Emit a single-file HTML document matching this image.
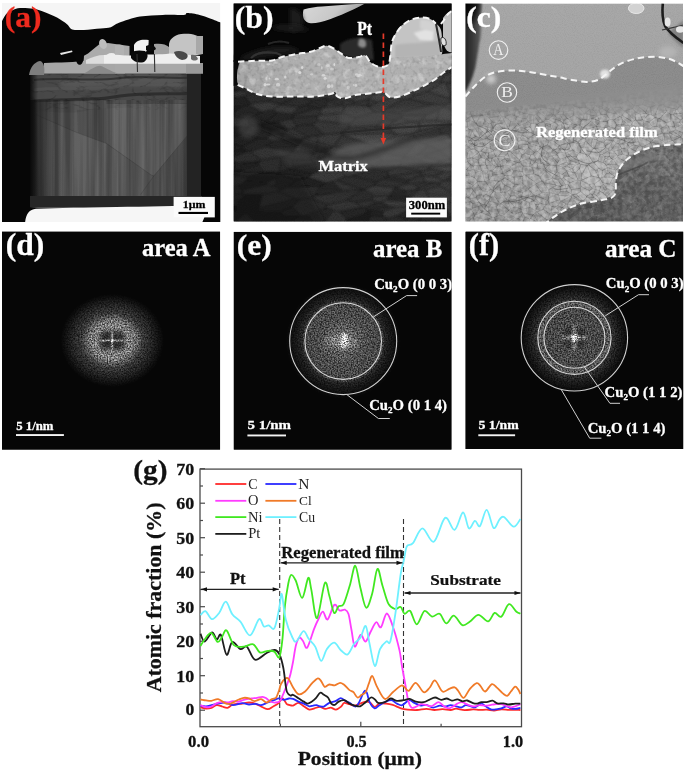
<!DOCTYPE html>
<html><head><meta charset="utf-8"><title>Figure</title>
<style>html,body{margin:0;padding:0;background:#fff;width:685px;height:772px;overflow:hidden;font-family:"Liberation Serif",serif}svg{display:block;will-change:transform}</style>
</head><body>
<svg width="685" height="772" viewBox="0 0 685 772">
<defs>
<filter id="nz" x="0" y="0" width="100%" height="100%">
  <feTurbulence type="fractalNoise" baseFrequency="0.9" numOctaves="2" seed="3" result="t"/>
  <feColorMatrix type="matrix" values="0 0 0 0 1  0 0 0 0 1  0 0 0 0 1  1.4 0 0 0 -0.55"/>
  <feComposite operator="in" in2="SourceGraphic"/>
</filter>
<filter id="nzd" x="0" y="0" width="100%" height="100%">
  <feTurbulence type="fractalNoise" baseFrequency="0.9" numOctaves="2" seed="7" result="t"/>
  <feColorMatrix type="matrix" values="0 0 0 0 0  0 0 0 0 0  0 0 0 0 0  1.4 0 0 0 -0.55"/>
  <feComposite operator="in" in2="SourceGraphic"/>
</filter>
<filter id="streak" x="0" y="0" width="100%" height="100%">
  <feTurbulence type="fractalNoise" baseFrequency="0.35 0.006" numOctaves="2" seed="5"/>
  <feColorMatrix type="matrix" values="0 0 0 0 1  0 0 0 0 1  0 0 0 0 1  1.2 0 0 0 -0.45"/>
  <feComposite operator="in" in2="SourceGraphic"/>
</filter>
<filter id="grain" x="0" y="0" width="100%" height="100%">
  <feTurbulence type="turbulence" baseFrequency="0.06 0.12" numOctaves="3" seed="11"/>
  <feColorMatrix type="matrix" values="0 0 0 0 0  0 0 0 0 0  0 0 0 0 0  -2.2 0 0 0 0.55"/>
  <feComposite operator="in" in2="SourceGraphic"/>
</filter>
<filter id="net" x="0" y="0" width="100%" height="100%">
  <feTurbulence type="turbulence" baseFrequency="0.09" numOctaves="2" seed="21"/>
  <feColorMatrix type="matrix" values="0 0 0 0 0  0 0 0 0 0  0 0 0 0 0  -4 0 0 0 0.5"/>
  <feComposite operator="in" in2="SourceGraphic"/>
</filter>
<filter id="blur07" x="-30%" y="-30%" width="160%" height="160%"><feGaussianBlur stdDeviation="0.7"/></filter>
<filter id="mottle" x="0" y="0" width="100%" height="100%">
  <feTurbulence type="fractalNoise" baseFrequency="0.12" numOctaves="3" seed="9"/>
  <feColorMatrix type="matrix" values="0 0 0 0 1  0 0 0 0 1  0 0 0 0 1  2.4 0 0 0 -1.2"/>
  <feComposite operator="in" in2="SourceGraphic"/>
</filter>
<filter id="mottleD" x="0" y="0" width="100%" height="100%">
  <feTurbulence type="fractalNoise" baseFrequency="0.25" numOctaves="2" seed="13"/>
  <feColorMatrix type="matrix" values="0 0 0 0 0  0 0 0 0 0  0 0 0 0 0  1.6 0 0 0 -0.75"/>
  <feComposite operator="in" in2="SourceGraphic"/>
</filter>
<filter id="speckle1" x="0" y="0" width="1" height="1" color-interpolation-filters="sRGB">
  <feTurbulence type="fractalNoise" baseFrequency="0.7" numOctaves="2" seed="31" result="n"/>
  <feColorMatrix in="n" type="matrix" values="1 0 0 0 0  1 0 0 0 0  1 0 0 0 0  0 0 0 0 1" result="ng"/>
  <feComponentTransfer in="ng" result="nc"><feFuncR type="linear" slope="2.0" intercept="-0.5"/><feFuncG type="linear" slope="2.0" intercept="-0.5"/><feFuncB type="linear" slope="2.0" intercept="-0.5"/></feComponentTransfer>
  <feComposite in="SourceGraphic" in2="nc" operator="arithmetic" k1="1.3" k2="0.35" k3="0" k4="0"/>
  <feGaussianBlur stdDeviation="0.45"/>
</filter>
<filter id="speckle2" x="0" y="0" width="1" height="1" color-interpolation-filters="sRGB">
  <feTurbulence type="fractalNoise" baseFrequency="0.7" numOctaves="2" seed="37" result="n"/>
  <feColorMatrix in="n" type="matrix" values="1 0 0 0 0  1 0 0 0 0  1 0 0 0 0  0 0 0 0 1" result="ng"/>
  <feComponentTransfer in="ng" result="nc"><feFuncR type="linear" slope="2.0" intercept="-0.5"/><feFuncG type="linear" slope="2.0" intercept="-0.5"/><feFuncB type="linear" slope="2.0" intercept="-0.5"/></feComponentTransfer>
  <feComposite in="SourceGraphic" in2="nc" operator="arithmetic" k1="1.3" k2="0.35" k3="0" k4="0"/>
  <feGaussianBlur stdDeviation="0.45"/>
</filter>
<filter id="speckle3" x="0" y="0" width="1" height="1" color-interpolation-filters="sRGB">
  <feTurbulence type="fractalNoise" baseFrequency="0.7" numOctaves="2" seed="41" result="n"/>
  <feColorMatrix in="n" type="matrix" values="1 0 0 0 0  1 0 0 0 0  1 0 0 0 0  0 0 0 0 1" result="ng"/>
  <feComponentTransfer in="ng" result="nc"><feFuncR type="linear" slope="2.0" intercept="-0.5"/><feFuncG type="linear" slope="2.0" intercept="-0.5"/><feFuncB type="linear" slope="2.0" intercept="-0.5"/></feComponentTransfer>
  <feComposite in="SourceGraphic" in2="nc" operator="arithmetic" k1="1.3" k2="0.35" k3="0" k4="0"/>
  <feGaussianBlur stdDeviation="0.45"/>
</filter>
<filter id="vstreak" x="0" y="0" width="100%" height="100%" color-interpolation-filters="sRGB">
  <feTurbulence type="fractalNoise" baseFrequency="0.2 0.004" numOctaves="3" seed="5"/>
  <feColorMatrix type="matrix" values="1 0 0 0 0  1 0 0 0 0  1 0 0 0 0  0 0 0 0 1"/>
  <feComponentTransfer><feFuncR type="linear" slope="2.2" intercept="-0.6"/><feFuncG type="linear" slope="2.2" intercept="-0.6"/><feFuncB type="linear" slope="2.2" intercept="-0.6"/></feComponentTransfer>
  <feComposite operator="in" in2="SourceGraphic"/>
</filter>
<filter id="omottle" x="0" y="0" width="100%" height="100%" color-interpolation-filters="sRGB">
  <feTurbulence type="fractalNoise" baseFrequency="0.22" numOctaves="3" seed="17"/>
  <feColorMatrix type="matrix" values="1 0 0 0 0  1 0 0 0 0  1 0 0 0 0  0 0 0 0 1"/>
  <feComponentTransfer><feFuncR type="linear" slope="2.6" intercept="-0.8"/><feFuncG type="linear" slope="2.6" intercept="-0.8"/><feFuncB type="linear" slope="2.6" intercept="-0.8"/></feComponentTransfer>
  <feComposite operator="in" in2="SourceGraphic"/>
</filter>
<filter id="blur1" x="-40%" y="-40%" width="180%" height="180%"><feGaussianBlur stdDeviation="1"/></filter>
<filter id="blur2" x="-60%" y="-60%" width="220%" height="220%"><feGaussianBlur stdDeviation="2"/></filter>
<filter id="blur4" x="-80%" y="-80%" width="260%" height="260%"><feGaussianBlur stdDeviation="4"/></filter>
<radialGradient id="glowD" cx="0.5" cy="0.5" r="0.5">
  <stop offset="0" stop-color="#9a9a9a"/>
  <stop offset="0.45" stop-color="#7a7a7a"/>
  <stop offset="0.7" stop-color="#3a3a3a"/>
  <stop offset="0.88" stop-color="#141414"/>
  <stop offset="1" stop-color="#000" stop-opacity="0"/>
</radialGradient>
<radialGradient id="glowE" cx="0.5" cy="0.5" r="0.5">
  <stop offset="0" stop-color="#9a9a9a"/>
  <stop offset="0.25" stop-color="#6a6a6a"/>
  <stop offset="0.6" stop-color="#4a4a4a"/>
  <stop offset="0.72" stop-color="#3a3a3a"/>
  <stop offset="0.85" stop-color="#151515"/>
  <stop offset="1" stop-color="#000" stop-opacity="0"/>
</radialGradient>
<radialGradient id="glowF" cx="0.5" cy="0.5" r="0.5">
  <stop offset="0" stop-color="#9a9a9a"/>
  <stop offset="0.25" stop-color="#606060"/>
  <stop offset="0.55" stop-color="#4a4a4a"/>
  <stop offset="0.68" stop-color="#3a3a3a"/>
  <stop offset="0.8" stop-color="#1c1c1c"/>
  <stop offset="1" stop-color="#000" stop-opacity="0"/>
</radialGradient>
<marker id="ahR" viewBox="0 0 10 10" refX="9" refY="5" markerWidth="5" markerHeight="5" orient="auto-start-reverse" markerUnits="userSpaceOnUse">
  <path d="M0,1 L10,5 L0,9 Z" fill="#e53a2a"/>
</marker>
<marker id="ahK" viewBox="0 0 10 10" refX="10" refY="5" markerWidth="7" markerHeight="5" orient="auto-start-reverse" markerUnits="userSpaceOnUse">
  <path d="M0,1 L10,5 L0,9 Z" fill="#222"/>
</marker>
<clipPath id="cpA"><rect x="2" y="3" width="218.3" height="219"/></clipPath>
<clipPath id="cpB"><rect x="233.6" y="3.4" width="218" height="218.2"/></clipPath>
<clipPath id="cpC"><rect x="465.4" y="3.4" width="217.6" height="218.2"/></clipPath>
<clipPath id="cpD"><rect x="2" y="231.5" width="218.2" height="218.3"/></clipPath>
<clipPath id="cpE"><rect x="233.6" y="231.8" width="218" height="218"/></clipPath>
<clipPath id="cpF"><rect x="465.4" y="231.5" width="218" height="217.5"/></clipPath>
</defs>
<g clip-path="url(#cpA)">
<rect x="2" y="3" width="218.3" height="219" fill="#f5f5f5"/>
<path d="M2,21 C2.8,19.7 4.9,15.2 6.7,13.4 C8.5,11.6 10.8,10.9 13,10 C15.2,9.1 16.6,8.2 20,8 C23.4,7.8 29.7,8.1 33.6,8.7 C37.5,9.3 39.7,10.3 43.6,11.8 C47.5,13.3 53.1,15.5 57,17.6 C60.9,19.7 64.5,22.3 67,24.3 C69.5,26.3 69.4,28.5 72.2,29.4 C75,30.3 79.2,30 84,29.9 C88.8,29.8 96.2,28.9 100.7,28.5 C105.2,28.1 107.8,28.1 110.8,27.2 C113.8,26.2 114.1,24.6 119,22.8 C123.9,21 132.7,17.9 140,16.6 C147.3,15.3 155.5,15.2 162.8,14.9 C170.1,14.6 179.7,15.2 183.8,14.9 C187.9,14.6 184.7,13.1 187.3,13.1 C189.9,13.1 195.8,14 199.6,14.9 C203.4,15.8 206.5,17.1 210.1,18.4 C213.7,19.7 219.2,21.9 221,22.6 L221,223 L1,223 Z" fill="#060606"/>
<linearGradient id="specG" x1="0" y1="0" x2="1" y2="0"><stop offset="0" stop-color="#464646"/><stop offset="0.12" stop-color="#525252"/><stop offset="0.5" stop-color="#555"/><stop offset="0.8" stop-color="#4e4e4e"/><stop offset="0.9" stop-color="#424242"/><stop offset="0.97" stop-color="#262626"/><stop offset="1" stop-color="#141414"/></linearGradient>
<rect x="30" y="70" width="166" height="138" fill="url(#specG)"/>
<path d="M30,70 L200,70 L200,104 C180,104 160,100 140,106 C120,110 100,106 80,112 C60,114 45,110 30,112 Z" fill="#474747" opacity="0.9"/>
<path d="M60,80 C90,74 130,73 170,76 C185,77 195,79 200,80 L200,88 C170,86 130,84 90,88 C75,90 65,88 60,86 Z" fill="#5e5e5e" opacity="0.6" filter="url(#blur2)"/>
<path d="M34,80 C60,77 90,82 120,78 C150,75 175,80 198,77" stroke="#2a2a2a" stroke-width="2" fill="none" opacity="0.7"/>
<path d="M34,90 C60,86 90,92 120,86 C150,82 175,88 198,84" stroke="#585858" stroke-width="3" fill="none" opacity="0.5"/>
<path d="M34,101 C60,98 90,102 120,96 C150,92 175,95 198,93" stroke="#262626" stroke-width="3" fill="none" opacity="0.75"/>
<rect x="30" y="70" width="170" height="40" fill="#000" filter="url(#grain)" opacity="0.35"/>
<path d="M106.4,104 L187,104 L187,136 L153.7,176.2 L151,174.9 L106.4,143.4 Z" fill="#626262" opacity="0.55" filter="url(#blur07)"/>
<path d="M77,110 L106.4,108 L106.4,143.4 L77.5,132.8 Z" fill="#3e3e3e" opacity="0.6" filter="url(#blur07)"/>
<path d="M30,112 L77,110 L77.5,132.8 L35.5,114.5 Z" fill="#4a4a4a" opacity="0.5" filter="url(#blur07)"/>
<path d="M153.7,176.2 L187,136 L187,200 L140,200 L140.6,194.6 Z" fill="#4c4c4c" opacity="0.45" filter="url(#blur07)"/>
<path d="M35.5,114.5 L77.5,132.8 L106.4,143.4 L151,174.9 L154,176" stroke="#3a3a3a" stroke-width="0.9" fill="none" opacity="0.5"/>
<path d="M187,136 L153.7,176.2 L140.6,194.6" stroke="#3a3a3a" stroke-width="0.9" fill="none" opacity="0.5"/>
<linearGradient id="ldA" x1="0" y1="0" x2="1" y2="0"><stop offset="0" stop-color="#1a1a1a" stop-opacity="0.9"/><stop offset="1" stop-color="#1a1a1a" stop-opacity="0"/></linearGradient>
<rect x="30" y="100" width="32" height="100" fill="url(#ldA)"/>
<rect x="31" y="100" width="165" height="106" fill="#888" filter="url(#vstreak)" style="mix-blend-mode:overlay" opacity="0.17"/>
<linearGradient id="rsA" x1="0" y1="0" x2="1" y2="0"><stop offset="0" stop-color="#2a2a2a" stop-opacity="0"/><stop offset="1" stop-color="#2a2a2a" stop-opacity="0.5"/></linearGradient>
<rect x="180" y="70" width="8" height="138" fill="url(#rsA)"/>
<rect x="187" y="70" width="14.5" height="137" fill="#232323"/>
<rect x="201" y="70" width="20" height="137" fill="#060606"/>
<linearGradient id="lfA" x1="0" y1="0" x2="1" y2="0"><stop offset="0" stop-color="#060606"/><stop offset="1" stop-color="#060606" stop-opacity="0"/></linearGradient>
<rect x="29" y="70" width="9" height="138" fill="url(#lfA)"/>
<rect x="30" y="196" width="172" height="11" fill="#262626"/>
<path d="M44,73.5 L44,63 C60,62 75,63 88,60 C92,57 95,55 98,54 L100,52 L125,50 L125,73.5 Z" fill="#a6a6a6"/>
<path d="M115,73.5 L115,63 L203,63 L203,73.5 Z" fill="#a8a8a8"/>
<path d="M186,63 L203,63 L203,73.5 L186,73.5 Z" fill="#9a9a9a"/>
<path d="M84,73.5 C90,70 95,66 100,65.7 C105,67 110,71 118,73.5 Z" fill="#8a8a8a"/>
<path d="M29,75 C30,68 34,62 40,61 C44,62 45,68 44,75 Z" fill="#7e7e7e"/>
<path d="M169,44 C170,38 176,34 184,33.8 C192,33.5 199,35 202,40 L203,54 C195,56 180,55 169,54 Z" fill="#c4c4c4"/>
<path d="M196,36 L203,36 L203,54 L196,54 Z" fill="#a8a8a8"/>
<path d="M83.5,64 L83.5,56 L88,53.6 L94.7,48 L99,44.5 L108,43 L115,44 L122,45 L129.5,46 L129.5,64 Z" fill="#ababab"/>
<ellipse cx="103" cy="44" rx="3.8" ry="5" transform="rotate(-20 103 44)" fill="#bdbdbd"/>
<ellipse cx="111.5" cy="58" rx="6" ry="5" fill="#ececec" filter="url(#blur07)"/>
<ellipse cx="125" cy="58.7" rx="4.5" ry="3" fill="#e8e8e8" filter="url(#blur07)"/>
<path d="M115,45.4 C118,44 123,44 124,47 L124,56 L115,56 Z" fill="#b2b2b2"/>
<path d="M154,44 C160,43 166,44 169,47 L169,56 L154,56 Z" fill="#a0a0a0"/>
<path d="M134,45 C136,40 142,39 148.6,40 C149,46 147,52 144,54 L134,54 Z" fill="#f2f2f2"/>
<path d="M104,55 C115,53 125,57 135,55 C150,54 160,55 170,53.5 C180,54 190,55 200,56 L200,63.8 L104,63.8 Z" fill="#eeeeee"/>
<path d="M86,60 C92,57 98,55 104,55 L104,63.8 L86,63.8 Z" fill="#dcdcdc"/>
<path d="M131,53 C134,50 140,50 145,51 C149,54 148,59 144,62 C139,63.5 134,62 131,58 Z" fill="#0a0a0a"/>
<path d="M146,46 C150,44 155,45 156,49 C153,52 149,52 146,50 Z" fill="#0a0a0a"/>
<path d="M174,52 C178,50 184,51 187,54 C189,57 186,60 182,60 C178,59 175,56 174,52 Z" fill="#4a4a4a"/>
<path d="M191,55 C194,54 197,56 198,59 C196,61 193,61 191,59 Z" fill="#6a6a6a"/>
<path d="M73,54 L84,54 C84,58 83.5,61 82,63.5 C80.5,65.5 78,65 77,63 C76,60 74.5,57 73,54 Z" fill="#070707"/>
<path d="M60,53 L72,50.5 L72.5,52 L61,55 Z" fill="#e6e6e6"/>
<path d="M137,54 L137.5,72 M154.4,54 L154.8,72" stroke="#333" stroke-width="1.1"/>
<path d="M25,223 C26,214 29,209.5 36,208.8 C80,207.5 150,206.5 205,205.5 L205,223 Z" fill="#f6f6f6"/>
<path d="M202,223 L204.5,217 L215,217 L215,196 L221,196 L221,223 Z" fill="#060606"/>
<rect x="173.6" y="196.9" width="41.2" height="20.5" fill="#fbfbfb"/>
<text transform="translate(182.77,207.97) scale(1.08,1)" text-anchor="start" font-family="Liberation Serif" font-weight="bold" font-size="11.03" fill="#000" stroke="#000" stroke-width="0.28" stroke-linejoin="round">1μm</text>
<rect x="178.5" y="211.9" width="29.5" height="2.1" fill="#000"/>
<text transform="translate(4.64,27.27) scale(1.04,1)" text-anchor="start" font-family="Liberation Serif" font-weight="bold" font-size="30.31" fill="#ee2a1e" stroke="#ee2a1e" stroke-width="0.29" stroke-linejoin="round">(a)</text>
</g>
<g clip-path="url(#cpB)">
<rect x="233.6" y="3.4" width="218" height="218.2" fill="#060606"/>
<g filter="url(#blur1)"><path d="M388.8,195.6 L374,195.5 L371.2,199.7 L377.6,202.5 L381,202.1 L386.4,200 L389.3,196.6Z" fill="#373737"/><path d="M324.9,74.1 L316.2,80 L321.3,81.6 L350.6,78.7 L353.2,71.7Z" fill="#2a2a2a"/><path d="M360.8,160 L363.5,155.8 L360.8,149.6 L352.2,151.2 L347.1,156.5 L356.2,160.9Z" fill="#434343"/><path d="M416.2,55.7 L418.3,57 L432.9,59.6 L437.2,58 L437.8,56.4 L435.3,55 L416.3,55Z" fill="#373737"/><path d="M264.4,75.5 L270.6,74.2 L263.7,62.3 L238.7,68.4Z" fill="#262626"/><path d="M336.4,180.6 L362.6,189.8 L363.8,189.6 L374.3,185.6 L376.4,182 L351.3,175.7 L345.7,176Z" fill="#2d2d2d"/><path d="M451.6,93.8 L451.6,83.4 L447.7,82.7 L445.6,82.9 L450.5,94.3Z" fill="#3c3c3c"/><path d="M295.5,58.4 L298.6,60.2 L308.9,56.2 L309.2,55 L292.4,55Z" fill="#313131"/><path d="M284.1,156.3 L281.1,156.9 L279.5,171.8 L289.1,169.4 L293.4,167.3 L292.1,160.4Z" fill="#2c2c2c"/><path d="M276.1,90.3 L277.9,92.9 L293.6,96 L301,89.2 L292.3,85.7 L279.6,88.5 L277.8,89.2Z" fill="#282828"/><path d="M441.2,134.4 L438.7,127.4 L419.5,130.3 L411,134.2 L419.2,140.8Z" fill="#414141"/><path d="M308.8,137.3 L292.4,129 L288.8,129.5 L282.5,133.9 L282.6,140 L303.4,139.1Z" fill="#3b3b3b"/><path d="M419.2,220.8 L413.5,222 L423.9,222Z" fill="#2b2b2b"/><path d="M311.1,159.1 L314.4,152.2 L293.3,151.6 L293,151.7 L284.1,156.3 L292.1,160.4Z" fill="#2f2f2f"/><path d="M246.3,194.5 L239.5,200.3 L236.3,205.7 L237.2,210.7 L246.1,211.6 L255.1,209.9 L259.2,207.9 L262.3,194.3Z" fill="#181818"/><path d="M303.6,97.2 L296.1,97.4 L279.8,104.3 L279.9,104.8 L298.9,106.9 L307.3,104.9 L312.9,100.2Z" fill="#2d2d2d"/><path d="M325.6,207.8 L333.1,210.2 L340.1,211.5 L361.7,207.6 L355.4,202.1 L346.7,200.4 L326.8,204.7Z" fill="#343434"/><path d="M239.5,200.3 L246.3,194.5 L243.2,193.2 L233.6,194.7 L233.6,200.6Z" fill="#232323"/><path d="M436.2,222 L451.6,222 L451.6,219.3Z" fill="#2d2d2d"/><path d="M236.1,97.4 L233.6,97.2 L233.6,98.4Z" fill="#141414"/><path d="M361.3,94.9 L375.5,93.5 L381.3,91.5 L383.7,87.1 L355.8,85.1 L342.5,91.2 L350.5,95.2Z" fill="#363636"/><path d="M295.5,58.4 L292.4,55 L283.5,55 L271.7,59.4 L277.4,60.7Z" fill="#3a3a3a"/><path d="M305.2,72.4 L309.1,80.3 L316.2,80 L324.9,74.1 L323.4,68.9Z" fill="#333333"/><path d="M387.9,218.2 L382.6,216.7 L370.5,215.4 L368.1,222 L382.6,222Z" fill="#2b2b2b"/><path d="M317.5,116 L317.5,120.8 L350.1,123.9 L356.3,117.4 L342.1,113.3 L320.9,114.7Z" fill="#404040"/><path d="M389.1,206.4 L367.6,210.3 L367.5,211.2 L383,211.2 L395.1,207.1Z" fill="#303030"/><path d="M249.8,126 L250.1,125.9 L247.7,119.3 L233.9,116 L233.6,116 L233.6,127Z" fill="#2f2f2f"/><path d="M235.6,220.9 L233.6,221.7 L233.6,222 L238.7,222Z" fill="#060606"/><path d="M257.4,125.4 L271.8,130.3 L287.8,129.5 L277,121.9 L262.3,124.3Z" fill="#212121"/><path d="M310,198.2 L326.8,204.7 L346.7,200.4 L361.9,190.1 L342.4,191.1 L313.8,196Z" fill="#323232"/><path d="M342.5,91.2 L355.8,85.1 L351.7,81 L331.1,87 L329.9,90 L336.8,92.2Z" fill="#353535"/><path d="M348,96.8 L330.3,99.3 L342.4,101 L347.1,99.5Z" fill="#404040"/><path d="M236.8,80.7 L233.6,79.3 L233.6,82.5Z" fill="#292929"/><path d="M301.4,216 L306.8,215.6 L325.6,207.8 L326.8,204.7 L310,198.2 L300.4,199.2 L291.9,206.9Z" fill="#2f2f2f"/><path d="M435.7,182.6 L417.6,187.9 L417.7,189.3 L419.8,189.9 L425.7,189.8 L438.7,185.8 L439.9,182.6Z" fill="#383838"/><path d="M389.1,206.4 L395.1,207.1 L413.3,206.6 L420.2,204.7 L414.7,202.1 L386.4,200 L381,202.1Z" fill="#3c3c3c"/><path d="M280.3,189.6 L278.3,191.5 L295.2,198.8 L300.4,199.2 L310,198.2 L313.8,196 L320.5,186.2 L287.6,186.7Z" fill="#2e2e2e"/><path d="M271.2,133.9 L265.9,138.5 L273,141.5 L282.6,140 L282.5,133.9Z" fill="#353535"/><path d="M424.5,182.2 L414.6,184.3 L417.6,187.9 L435.7,182.6Z" fill="#343434"/><path d="M383.2,161.5 L400.6,160.3 L403.4,158.1 L403.8,157.1 L403.7,156.9 L385,153.7 L382.3,154.9 L379.4,157Z" fill="#4a4a4a"/><path d="M279.9,174.9 L261.8,182 L265.5,183.4 L277.8,178.1 L280.6,175.5Z" fill="#242424"/><path d="M347.1,220.1 L340.1,211.5 L333.1,210.2 L324.7,222 L345,222Z" fill="#313131"/><path d="M396.9,216 L413.3,206.6 L395.1,207.1 L383,211.2 L382.6,216.7 L387.9,218.2Z" fill="#393939"/><path d="M278.5,172.2 L279.9,174.9 L280.6,175.5 L296.4,180 L308.2,177.6 L312.3,173.8 L289.1,169.4 L279.5,171.8Z" fill="#242424"/><path d="M419.2,220.8 L421.3,217.1 L405.2,219.1 L406.6,222 L413.5,222Z" fill="#2a2a2a"/><path d="M306.8,215.6 L301.4,216 L299.7,216.4 L290.9,221.1 L291.6,222 L313.9,222Z" fill="#1c1c1c"/><path d="M445.2,180.5 L443.6,180.8 L439.9,182.6 L438.7,185.8 L451.6,192.7 L451.6,180.6Z" fill="#3b3b3b"/><path d="M360.8,149.6 L371.8,145.4 L372.1,144.8 L342.5,134.9 L334.2,145.7 L351.4,151.2 L352.2,151.2Z" fill="#373737"/><path d="M245.9,212.7 L235.6,220.9 L238.7,222 L255,222Z" fill="#232323"/><path d="M406.5,190.9 L395.6,187.5 L395,187.6 L390.3,194.7 L405.3,193.4Z" fill="#2c2c2c"/><path d="M416.2,55.7 L381.2,60.1 L380.3,60.5 L389.6,63.5 L418.3,57Z" fill="#313131"/><path d="M433,164.3 L442,161.2 L424.3,157.1 L420.2,159.1 L424.4,162.9Z" fill="#484848"/><path d="M382.7,111.7 L384.8,118.8 L393.4,121.6 L401.2,118.4 L402.4,115.4 L398.8,113.1Z" fill="#353535"/><path d="M377.6,202.5 L365.1,208 L367.6,210.3 L389.1,206.4 L381,202.1Z" fill="#2a2a2a"/><path d="M390.3,194.7 L395,187.6 L374.3,185.6 L363.8,189.6 L374,195.5 L388.8,195.6Z" fill="#3d3d3d"/><path d="M312.3,173.8 L308.2,177.6 L325.7,183.1 L331.9,181.8 L336.4,180.6 L345.7,176 L338.4,168 L328.7,167.1Z" fill="#3a3a3a"/><path d="M261.8,182 L245.9,180.9 L238.4,185.7 L242.5,190 L266.2,184.4 L265.5,183.4Z" fill="#1d1d1d"/><path d="M323.4,68.9 L324.9,74.1 L353.2,71.7 L359.3,66.8 L360.4,65.7 L331.6,63.1Z" fill="#2b2b2b"/><path d="M293.8,66.2 L296.2,65.2 L298.6,60.2 L295.5,58.4 L277.4,60.7Z" fill="#3b3b3b"/><path d="M341.8,105.6 L340.6,105.6 L325.1,107.3 L320.2,109.1 L320.9,114.7 L342.1,113.3 L344.6,106.3Z" fill="#414141"/><path d="M372,165.8 L372.2,165.9 L383.2,161.5 L379.4,157 L366.5,160.4Z" fill="#414141"/><path d="M291.7,114.2 L277.7,112.4 L262.3,124.3 L277,121.9 L291.1,118.9 L293.6,117.6 L293,115.6Z" fill="#262626"/><path d="M246.1,211.6 L237.2,210.7 L233.6,211.4 L233.6,221.7 L235.6,220.9 L245.9,212.7Z" fill="#141414"/><path d="M355.6,101.7 L368.1,98.7 L375.5,93.5 L361.3,94.9 L351.5,99.8Z" fill="#434343"/><path d="M436.4,120.4 L451.6,121.4 L451.6,111 L444.1,107 L439.3,109.2Z" fill="#4d4d4d"/><path d="M421,171.8 L421,174.9 L422.8,175.5 L434.2,176.4 L444.9,171.4 L428.7,168.2 L422.3,170.8Z" fill="#373737"/><path d="M363.5,155.8 L382.3,154.9 L385,153.7 L385.3,149.7 L371.8,145.4 L360.8,149.6Z" fill="#3b3b3b"/><path d="M369.3,106.9 L377.5,102 L368.1,98.8 L368.1,106.2Z" fill="#393939"/><path d="M248.3,151.2 L244.3,149.9 L233.6,151 L233.6,156.8Z" fill="#202020"/><path d="M377.1,60.9 L380.3,60.5 L381.2,60.1 L388.9,55.5 L389.1,55 L366.9,55Z" fill="#3e3e3e"/><path d="M291.1,118.9 L297.2,125.7 L312,124.3 L317.5,120.8 L317.5,116 L293.6,117.6Z" fill="#2f2f2f"/><path d="M247.9,94.1 L276.1,90.3 L277.8,89.2 L261.1,84 L246.6,92.4Z" fill="#373737"/><path d="M351.7,81 L355.8,85.1 L383.7,87.1 L394,82.9 L394.4,75.4 L379.1,75.6 L350.9,78.9Z" fill="#313131"/><path d="M319.9,93.3 L310.2,92.6 L303.6,97.2 L312.9,100.2 L325.3,98.3 L325.4,98.2Z" fill="#353535"/><path d="M287.8,129.5 L271.8,130.3 L271.2,133.9 L282.5,133.9 L288.8,129.5Z" fill="#383838"/><path d="M233.6,167 L233.6,170.1 L235.1,169.4 L234.1,167.2Z" fill="#1a1a1a"/><path d="M329.9,90 L331.1,87 L321.1,82.3 L314.6,89.2 L323.2,90.1Z" fill="#2b2b2b"/><path d="M419.2,220.8 L423.9,222 L436.2,222 L451.6,219.3 L451.6,218.5 L444.3,204.5 L421.3,217.1Z" fill="#252525"/><path d="M411.4,82.7 L413,82.9 L440.8,81.8 L443,76.3 L429.9,71.9 L425.2,72.9Z" fill="#404040"/><path d="M255.7,55.4 L266.6,60.1 L271.7,59.4 L283.5,55 L255.9,55Z" fill="#2f2f2f"/><path d="M376,126.6 L348.5,128.3 L340.6,133.1 L342.3,134.6 L395.4,133.7 L388.3,127.3 L388,127.2Z" fill="#3a3a3a"/><path d="M373.4,168.8 L387.7,170.5 L397.9,166.6 L400.7,164.1 L400.6,160.3 L383.2,161.5 L372.2,165.9Z" fill="#3f3f3f"/><path d="M440.8,81.8 L413,82.9 L413.6,95.9 L427.7,91.5 L443,82.6Z" fill="#3f3f3f"/><path d="M351.5,99.8 L361.3,94.9 L350.5,95.2 L348,96.8 L347.1,99.5Z" fill="#434343"/><path d="M303.4,139.1 L282.6,140 L273,141.5 L265.8,146.4 L293,151.7 L293.3,151.6Z" fill="#282828"/><path d="M340.6,105.6 L328.3,101.3 L325.1,107.3Z" fill="#383838"/><path d="M400.6,160.3 L400.7,164.1 L424.4,162.9 L420.2,159.1 L403.4,158.1Z" fill="#414141"/><path d="M439.8,150.6 L450.2,158.8 L450.6,158.8 L451.6,158.5 L451.6,146.7 L439.9,150.3Z" fill="#4e4e4e"/><path d="M311.3,159.4 L330.2,155.5 L330.6,154.5 L320.2,151.5 L316.3,151.9 L314.4,152.2 L311.1,159.1Z" fill="#3a3a3a"/><path d="M387.7,170.5 L387.7,176.4 L388.1,176.4 L421,171.8 L422.3,170.8 L397.9,166.6Z" fill="#373737"/><path d="M293.6,117.6 L317.5,116 L320.9,114.7 L320.2,109.1 L315.3,108.2 L293,115.6Z" fill="#323232"/><path d="M432.9,59.6 L428.4,62.7 L433.7,66.3 L438.2,66.6 L443.6,66.4 L451.6,65.2 L451.6,58 L437.2,58Z" fill="#3f3f3f"/><path d="M299.7,216.4 L284,215.8 L269.6,220.3 L267.1,222 L287.3,222 L290.9,221.1Z" fill="#151515"/><path d="M388.3,127.3 L410.4,121.6 L401.2,118.4 L393.4,121.6 L388,127.2Z" fill="#474747"/><path d="M300.4,199.2 L295.2,198.8 L259.2,207.9 L255.1,209.9 L265.4,211.7 L279.5,211.7 L291.9,206.9Z" fill="#202020"/><path d="M330.6,154.5 L351.4,151.2 L334.2,145.7 L320.2,151.5Z" fill="#393939"/><path d="M342.5,91.2 L336.8,92.2 L325.4,98.2 L325.3,98.3 L327.8,99.2 L330.3,99.3 L348,96.8 L350.5,95.2Z" fill="#393939"/><path d="M250,151.3 L248.3,151.2 L233.6,156.8 L233.6,160.8 L236.5,162.9 L259.9,161.1 L261.6,159.9Z" fill="#2f2f2f"/><path d="M269.6,220.3 L265.4,211.7 L255.1,209.9 L246.1,211.6 L245.9,212.7 L255,222 L267.1,222Z" fill="#141414"/><path d="M434.2,176.4 L422.8,175.5 L424.5,182.2 L435.7,182.6 L439.9,182.6 L443.6,180.8Z" fill="#3f3f3f"/><path d="M443.6,66.4 L438.2,66.6 L447.4,73.8 L451.6,72 L451.6,71.9Z" fill="#303030"/><path d="M388.9,55.5 L391.6,55 L389.1,55Z" fill="#363636"/><path d="M236.5,162.9 L233.6,164.1 L233.6,167 L234.1,167.2 L258.9,163 L259.9,161.1Z" fill="#242424"/><path d="M308.9,56.2 L330.1,59.6 L335.5,55 L309.2,55Z" fill="#2a2a2a"/><path d="M241.4,106.9 L233.6,106.3 L233.6,112.5Z" fill="#1d1d1d"/><path d="M363.8,189.6 L362.6,189.8 L361.9,190.1 L346.7,200.4 L355.4,202.1 L371.2,199.7 L374,195.5Z" fill="#2d2d2d"/><path d="M336.8,92.2 L329.9,90 L323.2,90.1 L319.9,93.3 L325.4,98.2Z" fill="#393939"/><path d="M342.3,134.6 L342.5,134.9 L372.1,144.8 L397.4,134.7 L395.4,133.7Z" fill="#494949"/><path d="M444.4,104.6 L444.1,107 L451.6,111 L451.6,101.5Z" fill="#3d3d3d"/><path d="M233.6,170.1 L233.6,175.5 L235.7,175.6 L244.2,168.5 L235.1,169.4Z" fill="#1f1f1f"/><path d="M338.4,168 L345.7,176 L351.3,175.7 L373.4,168.8 L372.2,165.9 L372,165.8 L343.1,166.7Z" fill="#3d3d3d"/><path d="M293,151.7 L265.8,146.4 L250,151.3 L261.6,159.9 L281.1,156.9 L284.1,156.3Z" fill="#343434"/><path d="M262.3,194.3 L259.2,207.9 L295.2,198.8 L278.3,191.5Z" fill="#2e2e2e"/><path d="M261.7,112.1 L272.1,110.1 L279.9,104.8 L279.8,104.3 L268.8,101.5 L250.1,103.4 L248.5,104.6Z" fill="#3a3a3a"/><path d="M418.3,57 L389.6,63.5 L400.5,68.3 L428.4,62.7 L432.9,59.6Z" fill="#353535"/><path d="M409.7,179.7 L421,174.9 L421,171.8 L388.1,176.4Z" fill="#373737"/><path d="M353.2,71.7 L350.6,78.7 L350.9,78.9 L379.1,75.6 L359.3,66.8Z" fill="#424242"/><path d="M447.9,134.5 L450,138 L451.6,137.4 L451.6,131.6Z" fill="#3e3e3e"/><path d="M279.5,211.7 L284,215.8 L299.7,216.4 L301.4,216 L291.9,206.9Z" fill="#212121"/><path d="M437.8,56.4 L440.2,55 L435.3,55Z" fill="#404040"/><path d="M374.1,112.2 L381.7,111.4 L403,99.5 L393,96.6 L377.5,102 L369.3,106.9Z" fill="#3d3d3d"/><path d="M268.8,101.5 L277.9,92.9 L276.1,90.3 L247.9,94.1 L245.1,96.1 L250.1,103.4Z" fill="#2d2d2d"/><path d="M368.1,98.8 L377.5,102 L393,96.6 L381.3,91.5 L375.5,93.5 L368.1,98.7Z" fill="#454545"/><path d="M445.2,180.5 L451.6,175.3 L451.6,171.4 L444.9,171.4 L434.2,176.4 L443.6,180.8Z" fill="#3c3c3c"/><path d="M451.6,124.5 L451.6,124.5 L451.6,121.4 L436.4,120.4 L421.8,120.1 L419.1,121.6 L419.5,130.3 L438.7,127.4Z" fill="#464646"/><path d="M449.7,138.3 L439.2,140.5 L451.6,144.6 L451.6,138.8Z" fill="#525252"/><path d="M379.4,157 L382.3,154.9 L363.5,155.8 L360.8,160 L366.5,160.4Z" fill="#373737"/><path d="M402.4,115.4 L426.2,115.2 L439.3,109.2 L444.1,107 L444.4,104.6 L432.5,104.2 L398.8,113.1Z" fill="#3e3e3e"/><path d="M384.8,118.8 L382.7,111.7 L381.7,111.4 L374.1,112.2 L356.3,117.4 L350.1,123.9 L348.5,128.3 L376,126.6Z" fill="#3c3c3c"/><path d="M237.4,59.7 L255.7,55.4 L255.9,55 L233.6,55 L233.6,58.9Z" fill="#343434"/><path d="M315.3,108.2 L307.3,104.9 L298.9,106.9 L291.7,114.2 L293,115.6Z" fill="#2b2b2b"/><path d="M437.8,56.4 L437.2,58 L451.6,58 L451.6,55 L440.2,55Z" fill="#393939"/><path d="M277.8,89.2 L279.6,88.5 L273.5,74.1 L270.6,74.2 L264.4,75.5 L259.7,77.4 L261.1,84Z" fill="#272727"/><path d="M240.6,90.5 L244.3,91.2 L251.3,79.2 L236.8,80.7 L233.6,82.5 L233.6,88.6Z" fill="#272727"/><path d="M249.8,126 L243.3,133.2 L258.1,138.3 L265.9,138.5 L271.2,133.9 L271.8,130.3 L257.4,125.4 L250.1,125.9Z" fill="#262626"/><path d="M376.4,182 L374.3,185.6 L395,187.6 L395.6,187.5 L407.1,184.1 L407.7,182.4 L383.8,178.4Z" fill="#303030"/><path d="M238.4,185.7 L245.9,180.9 L248,177.6 L235.7,175.6 L233.6,175.5 L233.6,185.9Z" fill="#2e2e2e"/><path d="M280.6,175.5 L277.8,178.1 L274.1,186.1 L280.3,189.6 L287.6,186.7 L296.4,180Z" fill="#222222"/><path d="M388.9,55.5 L381.2,60.1 L416.2,55.7 L416.3,55 L391.6,55Z" fill="#333333"/><path d="M301,89.2 L293.6,96 L296.1,97.4 L303.6,97.2 L310.2,92.6 L312.9,89.8Z" fill="#3a3a3a"/><path d="M321.3,81.6 L321.1,82.3 L331.1,87 L351.7,81 L350.9,78.9 L350.6,78.7Z" fill="#3c3c3c"/><path d="M408.6,196.9 L409.8,197.3 L419.8,189.9 L417.7,189.3 L406.5,190.9 L405.3,193.4Z" fill="#313131"/><path d="M236.8,80.7 L251.3,79.2 L259.7,77.4 L264.4,75.5 L238.7,68.4 L233.6,68.6 L233.6,79.3Z" fill="#393939"/><path d="M393.4,121.6 L384.8,118.8 L376,126.6 L388,127.2Z" fill="#424242"/><path d="M342.4,101 L341.8,105.6 L344.6,106.3 L350.9,104.8 L355.6,101.7 L351.5,99.8 L347.1,99.5Z" fill="#353535"/><path d="M450,138 L449.7,138.3 L451.6,138.8 L451.6,137.4Z" fill="#4c4c4c"/><path d="M272.1,110.1 L261.7,112.1 L247.7,119.3 L250.1,125.9 L257.4,125.4 L262.3,124.3 L277.7,112.4Z" fill="#262626"/><path d="M243.3,133.2 L233.6,137.2 L233.6,143.7 L241.5,146.6 L258.1,138.3Z" fill="#242424"/><path d="M314.4,152.2 L316.3,151.9 L317.9,135.9 L308.8,137.3 L303.4,139.1 L293.3,151.6Z" fill="#3c3c3c"/><path d="M244.3,149.9 L241.5,146.6 L233.6,143.7 L233.6,151Z" fill="#202020"/><path d="M450.6,158.8 L451.6,159.7 L451.6,158.5Z" fill="#535353"/><path d="M443.6,66.4 L451.6,71.9 L451.6,65.2Z" fill="#333333"/><path d="M328.9,162.3 L347.1,156.5 L352.2,151.2 L351.4,151.2 L330.6,154.5 L330.2,155.5Z" fill="#303030"/><path d="M293.4,167.3 L289.1,169.4 L312.3,173.8 L328.7,167.1 L325.9,164.6 L315,163.6Z" fill="#252525"/><path d="M277,121.9 L287.8,129.5 L288.8,129.5 L292.4,129 L297.2,125.7 L291.1,118.9Z" fill="#353535"/><path d="M443,76.3 L447.4,73.8 L438.2,66.6 L433.7,66.3 L429.9,71.9Z" fill="#3d3d3d"/><path d="M240.6,90.5 L233.6,88.6 L233.6,91.8Z" fill="#181818"/><path d="M237.2,210.7 L236.3,205.7 L233.6,205.4 L233.6,211.4Z" fill="#070707"/><path d="M450.5,94.3 L445.6,82.9 L443,82.6 L427.7,91.5 L450.4,98.7Z" fill="#454545"/><path d="M315,163.6 L325.9,164.6 L328.9,162.3 L330.2,155.5 L311.3,159.4Z" fill="#343434"/><path d="M246.6,92.4 L261.1,84 L259.7,77.4 L251.3,79.2 L244.3,91.2Z" fill="#3a3a3a"/><path d="M323.2,90.1 L314.6,89.2 L312.9,89.8 L310.2,92.6 L319.9,93.3Z" fill="#2a2a2a"/><path d="M403.7,156.9 L403.8,157.1 L416.3,155.1 L427.9,145.7 L423.5,143.5 L420.5,143.1 L414.8,145.2Z" fill="#4f4f4f"/><path d="M445.2,180.5 L451.6,180.6 L451.6,175.3Z" fill="#363636"/><path d="M420.2,159.1 L424.3,157.1 L426.8,154.4 L416.3,155.1 L403.8,157.1 L403.4,158.1Z" fill="#4f4f4f"/><path d="M333.1,210.2 L325.6,207.8 L306.8,215.6 L313.9,222 L324.7,222Z" fill="#272727"/><path d="M414.6,184.3 L407.1,184.1 L395.6,187.5 L406.5,190.9 L417.7,189.3 L417.6,187.9Z" fill="#3c3c3c"/><path d="M265.4,211.7 L269.6,220.3 L284,215.8 L279.5,211.7Z" fill="#191919"/><path d="M266.2,184.4 L274.1,186.1 L277.8,178.1 L265.5,183.4Z" fill="#313131"/><path d="M416.3,155.1 L426.8,154.4 L439.8,150.6 L439.9,150.3 L427.9,145.7Z" fill="#444444"/><path d="M241.4,106.9 L248.5,104.6 L250.1,103.4 L245.1,96.1 L236.1,97.4 L233.6,98.4 L233.6,106.3Z" fill="#242424"/><path d="M359.3,66.8 L379.1,75.6 L394.4,75.4 L398.9,71.4 L400.5,68.3 L389.6,63.5 L380.3,60.5 L377.1,60.9 L360.4,65.7Z" fill="#3d3d3d"/><path d="M312.9,100.2 L307.3,104.9 L315.3,108.2 L320.2,109.1 L325.1,107.3 L328.3,101.3 L327.8,99.2 L325.3,98.3Z" fill="#2b2b2b"/><path d="M370.5,215.4 L364.8,214.4 L347.1,220.1 L345,222 L368.1,222Z" fill="#1d1d1d"/><path d="M330.1,59.6 L329.2,61.4 L331.6,63.1 L360.4,65.7 L377.1,60.9 L366.9,55 L335.5,55Z" fill="#363636"/><path d="M395.4,133.7 L397.4,134.7 L411,134.2 L419.5,130.3 L419.1,121.6 L410.4,121.6 L388.3,127.3Z" fill="#474747"/><path d="M444.3,204.1 L444.3,204.5 L451.6,218.5 L451.6,201.7Z" fill="#3a3a3a"/><path d="M240.6,90.5 L233.6,91.8 L233.6,97.2 L236.1,97.4 L245.1,96.1 L247.9,94.1 L246.6,92.4 L244.3,91.2Z" fill="#353535"/><path d="M451.6,124.5 L451.6,124.5 L451.6,124.5Z" fill="#3a3a3a"/><path d="M350.1,123.9 L317.5,120.8 L312,124.3 L323.9,134.6 L340.6,133.1 L348.5,128.3Z" fill="#393939"/><path d="M421.8,120.1 L436.4,120.4 L439.3,109.2 L426.2,115.2Z" fill="#4b4b4b"/><path d="M293.8,66.2 L288.3,70.2 L305.2,72.4 L323.4,68.9 L331.6,63.1 L329.2,61.4 L296.2,65.2Z" fill="#2b2b2b"/><path d="M271.7,59.4 L266.6,60.1 L263.7,62.3 L270.6,74.2 L273.5,74.1 L278.7,73.2 L288.3,70.2 L293.8,66.2 L277.4,60.7Z" fill="#383838"/><path d="M350.9,104.8 L368.1,106.2 L368.1,98.8 L368.1,98.7 L355.6,101.7Z" fill="#343434"/><path d="M398.9,71.4 L394.4,75.4 L394,82.9 L411.4,82.7 L425.2,72.9Z" fill="#363636"/><path d="M288.3,70.2 L278.7,73.2 L299.7,82.2 L309.1,80.3 L305.2,72.4Z" fill="#272727"/><path d="M428.7,168.2 L444.9,171.4 L451.6,171.4 L451.6,159.7 L450.6,158.8 L450.2,158.8 L442,161.2 L433,164.3Z" fill="#4c4c4c"/><path d="M420.5,143.1 L423.5,143.5 L439.2,140.5 L449.7,138.3 L450,138 L447.9,134.5 L441.2,134.4 L419.2,140.8Z" fill="#4a4a4a"/><path d="M238.4,185.7 L233.6,185.9 L233.6,194.7 L243.2,193.2 L242.5,190Z" fill="#262626"/><path d="M450.4,98.7 L427.7,91.5 L413.6,95.9 L408.4,98.9 L432.5,104.2 L444.4,104.6 L451.6,101.5 L451.6,101.1Z" fill="#3e3e3e"/><path d="M382.6,216.7 L383,211.2 L367.5,211.2 L364.8,214.4 L370.5,215.4Z" fill="#222222"/><path d="M347.1,156.5 L328.9,162.3 L325.9,164.6 L328.7,167.1 L338.4,168 L343.1,166.7 L356.2,160.9Z" fill="#303030"/><path d="M233.9,116 L247.7,119.3 L261.7,112.1 L248.5,104.6 L241.4,106.9 L233.6,112.5 L233.6,112.7Z" fill="#272727"/><path d="M298.9,106.9 L279.9,104.8 L272.1,110.1 L277.7,112.4 L291.7,114.2Z" fill="#3b3b3b"/><path d="M320.5,186.2 L313.8,196 L342.4,191.1 L331.9,181.8 L325.7,183.1Z" fill="#262626"/><path d="M387.7,176.4 L383.8,178.4 L407.7,182.4 L409.7,179.7 L388.1,176.4Z" fill="#313131"/><path d="M364.8,214.4 L367.5,211.2 L367.6,210.3 L365.1,208 L361.7,207.6 L340.1,211.5 L347.1,220.1Z" fill="#252525"/><path d="M293.4,167.3 L315,163.6 L311.3,159.4 L311.1,159.1 L292.1,160.4Z" fill="#252525"/><path d="M411,134.2 L397.4,134.7 L372.1,144.8 L371.8,145.4 L385.3,149.7 L414.8,145.2 L420.5,143.1 L419.2,140.8Z" fill="#444444"/><path d="M371.2,199.7 L355.4,202.1 L361.7,207.6 L365.1,208 L377.6,202.5Z" fill="#303030"/><path d="M394,82.9 L383.7,87.1 L381.3,91.5 L393,96.6 L403,99.5 L408.4,98.9 L413.6,95.9 L413,82.9 L411.4,82.7Z" fill="#3f3f3f"/><path d="M447.7,82.7 L451.6,83.4 L451.6,81.7Z" fill="#353535"/><path d="M407.7,182.4 L407.1,184.1 L414.6,184.3 L424.5,182.2 L422.8,175.5 L421,174.9 L409.7,179.7Z" fill="#353535"/><path d="M405.2,219.1 L396.9,216 L387.9,218.2 L382.6,222 L406.6,222Z" fill="#2a2a2a"/><path d="M397.9,166.6 L422.3,170.8 L428.7,168.2 L433,164.3 L424.4,162.9 L400.7,164.1Z" fill="#4a4a4a"/><path d="M258.1,138.3 L241.5,146.6 L244.3,149.9 L248.3,151.2 L250,151.3 L265.8,146.4 L273,141.5 L265.9,138.5Z" fill="#282828"/><path d="M447.4,73.8 L443,76.3 L440.8,81.8 L443,82.6 L445.6,82.9 L447.7,82.7 L451.6,81.7 L451.6,72Z" fill="#3e3e3e"/><path d="M329.2,61.4 L330.1,59.6 L308.9,56.2 L298.6,60.2 L296.2,65.2Z" fill="#3e3e3e"/><path d="M385,153.7 L403.7,156.9 L414.8,145.2 L385.3,149.7Z" fill="#404040"/><path d="M432.5,104.2 L408.4,98.9 L403,99.5 L381.7,111.4 L382.7,111.7 L398.8,113.1Z" fill="#393939"/><path d="M273.5,74.1 L279.6,88.5 L292.3,85.7 L299.7,82.2 L278.7,73.2Z" fill="#323232"/><path d="M244.2,168.5 L235.7,175.6 L248,177.6 L263.6,171.9 L258.2,165.2Z" fill="#272727"/><path d="M429.9,71.9 L433.7,66.3 L428.4,62.7 L400.5,68.3 L398.9,71.4 L425.2,72.9Z" fill="#444444"/><path d="M401.2,118.4 L410.4,121.6 L419.1,121.6 L421.8,120.1 L426.2,115.2 L402.4,115.4Z" fill="#444444"/><path d="M320.2,151.5 L334.2,145.7 L342.5,134.9 L342.3,134.6 L340.6,133.1 L323.9,134.6 L317.9,135.9 L316.3,151.9Z" fill="#3b3b3b"/><path d="M451.6,101.1 L451.6,93.8 L450.5,94.3 L450.4,98.7Z" fill="#3d3d3d"/><path d="M261.6,159.9 L259.9,161.1 L258.9,163 L258.2,165.2 L263.6,171.9 L278.5,172.2 L279.5,171.8 L281.1,156.9Z" fill="#2f2f2f"/><path d="M343.1,166.7 L372,165.8 L366.5,160.4 L360.8,160 L356.2,160.9Z" fill="#434343"/><path d="M238.7,68.4 L263.7,62.3 L266.6,60.1 L255.7,55.4 L237.4,59.7 L233.6,67 L233.6,68.6Z" fill="#2d2d2d"/><path d="M376.4,182 L383.8,178.4 L387.7,176.4 L387.7,170.5 L373.4,168.8 L351.3,175.7Z" fill="#2f2f2f"/><path d="M390.3,194.7 L388.8,195.6 L389.3,196.6 L408.6,196.9 L405.3,193.4Z" fill="#2e2e2e"/><path d="M290.9,221.1 L287.3,222 L291.6,222Z" fill="#1d1d1d"/><path d="M266.2,184.4 L242.5,190 L243.2,193.2 L246.3,194.5 L262.3,194.3 L278.3,191.5 L280.3,189.6 L274.1,186.1Z" fill="#2d2d2d"/><path d="M447.9,134.5 L451.6,131.6 L451.6,124.5 L451.6,124.5 L438.7,127.4 L441.2,134.4Z" fill="#404040"/><path d="M237.4,59.7 L233.6,58.9 L233.6,67Z" fill="#262626"/><path d="M234.1,167.2 L235.1,169.4 L244.2,168.5 L258.2,165.2 L258.9,163Z" fill="#2a2a2a"/><path d="M236.3,205.7 L239.5,200.3 L233.6,200.6 L233.6,205.4Z" fill="#202020"/><path d="M405.2,219.1 L421.3,217.1 L444.3,204.5 L444.3,204.1 L431.2,204 L420.2,204.7 L413.3,206.6 L396.9,216Z" fill="#272727"/><path d="M451.6,201.7 L451.6,192.7 L438.7,185.8 L425.7,189.8 L431.2,204 L444.3,204.1Z" fill="#3d3d3d"/><path d="M323.9,134.6 L312,124.3 L297.2,125.7 L292.4,129 L308.8,137.3 L317.9,135.9Z" fill="#2e2e2e"/><path d="M389.3,196.6 L386.4,200 L414.7,202.1 L409.8,197.3 L408.6,196.9Z" fill="#292929"/><path d="M233.9,116 L233.6,112.7 L233.6,116Z" fill="#1d1d1d"/><path d="M342.1,113.3 L356.3,117.4 L374.1,112.2 L369.3,106.9 L368.1,106.2 L350.9,104.8 L344.6,106.3Z" fill="#424242"/><path d="M236.5,162.9 L233.6,160.8 L233.6,164.1Z" fill="#191919"/><path d="M287.6,186.7 L320.5,186.2 L325.7,183.1 L308.2,177.6 L296.4,180Z" fill="#202020"/><path d="M431.2,204 L425.7,189.8 L419.8,189.9 L409.8,197.3 L414.7,202.1 L420.2,204.7Z" fill="#414141"/><path d="M327.8,99.2 L328.3,101.3 L340.6,105.6 L341.8,105.6 L342.4,101 L330.3,99.3Z" fill="#343434"/><path d="M314.6,89.2 L321.1,82.3 L321.3,81.6 L316.2,80 L309.1,80.3 L299.7,82.2 L292.3,85.7 L301,89.2 L312.9,89.8Z" fill="#373737"/><path d="M342.4,191.1 L361.9,190.1 L362.6,189.8 L336.4,180.6 L331.9,181.8Z" fill="#353535"/><path d="M442,161.2 L450.2,158.8 L439.8,150.6 L426.8,154.4 L424.3,157.1Z" fill="#454545"/><path d="M279.8,104.3 L296.1,97.4 L293.6,96 L277.9,92.9 L268.8,101.5Z" fill="#2f2f2f"/><path d="M439.2,140.5 L423.5,143.5 L427.9,145.7 L439.9,150.3 L451.6,146.7 L451.6,144.6Z" fill="#484848"/><path d="M248,177.6 L245.9,180.9 L261.8,182 L279.9,174.9 L278.5,172.2 L263.6,171.9Z" fill="#1c1c1c"/><path d="M243.3,133.2 L249.8,126 L233.6,127 L233.6,137.2Z" fill="#1e1e1e"/><path d="M388.8,195.6 L374,195.5 L371.2,199.7 L377.6,202.5 L381,202.1 L386.4,200 L389.3,196.6Z M324.9,74.1 L316.2,80 L321.3,81.6 L350.6,78.7 L353.2,71.7Z M360.8,160 L363.5,155.8 L360.8,149.6 L352.2,151.2 L347.1,156.5 L356.2,160.9Z M416.2,55.7 L418.3,57 L432.9,59.6 L437.2,58 L437.8,56.4 L435.3,55 L416.3,55Z M264.4,75.5 L270.6,74.2 L263.7,62.3 L238.7,68.4Z M336.4,180.6 L362.6,189.8 L363.8,189.6 L374.3,185.6 L376.4,182 L351.3,175.7 L345.7,176Z M451.6,93.8 L451.6,83.4 L447.7,82.7 L445.6,82.9 L450.5,94.3Z M295.5,58.4 L298.6,60.2 L308.9,56.2 L309.2,55 L292.4,55Z M284.1,156.3 L281.1,156.9 L279.5,171.8 L289.1,169.4 L293.4,167.3 L292.1,160.4Z M276.1,90.3 L277.9,92.9 L293.6,96 L301,89.2 L292.3,85.7 L279.6,88.5 L277.8,89.2Z M441.2,134.4 L438.7,127.4 L419.5,130.3 L411,134.2 L419.2,140.8Z M308.8,137.3 L292.4,129 L288.8,129.5 L282.5,133.9 L282.6,140 L303.4,139.1Z M419.2,220.8 L413.5,222 L423.9,222Z M311.1,159.1 L314.4,152.2 L293.3,151.6 L293,151.7 L284.1,156.3 L292.1,160.4Z M246.3,194.5 L239.5,200.3 L236.3,205.7 L237.2,210.7 L246.1,211.6 L255.1,209.9 L259.2,207.9 L262.3,194.3Z M303.6,97.2 L296.1,97.4 L279.8,104.3 L279.9,104.8 L298.9,106.9 L307.3,104.9 L312.9,100.2Z M325.6,207.8 L333.1,210.2 L340.1,211.5 L361.7,207.6 L355.4,202.1 L346.7,200.4 L326.8,204.7Z M239.5,200.3 L246.3,194.5 L243.2,193.2 L233.6,194.7 L233.6,200.6Z M436.2,222 L451.6,222 L451.6,219.3Z M236.1,97.4 L233.6,97.2 L233.6,98.4Z M361.3,94.9 L375.5,93.5 L381.3,91.5 L383.7,87.1 L355.8,85.1 L342.5,91.2 L350.5,95.2Z M295.5,58.4 L292.4,55 L283.5,55 L271.7,59.4 L277.4,60.7Z M305.2,72.4 L309.1,80.3 L316.2,80 L324.9,74.1 L323.4,68.9Z M387.9,218.2 L382.6,216.7 L370.5,215.4 L368.1,222 L382.6,222Z M317.5,116 L317.5,120.8 L350.1,123.9 L356.3,117.4 L342.1,113.3 L320.9,114.7Z M389.1,206.4 L367.6,210.3 L367.5,211.2 L383,211.2 L395.1,207.1Z M249.8,126 L250.1,125.9 L247.7,119.3 L233.9,116 L233.6,116 L233.6,127Z M235.6,220.9 L233.6,221.7 L233.6,222 L238.7,222Z M257.4,125.4 L271.8,130.3 L287.8,129.5 L277,121.9 L262.3,124.3Z M310,198.2 L326.8,204.7 L346.7,200.4 L361.9,190.1 L342.4,191.1 L313.8,196Z M342.5,91.2 L355.8,85.1 L351.7,81 L331.1,87 L329.9,90 L336.8,92.2Z M348,96.8 L330.3,99.3 L342.4,101 L347.1,99.5Z M236.8,80.7 L233.6,79.3 L233.6,82.5Z M301.4,216 L306.8,215.6 L325.6,207.8 L326.8,204.7 L310,198.2 L300.4,199.2 L291.9,206.9Z M435.7,182.6 L417.6,187.9 L417.7,189.3 L419.8,189.9 L425.7,189.8 L438.7,185.8 L439.9,182.6Z M389.1,206.4 L395.1,207.1 L413.3,206.6 L420.2,204.7 L414.7,202.1 L386.4,200 L381,202.1Z M280.3,189.6 L278.3,191.5 L295.2,198.8 L300.4,199.2 L310,198.2 L313.8,196 L320.5,186.2 L287.6,186.7Z M271.2,133.9 L265.9,138.5 L273,141.5 L282.6,140 L282.5,133.9Z M424.5,182.2 L414.6,184.3 L417.6,187.9 L435.7,182.6Z M383.2,161.5 L400.6,160.3 L403.4,158.1 L403.8,157.1 L403.7,156.9 L385,153.7 L382.3,154.9 L379.4,157Z M279.9,174.9 L261.8,182 L265.5,183.4 L277.8,178.1 L280.6,175.5Z M347.1,220.1 L340.1,211.5 L333.1,210.2 L324.7,222 L345,222Z M396.9,216 L413.3,206.6 L395.1,207.1 L383,211.2 L382.6,216.7 L387.9,218.2Z M278.5,172.2 L279.9,174.9 L280.6,175.5 L296.4,180 L308.2,177.6 L312.3,173.8 L289.1,169.4 L279.5,171.8Z M419.2,220.8 L421.3,217.1 L405.2,219.1 L406.6,222 L413.5,222Z M306.8,215.6 L301.4,216 L299.7,216.4 L290.9,221.1 L291.6,222 L313.9,222Z M445.2,180.5 L443.6,180.8 L439.9,182.6 L438.7,185.8 L451.6,192.7 L451.6,180.6Z M360.8,149.6 L371.8,145.4 L372.1,144.8 L342.5,134.9 L334.2,145.7 L351.4,151.2 L352.2,151.2Z M245.9,212.7 L235.6,220.9 L238.7,222 L255,222Z M406.5,190.9 L395.6,187.5 L395,187.6 L390.3,194.7 L405.3,193.4Z M416.2,55.7 L381.2,60.1 L380.3,60.5 L389.6,63.5 L418.3,57Z M433,164.3 L442,161.2 L424.3,157.1 L420.2,159.1 L424.4,162.9Z M382.7,111.7 L384.8,118.8 L393.4,121.6 L401.2,118.4 L402.4,115.4 L398.8,113.1Z M377.6,202.5 L365.1,208 L367.6,210.3 L389.1,206.4 L381,202.1Z M390.3,194.7 L395,187.6 L374.3,185.6 L363.8,189.6 L374,195.5 L388.8,195.6Z M312.3,173.8 L308.2,177.6 L325.7,183.1 L331.9,181.8 L336.4,180.6 L345.7,176 L338.4,168 L328.7,167.1Z M261.8,182 L245.9,180.9 L238.4,185.7 L242.5,190 L266.2,184.4 L265.5,183.4Z M323.4,68.9 L324.9,74.1 L353.2,71.7 L359.3,66.8 L360.4,65.7 L331.6,63.1Z M293.8,66.2 L296.2,65.2 L298.6,60.2 L295.5,58.4 L277.4,60.7Z M341.8,105.6 L340.6,105.6 L325.1,107.3 L320.2,109.1 L320.9,114.7 L342.1,113.3 L344.6,106.3Z M372,165.8 L372.2,165.9 L383.2,161.5 L379.4,157 L366.5,160.4Z M291.7,114.2 L277.7,112.4 L262.3,124.3 L277,121.9 L291.1,118.9 L293.6,117.6 L293,115.6Z M246.1,211.6 L237.2,210.7 L233.6,211.4 L233.6,221.7 L235.6,220.9 L245.9,212.7Z M355.6,101.7 L368.1,98.7 L375.5,93.5 L361.3,94.9 L351.5,99.8Z M436.4,120.4 L451.6,121.4 L451.6,111 L444.1,107 L439.3,109.2Z M421,171.8 L421,174.9 L422.8,175.5 L434.2,176.4 L444.9,171.4 L428.7,168.2 L422.3,170.8Z M363.5,155.8 L382.3,154.9 L385,153.7 L385.3,149.7 L371.8,145.4 L360.8,149.6Z M369.3,106.9 L377.5,102 L368.1,98.8 L368.1,106.2Z M248.3,151.2 L244.3,149.9 L233.6,151 L233.6,156.8Z M377.1,60.9 L380.3,60.5 L381.2,60.1 L388.9,55.5 L389.1,55 L366.9,55Z M291.1,118.9 L297.2,125.7 L312,124.3 L317.5,120.8 L317.5,116 L293.6,117.6Z M247.9,94.1 L276.1,90.3 L277.8,89.2 L261.1,84 L246.6,92.4Z M351.7,81 L355.8,85.1 L383.7,87.1 L394,82.9 L394.4,75.4 L379.1,75.6 L350.9,78.9Z M319.9,93.3 L310.2,92.6 L303.6,97.2 L312.9,100.2 L325.3,98.3 L325.4,98.2Z M287.8,129.5 L271.8,130.3 L271.2,133.9 L282.5,133.9 L288.8,129.5Z M233.6,167 L233.6,170.1 L235.1,169.4 L234.1,167.2Z M329.9,90 L331.1,87 L321.1,82.3 L314.6,89.2 L323.2,90.1Z M419.2,220.8 L423.9,222 L436.2,222 L451.6,219.3 L451.6,218.5 L444.3,204.5 L421.3,217.1Z M411.4,82.7 L413,82.9 L440.8,81.8 L443,76.3 L429.9,71.9 L425.2,72.9Z M255.7,55.4 L266.6,60.1 L271.7,59.4 L283.5,55 L255.9,55Z M376,126.6 L348.5,128.3 L340.6,133.1 L342.3,134.6 L395.4,133.7 L388.3,127.3 L388,127.2Z M373.4,168.8 L387.7,170.5 L397.9,166.6 L400.7,164.1 L400.6,160.3 L383.2,161.5 L372.2,165.9Z M440.8,81.8 L413,82.9 L413.6,95.9 L427.7,91.5 L443,82.6Z M351.5,99.8 L361.3,94.9 L350.5,95.2 L348,96.8 L347.1,99.5Z M303.4,139.1 L282.6,140 L273,141.5 L265.8,146.4 L293,151.7 L293.3,151.6Z M340.6,105.6 L328.3,101.3 L325.1,107.3Z M400.6,160.3 L400.7,164.1 L424.4,162.9 L420.2,159.1 L403.4,158.1Z M439.8,150.6 L450.2,158.8 L450.6,158.8 L451.6,158.5 L451.6,146.7 L439.9,150.3Z M311.3,159.4 L330.2,155.5 L330.6,154.5 L320.2,151.5 L316.3,151.9 L314.4,152.2 L311.1,159.1Z M387.7,170.5 L387.7,176.4 L388.1,176.4 L421,171.8 L422.3,170.8 L397.9,166.6Z M293.6,117.6 L317.5,116 L320.9,114.7 L320.2,109.1 L315.3,108.2 L293,115.6Z M432.9,59.6 L428.4,62.7 L433.7,66.3 L438.2,66.6 L443.6,66.4 L451.6,65.2 L451.6,58 L437.2,58Z M299.7,216.4 L284,215.8 L269.6,220.3 L267.1,222 L287.3,222 L290.9,221.1Z M388.3,127.3 L410.4,121.6 L401.2,118.4 L393.4,121.6 L388,127.2Z M300.4,199.2 L295.2,198.8 L259.2,207.9 L255.1,209.9 L265.4,211.7 L279.5,211.7 L291.9,206.9Z M330.6,154.5 L351.4,151.2 L334.2,145.7 L320.2,151.5Z M342.5,91.2 L336.8,92.2 L325.4,98.2 L325.3,98.3 L327.8,99.2 L330.3,99.3 L348,96.8 L350.5,95.2Z M250,151.3 L248.3,151.2 L233.6,156.8 L233.6,160.8 L236.5,162.9 L259.9,161.1 L261.6,159.9Z M269.6,220.3 L265.4,211.7 L255.1,209.9 L246.1,211.6 L245.9,212.7 L255,222 L267.1,222Z M434.2,176.4 L422.8,175.5 L424.5,182.2 L435.7,182.6 L439.9,182.6 L443.6,180.8Z M443.6,66.4 L438.2,66.6 L447.4,73.8 L451.6,72 L451.6,71.9Z M388.9,55.5 L391.6,55 L389.1,55Z M236.5,162.9 L233.6,164.1 L233.6,167 L234.1,167.2 L258.9,163 L259.9,161.1Z M308.9,56.2 L330.1,59.6 L335.5,55 L309.2,55Z M241.4,106.9 L233.6,106.3 L233.6,112.5Z M363.8,189.6 L362.6,189.8 L361.9,190.1 L346.7,200.4 L355.4,202.1 L371.2,199.7 L374,195.5Z M336.8,92.2 L329.9,90 L323.2,90.1 L319.9,93.3 L325.4,98.2Z M342.3,134.6 L342.5,134.9 L372.1,144.8 L397.4,134.7 L395.4,133.7Z M444.4,104.6 L444.1,107 L451.6,111 L451.6,101.5Z M233.6,170.1 L233.6,175.5 L235.7,175.6 L244.2,168.5 L235.1,169.4Z M338.4,168 L345.7,176 L351.3,175.7 L373.4,168.8 L372.2,165.9 L372,165.8 L343.1,166.7Z M293,151.7 L265.8,146.4 L250,151.3 L261.6,159.9 L281.1,156.9 L284.1,156.3Z M262.3,194.3 L259.2,207.9 L295.2,198.8 L278.3,191.5Z M261.7,112.1 L272.1,110.1 L279.9,104.8 L279.8,104.3 L268.8,101.5 L250.1,103.4 L248.5,104.6Z M418.3,57 L389.6,63.5 L400.5,68.3 L428.4,62.7 L432.9,59.6Z M409.7,179.7 L421,174.9 L421,171.8 L388.1,176.4Z M353.2,71.7 L350.6,78.7 L350.9,78.9 L379.1,75.6 L359.3,66.8Z M447.9,134.5 L450,138 L451.6,137.4 L451.6,131.6Z M279.5,211.7 L284,215.8 L299.7,216.4 L301.4,216 L291.9,206.9Z M437.8,56.4 L440.2,55 L435.3,55Z M374.1,112.2 L381.7,111.4 L403,99.5 L393,96.6 L377.5,102 L369.3,106.9Z M268.8,101.5 L277.9,92.9 L276.1,90.3 L247.9,94.1 L245.1,96.1 L250.1,103.4Z M368.1,98.8 L377.5,102 L393,96.6 L381.3,91.5 L375.5,93.5 L368.1,98.7Z M445.2,180.5 L451.6,175.3 L451.6,171.4 L444.9,171.4 L434.2,176.4 L443.6,180.8Z M451.6,124.5 L451.6,124.5 L451.6,121.4 L436.4,120.4 L421.8,120.1 L419.1,121.6 L419.5,130.3 L438.7,127.4Z M449.7,138.3 L439.2,140.5 L451.6,144.6 L451.6,138.8Z M379.4,157 L382.3,154.9 L363.5,155.8 L360.8,160 L366.5,160.4Z M402.4,115.4 L426.2,115.2 L439.3,109.2 L444.1,107 L444.4,104.6 L432.5,104.2 L398.8,113.1Z M384.8,118.8 L382.7,111.7 L381.7,111.4 L374.1,112.2 L356.3,117.4 L350.1,123.9 L348.5,128.3 L376,126.6Z M237.4,59.7 L255.7,55.4 L255.9,55 L233.6,55 L233.6,58.9Z M315.3,108.2 L307.3,104.9 L298.9,106.9 L291.7,114.2 L293,115.6Z M437.8,56.4 L437.2,58 L451.6,58 L451.6,55 L440.2,55Z M277.8,89.2 L279.6,88.5 L273.5,74.1 L270.6,74.2 L264.4,75.5 L259.7,77.4 L261.1,84Z M240.6,90.5 L244.3,91.2 L251.3,79.2 L236.8,80.7 L233.6,82.5 L233.6,88.6Z M249.8,126 L243.3,133.2 L258.1,138.3 L265.9,138.5 L271.2,133.9 L271.8,130.3 L257.4,125.4 L250.1,125.9Z M376.4,182 L374.3,185.6 L395,187.6 L395.6,187.5 L407.1,184.1 L407.7,182.4 L383.8,178.4Z M238.4,185.7 L245.9,180.9 L248,177.6 L235.7,175.6 L233.6,175.5 L233.6,185.9Z M280.6,175.5 L277.8,178.1 L274.1,186.1 L280.3,189.6 L287.6,186.7 L296.4,180Z M388.9,55.5 L381.2,60.1 L416.2,55.7 L416.3,55 L391.6,55Z M301,89.2 L293.6,96 L296.1,97.4 L303.6,97.2 L310.2,92.6 L312.9,89.8Z M321.3,81.6 L321.1,82.3 L331.1,87 L351.7,81 L350.9,78.9 L350.6,78.7Z M408.6,196.9 L409.8,197.3 L419.8,189.9 L417.7,189.3 L406.5,190.9 L405.3,193.4Z M236.8,80.7 L251.3,79.2 L259.7,77.4 L264.4,75.5 L238.7,68.4 L233.6,68.6 L233.6,79.3Z M393.4,121.6 L384.8,118.8 L376,126.6 L388,127.2Z M342.4,101 L341.8,105.6 L344.6,106.3 L350.9,104.8 L355.6,101.7 L351.5,99.8 L347.1,99.5Z M450,138 L449.7,138.3 L451.6,138.8 L451.6,137.4Z M272.1,110.1 L261.7,112.1 L247.7,119.3 L250.1,125.9 L257.4,125.4 L262.3,124.3 L277.7,112.4Z M243.3,133.2 L233.6,137.2 L233.6,143.7 L241.5,146.6 L258.1,138.3Z M314.4,152.2 L316.3,151.9 L317.9,135.9 L308.8,137.3 L303.4,139.1 L293.3,151.6Z M244.3,149.9 L241.5,146.6 L233.6,143.7 L233.6,151Z M450.6,158.8 L451.6,159.7 L451.6,158.5Z M443.6,66.4 L451.6,71.9 L451.6,65.2Z M328.9,162.3 L347.1,156.5 L352.2,151.2 L351.4,151.2 L330.6,154.5 L330.2,155.5Z M293.4,167.3 L289.1,169.4 L312.3,173.8 L328.7,167.1 L325.9,164.6 L315,163.6Z M277,121.9 L287.8,129.5 L288.8,129.5 L292.4,129 L297.2,125.7 L291.1,118.9Z M443,76.3 L447.4,73.8 L438.2,66.6 L433.7,66.3 L429.9,71.9Z M240.6,90.5 L233.6,88.6 L233.6,91.8Z M237.2,210.7 L236.3,205.7 L233.6,205.4 L233.6,211.4Z M450.5,94.3 L445.6,82.9 L443,82.6 L427.7,91.5 L450.4,98.7Z M315,163.6 L325.9,164.6 L328.9,162.3 L330.2,155.5 L311.3,159.4Z M246.6,92.4 L261.1,84 L259.7,77.4 L251.3,79.2 L244.3,91.2Z M323.2,90.1 L314.6,89.2 L312.9,89.8 L310.2,92.6 L319.9,93.3Z M403.7,156.9 L403.8,157.1 L416.3,155.1 L427.9,145.7 L423.5,143.5 L420.5,143.1 L414.8,145.2Z M445.2,180.5 L451.6,180.6 L451.6,175.3Z M420.2,159.1 L424.3,157.1 L426.8,154.4 L416.3,155.1 L403.8,157.1 L403.4,158.1Z M333.1,210.2 L325.6,207.8 L306.8,215.6 L313.9,222 L324.7,222Z M414.6,184.3 L407.1,184.1 L395.6,187.5 L406.5,190.9 L417.7,189.3 L417.6,187.9Z M265.4,211.7 L269.6,220.3 L284,215.8 L279.5,211.7Z M266.2,184.4 L274.1,186.1 L277.8,178.1 L265.5,183.4Z M416.3,155.1 L426.8,154.4 L439.8,150.6 L439.9,150.3 L427.9,145.7Z M241.4,106.9 L248.5,104.6 L250.1,103.4 L245.1,96.1 L236.1,97.4 L233.6,98.4 L233.6,106.3Z M359.3,66.8 L379.1,75.6 L394.4,75.4 L398.9,71.4 L400.5,68.3 L389.6,63.5 L380.3,60.5 L377.1,60.9 L360.4,65.7Z M312.9,100.2 L307.3,104.9 L315.3,108.2 L320.2,109.1 L325.1,107.3 L328.3,101.3 L327.8,99.2 L325.3,98.3Z M370.5,215.4 L364.8,214.4 L347.1,220.1 L345,222 L368.1,222Z M330.1,59.6 L329.2,61.4 L331.6,63.1 L360.4,65.7 L377.1,60.9 L366.9,55 L335.5,55Z M395.4,133.7 L397.4,134.7 L411,134.2 L419.5,130.3 L419.1,121.6 L410.4,121.6 L388.3,127.3Z M444.3,204.1 L444.3,204.5 L451.6,218.5 L451.6,201.7Z M240.6,90.5 L233.6,91.8 L233.6,97.2 L236.1,97.4 L245.1,96.1 L247.9,94.1 L246.6,92.4 L244.3,91.2Z M451.6,124.5 L451.6,124.5 L451.6,124.5Z M350.1,123.9 L317.5,120.8 L312,124.3 L323.9,134.6 L340.6,133.1 L348.5,128.3Z M421.8,120.1 L436.4,120.4 L439.3,109.2 L426.2,115.2Z M293.8,66.2 L288.3,70.2 L305.2,72.4 L323.4,68.9 L331.6,63.1 L329.2,61.4 L296.2,65.2Z M271.7,59.4 L266.6,60.1 L263.7,62.3 L270.6,74.2 L273.5,74.1 L278.7,73.2 L288.3,70.2 L293.8,66.2 L277.4,60.7Z M350.9,104.8 L368.1,106.2 L368.1,98.8 L368.1,98.7 L355.6,101.7Z M398.9,71.4 L394.4,75.4 L394,82.9 L411.4,82.7 L425.2,72.9Z M288.3,70.2 L278.7,73.2 L299.7,82.2 L309.1,80.3 L305.2,72.4Z M428.7,168.2 L444.9,171.4 L451.6,171.4 L451.6,159.7 L450.6,158.8 L450.2,158.8 L442,161.2 L433,164.3Z M420.5,143.1 L423.5,143.5 L439.2,140.5 L449.7,138.3 L450,138 L447.9,134.5 L441.2,134.4 L419.2,140.8Z M238.4,185.7 L233.6,185.9 L233.6,194.7 L243.2,193.2 L242.5,190Z M450.4,98.7 L427.7,91.5 L413.6,95.9 L408.4,98.9 L432.5,104.2 L444.4,104.6 L451.6,101.5 L451.6,101.1Z M382.6,216.7 L383,211.2 L367.5,211.2 L364.8,214.4 L370.5,215.4Z M347.1,156.5 L328.9,162.3 L325.9,164.6 L328.7,167.1 L338.4,168 L343.1,166.7 L356.2,160.9Z M233.9,116 L247.7,119.3 L261.7,112.1 L248.5,104.6 L241.4,106.9 L233.6,112.5 L233.6,112.7Z M298.9,106.9 L279.9,104.8 L272.1,110.1 L277.7,112.4 L291.7,114.2Z M320.5,186.2 L313.8,196 L342.4,191.1 L331.9,181.8 L325.7,183.1Z M387.7,176.4 L383.8,178.4 L407.7,182.4 L409.7,179.7 L388.1,176.4Z M364.8,214.4 L367.5,211.2 L367.6,210.3 L365.1,208 L361.7,207.6 L340.1,211.5 L347.1,220.1Z M293.4,167.3 L315,163.6 L311.3,159.4 L311.1,159.1 L292.1,160.4Z M411,134.2 L397.4,134.7 L372.1,144.8 L371.8,145.4 L385.3,149.7 L414.8,145.2 L420.5,143.1 L419.2,140.8Z M371.2,199.7 L355.4,202.1 L361.7,207.6 L365.1,208 L377.6,202.5Z M394,82.9 L383.7,87.1 L381.3,91.5 L393,96.6 L403,99.5 L408.4,98.9 L413.6,95.9 L413,82.9 L411.4,82.7Z M447.7,82.7 L451.6,83.4 L451.6,81.7Z M407.7,182.4 L407.1,184.1 L414.6,184.3 L424.5,182.2 L422.8,175.5 L421,174.9 L409.7,179.7Z M405.2,219.1 L396.9,216 L387.9,218.2 L382.6,222 L406.6,222Z M397.9,166.6 L422.3,170.8 L428.7,168.2 L433,164.3 L424.4,162.9 L400.7,164.1Z M258.1,138.3 L241.5,146.6 L244.3,149.9 L248.3,151.2 L250,151.3 L265.8,146.4 L273,141.5 L265.9,138.5Z M447.4,73.8 L443,76.3 L440.8,81.8 L443,82.6 L445.6,82.9 L447.7,82.7 L451.6,81.7 L451.6,72Z M329.2,61.4 L330.1,59.6 L308.9,56.2 L298.6,60.2 L296.2,65.2Z M385,153.7 L403.7,156.9 L414.8,145.2 L385.3,149.7Z M432.5,104.2 L408.4,98.9 L403,99.5 L381.7,111.4 L382.7,111.7 L398.8,113.1Z M273.5,74.1 L279.6,88.5 L292.3,85.7 L299.7,82.2 L278.7,73.2Z M244.2,168.5 L235.7,175.6 L248,177.6 L263.6,171.9 L258.2,165.2Z M429.9,71.9 L433.7,66.3 L428.4,62.7 L400.5,68.3 L398.9,71.4 L425.2,72.9Z M401.2,118.4 L410.4,121.6 L419.1,121.6 L421.8,120.1 L426.2,115.2 L402.4,115.4Z M320.2,151.5 L334.2,145.7 L342.5,134.9 L342.3,134.6 L340.6,133.1 L323.9,134.6 L317.9,135.9 L316.3,151.9Z M451.6,101.1 L451.6,93.8 L450.5,94.3 L450.4,98.7Z M261.6,159.9 L259.9,161.1 L258.9,163 L258.2,165.2 L263.6,171.9 L278.5,172.2 L279.5,171.8 L281.1,156.9Z M343.1,166.7 L372,165.8 L366.5,160.4 L360.8,160 L356.2,160.9Z M238.7,68.4 L263.7,62.3 L266.6,60.1 L255.7,55.4 L237.4,59.7 L233.6,67 L233.6,68.6Z M376.4,182 L383.8,178.4 L387.7,176.4 L387.7,170.5 L373.4,168.8 L351.3,175.7Z M390.3,194.7 L388.8,195.6 L389.3,196.6 L408.6,196.9 L405.3,193.4Z M290.9,221.1 L287.3,222 L291.6,222Z M266.2,184.4 L242.5,190 L243.2,193.2 L246.3,194.5 L262.3,194.3 L278.3,191.5 L280.3,189.6 L274.1,186.1Z M447.9,134.5 L451.6,131.6 L451.6,124.5 L451.6,124.5 L438.7,127.4 L441.2,134.4Z M237.4,59.7 L233.6,58.9 L233.6,67Z M234.1,167.2 L235.1,169.4 L244.2,168.5 L258.2,165.2 L258.9,163Z M236.3,205.7 L239.5,200.3 L233.6,200.6 L233.6,205.4Z M405.2,219.1 L421.3,217.1 L444.3,204.5 L444.3,204.1 L431.2,204 L420.2,204.7 L413.3,206.6 L396.9,216Z M451.6,201.7 L451.6,192.7 L438.7,185.8 L425.7,189.8 L431.2,204 L444.3,204.1Z M323.9,134.6 L312,124.3 L297.2,125.7 L292.4,129 L308.8,137.3 L317.9,135.9Z M389.3,196.6 L386.4,200 L414.7,202.1 L409.8,197.3 L408.6,196.9Z M233.9,116 L233.6,112.7 L233.6,116Z M342.1,113.3 L356.3,117.4 L374.1,112.2 L369.3,106.9 L368.1,106.2 L350.9,104.8 L344.6,106.3Z M236.5,162.9 L233.6,160.8 L233.6,164.1Z M287.6,186.7 L320.5,186.2 L325.7,183.1 L308.2,177.6 L296.4,180Z M431.2,204 L425.7,189.8 L419.8,189.9 L409.8,197.3 L414.7,202.1 L420.2,204.7Z M327.8,99.2 L328.3,101.3 L340.6,105.6 L341.8,105.6 L342.4,101 L330.3,99.3Z M314.6,89.2 L321.1,82.3 L321.3,81.6 L316.2,80 L309.1,80.3 L299.7,82.2 L292.3,85.7 L301,89.2 L312.9,89.8Z M342.4,191.1 L361.9,190.1 L362.6,189.8 L336.4,180.6 L331.9,181.8Z M442,161.2 L450.2,158.8 L439.8,150.6 L426.8,154.4 L424.3,157.1Z M279.8,104.3 L296.1,97.4 L293.6,96 L277.9,92.9 L268.8,101.5Z M439.2,140.5 L423.5,143.5 L427.9,145.7 L439.9,150.3 L451.6,146.7 L451.6,144.6Z M248,177.6 L245.9,180.9 L261.8,182 L279.9,174.9 L278.5,172.2 L263.6,171.9Z M243.3,133.2 L249.8,126 L233.6,127 L233.6,137.2Z" fill="none" stroke="#141414" stroke-width="1" opacity="0.3"/></g>
<rect x="233.6" y="55" width="218" height="167" fill="#000" filter="url(#nzd)" opacity="0.3"/>
<g filter="url(#blur2)"><path d="M318,168 C325,158 335,150 345,146 C360,142 370,142 380,141 C400,140 425,140 452,137 L452,162 C440,165 425,163 410,166 C395,169 380,166 365,169 C350,171 335,170 318,168 Z" fill="#626262" opacity="0.75"/><path d="M300,150 C320,156 340,160 356,157.5 C380,152 400,142 422,136 C435,132 445,130 452,128" stroke="#1e1e1e" stroke-width="6" fill="none" opacity="0.55"/><path d="M249,119.7 C265,126 285,136 307,144.3 C315,147 322,149 330,150" stroke="#1a1a1a" stroke-width="8" fill="none" opacity="0.55"/><path d="M233,172 L300,176 L325,222 L233,222 Z" fill="#1c1c1c" opacity="0.45"/><ellipse cx="248" cy="127" rx="10" ry="11" fill="#4a4a4a" opacity="0.55"/><path d="M274,150 L307,150 L320,166 L290,166 Z" fill="#444" opacity="0.5"/><path d="M340,112 C380,110 420,108 452,104 L452,118 C420,121 380,124 340,126 Z" fill="#4e4e4e" opacity="0.5"/></g>
<path d="M340,132.8 C380,129 420,126 452,124.6" stroke="#202020" stroke-width="2" fill="none" opacity="0.6" filter="url(#blur07)"/>
<path d="M325,170 C345,172 365,170 380,168.5 C400,167 425,168 452,165" stroke="#262626" stroke-width="3.5" fill="none" opacity="0.5" filter="url(#blur1)"/>
<path d="M300,190 C350,194 400,192 452,195" stroke="#2a2a2a" stroke-width="3" fill="none" opacity="0.4" filter="url(#blur1)"/>
<path d="M233,3 L452,3 L452,53 L444,50 L441,30 L436,23.5 L430.7,19.3 L422.3,17.6 L412.2,19.3 L403.8,24.3 L397.1,31.9 L392,42 L390.4,55.4 L388.7,63.8 L383.6,66.8 L376.9,66.3 L370.2,62.1 L365.2,55.4 L358.5,57.1 L348.4,57.9 L340.8,53.4 L334,48.7 L326.5,45.7 L320.6,47.8 L310.6,51.7 L297.1,54 L282,57 L272,60.4 L255.2,60.8 L240,61.8 L236,62 L233,62Z" fill="#060606"/>
<path d="M233,60 L239,61 C237,70 237,78 238,85 L233,86 Z" fill="#0a0a0a"/>
<linearGradient id="crB" x1="0" y1="0" x2="1" y2="0.3"><stop offset="0" stop-color="#d8d8d8"/><stop offset="0.6" stop-color="#c8c8c8"/><stop offset="1" stop-color="#9a9a9a"/></linearGradient>
<path d="M303.6,9.6 C310,7.5 316,6.8 322,6.4 C335,5.5 348,4.6 362,3.8 L365,3.6 C357,8 351,10.5 346,12.8 C340,15.5 335,17.5 330,19.3 C322,21.8 316,23.5 310.9,23.3 C306,22.5 303.5,20 303,16 C302.8,13.5 303,11.5 303.6,9.6 Z" fill="url(#crB)" filter="url(#blur07)"/>
<path d="M290,8 C296,8 302,12 303,20 C303,26 300,30 295,32 L290,32 Z" fill="#1c1c1c" filter="url(#blur2)"/>
<path d="M240,58 C250,52 262,48 276,47 C290,46 298,48 300,52 L240,60 Z" fill="#1c1c1c" filter="url(#blur2)"/>
<path d="M251,58 C256,53 266,51.5 276,53 C280,54 282,56 283,58" stroke="#333" stroke-width="2.2" fill="none" filter="url(#blur07)"/>
<path d="M268,44 C275,41 283,41 289,43" stroke="#262626" stroke-width="2" fill="none" filter="url(#blur07)"/>
<path d="M340,44 C348,38 360,36 372,40 L374,60 C362,60 350,58 340,54 Z" fill="#2a2a2a" filter="url(#blur1)"/>
<path d="M359,39 C363,37 367,40 366,46 C364,49 360,48 358,45 Z" fill="#8a8a8a" filter="url(#blur1)"/>
<path d="M270,28 C285,22 300,24 310,30 C300,32 285,32 270,28 Z" fill="#1a1a1a" filter="url(#blur2)"/>
<path d="M390.4,63 C388.9,61 390.4,52.3 391,48 C391.6,43.7 392.7,40.3 394,37 C395.3,33.7 397,30.4 399,28 C401,25.6 403.5,24 406,22.5 C408.5,21 411.3,19.6 414,18.8 C416.7,18 419.3,17.6 422,17.6 C424.7,17.6 427.7,18 430,19 C432.3,20 434.2,21.7 436,23.5 C437.8,25.3 440,26.4 441,30 C442,33.6 442.2,40.7 442,45 C441.8,49.3 443.7,53.8 440,56 C436.3,58.2 426.7,57.3 420,58 C413.3,58.7 404.9,59.2 400,60 C395.1,60.8 391.9,65 390.4,63Z" fill="#c4c4c4"/>
<path d="M420,20 C426,19 432,21 435,24 L435,31 L420,29 Z" fill="#d2d2d2" filter="url(#blur1)"/>
<path d="M413.6,33 L425,29.5 L434,31 L433,41 L420,40 Z" fill="#e2e2e2" filter="url(#blur1)"/>
<path d="M395,45 C410,42 425,44 440,40 L440,56 L395,58 Z" fill="#b4b4b4" filter="url(#blur1)"/>
<path d="M436,24 C438,34 440,44 441,52" stroke="#2a2a2a" stroke-width="2" fill="none"/>
<path d="M443,18 C447,12 452,10 452,12 L452,52 C447,53 444,48 443,40 Z" fill="#c0c0c0"/>
<path d="M441,38 C444,36 447,40 446,45 C443,47 440,44 441,38 Z" fill="#e0e0e0" stroke="#333" stroke-width="1"/>
<linearGradient id="flB" gradientUnits="userSpaceOnUse" x1="236" y1="0" x2="452" y2="0"><stop offset="0" stop-color="#a6a6a6"/><stop offset="0.35" stop-color="#b0b0b0"/><stop offset="1" stop-color="#b2b2b2"/></linearGradient>
<path d="M239.5,63 C239.9,62.8 239.4,62.2 242,61.8 C244.6,61.4 250.2,61 255.2,60.8 C260.2,60.6 267.5,61 272,60.4 C276.5,59.8 277.8,58.1 282,57 C286.2,55.9 292.3,54.9 297.1,54 C301.9,53.1 306.7,52.7 310.6,51.7 C314.5,50.7 318,48.8 320.6,47.8 C323.2,46.8 324.3,45.6 326.5,45.7 C328.7,45.9 331.6,47.4 334,48.7 C336.4,50 338.4,51.9 340.8,53.4 C343.2,54.9 345.4,57.3 348.4,57.9 C351.3,58.5 355.7,57.5 358.5,57.1 C361.3,56.7 363.2,54.6 365.2,55.4 C367.1,56.2 368.2,60.3 370.2,62.1 C372.1,63.9 374.7,65.5 376.9,66.3 C379.1,67.1 381.6,67.2 383.6,66.8 C385.6,66.4 387.3,65.3 388.7,63.8 C390.1,62.3 388.4,59.2 392,58 C395.6,56.8 403.7,56.9 410,56.5 C416.3,56.1 423,56.1 430,55.5 C437,54.9 448.3,53.4 452,53 L452,67.1 C450.7,67.9 446.7,70.2 444,72.2 C441.3,74.2 438.8,76.8 435.7,78.9 C432.6,81 429.2,82.8 425.6,84.8 C422,86.8 417.8,88.8 413.9,90.6 C410,92.4 406,94.6 402.1,95.7 C398.2,96.8 393.5,98 390.4,97.4 C387.3,96.8 386.4,93 383.6,92.3 C380.8,91.6 378.1,92.8 373.6,93.2 C369.1,93.6 362.4,94 356.8,94.8 C351.2,95.6 343.2,97.9 340,98.2 C336.8,98.5 338.2,97.5 337.4,96.5 C336.6,95.5 336.1,92.4 335,92 C333.9,91.6 334.2,93.2 330.7,94 C327.2,94.8 319.6,96.1 314,96.5 C308.4,96.9 304.1,96.5 297.1,96.5 C290.1,96.5 278.7,96.9 272,96.5 C265.3,96.1 261.1,95.2 256.9,94 C252.7,92.8 249.9,90.6 246.8,89 C243.7,87.4 240.1,86.3 238.5,84.5 C236.9,82.7 237.2,80.4 237,78 C236.8,75.6 237.4,71.3 237.5,70 Z" fill="url(#flB)"/>
<path d="M239.5,63 C239.9,62.8 239.4,62.2 242,61.8 C244.6,61.4 250.2,61 255.2,60.8 C260.2,60.6 267.5,61 272,60.4 C276.5,59.8 277.8,58.1 282,57 C286.2,55.9 292.3,54.9 297.1,54 C301.9,53.1 306.7,52.7 310.6,51.7 C314.5,50.7 318,48.8 320.6,47.8 C323.2,46.8 324.3,45.6 326.5,45.7 C328.7,45.9 331.6,47.4 334,48.7 C336.4,50 338.4,51.9 340.8,53.4 C343.2,54.9 345.4,57.3 348.4,57.9 C351.3,58.5 355.7,57.5 358.5,57.1 C361.3,56.7 363.2,54.6 365.2,55.4 C367.1,56.2 368.2,60.3 370.2,62.1 C372.1,63.9 374.7,65.5 376.9,66.3 C379.1,67.1 381.6,67.2 383.6,66.8 C385.6,66.4 387.3,65.3 388.7,63.8 C390.1,62.3 388.4,59.2 392,58 C395.6,56.8 403.7,56.9 410,56.5 C416.3,56.1 423,56.1 430,55.5 C437,54.9 448.3,53.4 452,53 L452,67.1 C450.7,67.9 446.7,70.2 444,72.2 C441.3,74.2 438.8,76.8 435.7,78.9 C432.6,81 429.2,82.8 425.6,84.8 C422,86.8 417.8,88.8 413.9,90.6 C410,92.4 406,94.6 402.1,95.7 C398.2,96.8 393.5,98 390.4,97.4 C387.3,96.8 386.4,93 383.6,92.3 C380.8,91.6 378.1,92.8 373.6,93.2 C369.1,93.6 362.4,94 356.8,94.8 C351.2,95.6 343.2,97.9 340,98.2 C336.8,98.5 338.2,97.5 337.4,96.5 C336.6,95.5 336.1,92.4 335,92 C333.9,91.6 334.2,93.2 330.7,94 C327.2,94.8 319.6,96.1 314,96.5 C308.4,96.9 304.1,96.5 297.1,96.5 C290.1,96.5 278.7,96.9 272,96.5 C265.3,96.1 261.1,95.2 256.9,94 C252.7,92.8 249.9,90.6 246.8,89 C243.7,87.4 240.1,86.3 238.5,84.5 C236.9,82.7 237.2,80.4 237,78 C236.8,75.6 237.4,71.3 237.5,70 Z" fill="#fff" filter="url(#mottle)" opacity="0.42"/>
<path d="M239.5,63 C239.9,62.8 239.4,62.2 242,61.8 C244.6,61.4 250.2,61 255.2,60.8 C260.2,60.6 267.5,61 272,60.4 C276.5,59.8 277.8,58.1 282,57 C286.2,55.9 292.3,54.9 297.1,54 C301.9,53.1 306.7,52.7 310.6,51.7 C314.5,50.7 318,48.8 320.6,47.8 C323.2,46.8 324.3,45.6 326.5,45.7 C328.7,45.9 331.6,47.4 334,48.7 C336.4,50 338.4,51.9 340.8,53.4 C343.2,54.9 345.4,57.3 348.4,57.9 C351.3,58.5 355.7,57.5 358.5,57.1 C361.3,56.7 363.2,54.6 365.2,55.4 C367.1,56.2 368.2,60.3 370.2,62.1 C372.1,63.9 374.7,65.5 376.9,66.3 C379.1,67.1 381.6,67.2 383.6,66.8 C385.6,66.4 387.3,65.3 388.7,63.8 C390.1,62.3 388.4,59.2 392,58 C395.6,56.8 403.7,56.9 410,56.5 C416.3,56.1 423,56.1 430,55.5 C437,54.9 448.3,53.4 452,53 L452,67.1 C450.7,67.9 446.7,70.2 444,72.2 C441.3,74.2 438.8,76.8 435.7,78.9 C432.6,81 429.2,82.8 425.6,84.8 C422,86.8 417.8,88.8 413.9,90.6 C410,92.4 406,94.6 402.1,95.7 C398.2,96.8 393.5,98 390.4,97.4 C387.3,96.8 386.4,93 383.6,92.3 C380.8,91.6 378.1,92.8 373.6,93.2 C369.1,93.6 362.4,94 356.8,94.8 C351.2,95.6 343.2,97.9 340,98.2 C336.8,98.5 338.2,97.5 337.4,96.5 C336.6,95.5 336.1,92.4 335,92 C333.9,91.6 334.2,93.2 330.7,94 C327.2,94.8 319.6,96.1 314,96.5 C308.4,96.9 304.1,96.5 297.1,96.5 C290.1,96.5 278.7,96.9 272,96.5 C265.3,96.1 261.1,95.2 256.9,94 C252.7,92.8 249.9,90.6 246.8,89 C243.7,87.4 240.1,86.3 238.5,84.5 C236.9,82.7 237.2,80.4 237,78 C236.8,75.6 237.4,71.3 237.5,70 Z" fill="#000" filter="url(#mottleD)" opacity="0.22"/>
<g filter="url(#blur07)"><ellipse cx="285.3" cy="77.1" rx="1.3" ry="1.5" fill="#e6e6e6" opacity="0.65"/><ellipse cx="268.4" cy="64.3" rx="2.0" ry="1.1" fill="#e6e6e6" opacity="0.49"/><ellipse cx="359.6" cy="75.3" rx="2.0" ry="1.4" fill="#e6e6e6" opacity="0.66"/><ellipse cx="276.8" cy="79.2" rx="2.0" ry="1.4" fill="#e6e6e6" opacity="0.70"/><ellipse cx="327.8" cy="65.5" rx="1.9" ry="1.5" fill="#e6e6e6" opacity="0.52"/><ellipse cx="265.0" cy="84.8" rx="1.5" ry="1.7" fill="#e6e6e6" opacity="0.75"/><ellipse cx="332.0" cy="86.1" rx="1.4" ry="1.8" fill="#e6e6e6" opacity="0.58"/><ellipse cx="353.7" cy="85.1" rx="0.9" ry="1.0" fill="#e6e6e6" opacity="0.49"/><ellipse cx="356.6" cy="74.5" rx="1.7" ry="1.2" fill="#e6e6e6" opacity="0.60"/><ellipse cx="299.8" cy="72.4" rx="1.6" ry="1.5" fill="#e6e6e6" opacity="0.76"/><ellipse cx="328.8" cy="86.3" rx="2.0" ry="2.0" fill="#e6e6e6" opacity="0.67"/><ellipse cx="278.0" cy="84.7" rx="2.2" ry="1.9" fill="#e6e6e6" opacity="0.63"/><ellipse cx="332.0" cy="69.1" rx="2.0" ry="1.5" fill="#e6e6e6" opacity="0.51"/><ellipse cx="268.2" cy="84.5" rx="2.2" ry="0.9" fill="#e6e6e6" opacity="0.72"/><ellipse cx="302.2" cy="67.6" rx="1.2" ry="1.7" fill="#e6e6e6" opacity="0.75"/><ellipse cx="266.3" cy="78.7" rx="0.9" ry="1.7" fill="#e6e6e6" opacity="0.53"/><ellipse cx="348.3" cy="87.5" rx="1.5" ry="2.0" fill="#e6e6e6" opacity="0.52"/><ellipse cx="269.5" cy="78.4" rx="0.8" ry="1.0" fill="#e6e6e6" opacity="0.56"/><ellipse cx="321.8" cy="67.7" rx="0.9" ry="1.8" fill="#e6e6e6" opacity="0.53"/><ellipse cx="355.9" cy="85.5" rx="1.3" ry="1.4" fill="#e6e6e6" opacity="0.61"/><ellipse cx="325.1" cy="78.3" rx="1.6" ry="1.5" fill="#e6e6e6" opacity="0.78"/><ellipse cx="311.7" cy="74.3" rx="1.8" ry="1.1" fill="#e6e6e6" opacity="0.52"/><ellipse cx="357.8" cy="76.5" rx="1.6" ry="0.8" fill="#e6e6e6" opacity="0.57"/><ellipse cx="318.8" cy="64.5" rx="1.7" ry="1.6" fill="#e6e6e6" opacity="0.42"/><ellipse cx="323.5" cy="75.2" rx="1.8" ry="1.2" fill="#e6e6e6" opacity="0.68"/><ellipse cx="334.3" cy="64.5" rx="0.9" ry="1.6" fill="#e6e6e6" opacity="0.79"/></g>
<path d="M238,61.8 C240.9,61.6 249.5,61 255.2,60.8 C260.9,60.6 267.5,61 272,60.4 C276.5,59.8 277.8,58.1 282,57 C286.2,55.9 292.3,54.9 297.1,54 C301.9,53.1 306.7,52.7 310.6,51.7 C314.5,50.7 318,48.8 320.6,47.8 C323.2,46.8 324.3,45.6 326.5,45.7 C328.7,45.9 331.6,47.4 334,48.7 C336.4,50 338.4,51.9 340.8,53.4 C343.2,54.9 345.4,57.3 348.4,57.9 C351.3,58.5 355.7,57.5 358.5,57.1 C361.3,56.7 363.2,54.6 365.2,55.4 C367.1,56.2 368.2,60.3 370.2,62.1 C372.1,63.9 374.7,65.5 376.9,66.3 C379.1,67.1 381.6,67.2 383.6,66.8 C385.6,66.4 387.6,65.7 388.7,63.8 C389.8,61.9 389.8,59 390.4,55.4 C390.9,51.8 390.9,45.9 392,42 C393.1,38.1 395.1,34.9 397.1,31.9 C399.1,28.9 401.3,26.4 403.8,24.3 C406.3,22.2 409.1,20.4 412.2,19.3 C415.3,18.2 419.2,17.6 422.3,17.6 C425.4,17.6 428.5,18.3 430.7,19.3 C432.9,20.3 434.9,22.8 435.7,23.5" stroke="#f4f4f4" stroke-width="2" fill="none" stroke-dasharray="6.5 3.8"/>
<path d="M441,24 C441.5,23.3 442.8,21.7 444,20 C445.2,18.3 446.7,15.5 448,14 C449.3,12.5 451.3,11.5 452,11" stroke="#f4f4f4" stroke-width="2" fill="none" stroke-dasharray="6.5 3.8"/>
<path d="M237.6,84.8 C239.1,85.5 243.6,87.5 246.8,89 C250,90.5 252.7,92.8 256.9,94 C261.1,95.2 265.3,96.1 272,96.5 C278.7,96.9 290.1,96.5 297.1,96.5 C304.1,96.5 308.4,96.9 314,96.5 C319.6,96.1 327.2,94.8 330.7,94 C334.2,93.2 333.9,91.6 335,92 C336.1,92.4 335.7,95.5 337.4,96.5 C339.1,97.5 341.8,98.5 345,98.2 C348.2,97.9 352,95.6 356.8,94.8 C361.6,94 369.1,93.6 373.6,93.2 C378.1,92.8 380.8,91.6 383.6,92.3 C386.4,93 387.3,96.8 390.4,97.4 C393.5,98 398.2,96.8 402.1,95.7 C406,94.6 410,92.4 413.9,90.6 C417.8,88.8 422,86.8 425.6,84.8 C429.2,82.8 432.6,81 435.7,78.9 C438.8,76.8 441.3,74.2 444,72.2 C446.7,70.2 450.7,67.9 452,67.1" stroke="#f4f4f4" stroke-width="2" fill="none" stroke-dasharray="6.5 3.8"/>
<line x1="383.4" y1="33.6" x2="383.4" y2="139" stroke="#e53a2a" stroke-width="1.7" stroke-dasharray="5.5 3.5"/>
<path d="M380.6,138 L386.2,138 L383.4,144.5 Z" fill="#e53a2a"/>
<text transform="translate(357.16,35.49) scale(0.84,1)" text-anchor="start" font-family="Liberation Serif" font-weight="bold" font-size="18.69" fill="#ffffff" stroke="#ffffff" stroke-width="0.36" stroke-linejoin="round">Pt</text>
<text transform="translate(318.48,171.41) scale(1.16,1)" text-anchor="start" font-family="Liberation Serif" font-weight="bold" font-size="14.16" fill="#ffffff" stroke="#ffffff" stroke-width="0.26" stroke-linejoin="round">Matrix</text>
<rect x="406.1" y="197.7" width="40.8" height="19.7" fill="#fbfbfb"/>
<text transform="translate(408.78,208.73) scale(0.98,1)" text-anchor="start" font-family="Liberation Serif" font-weight="bold" font-size="12.88" fill="#000" stroke="#000" stroke-width="0.31" stroke-linejoin="round">300nm</text>
<rect x="411.2" y="212.7" width="29" height="1.9" fill="#000"/>
<text transform="translate(234.71,27.8) scale(1.03,1)" text-anchor="start" font-family="Liberation Serif" font-weight="bold" font-size="30.77" fill="#ffffff" stroke="#ffffff" stroke-width="0.29" stroke-linejoin="round">(b)</text>
</g>
<g clip-path="url(#cpC)">
<linearGradient id="gA" x1="0" y1="0" x2="0" y2="1"><stop offset="0" stop-color="#a8a8a8"/><stop offset="1" stop-color="#a2a2a2"/></linearGradient>
<rect x="465.4" y="3.4" width="218" height="218.2" fill="url(#gA)"/>
<rect x="465.4" y="3.4" width="218" height="100" fill="#000" filter="url(#nzd)" opacity="0.08"/>
<linearGradient id="dsC" gradientUnits="userSpaceOnUse" x1="465" y1="0" x2="481.5" y2="0"><stop offset="0" stop-color="#262626"/><stop offset="0.4" stop-color="#363636"/><stop offset="0.8" stop-color="#4e4e4e"/><stop offset="1" stop-color="#707070"/></linearGradient>
<path d="M458,0 L481.5,0 L481.5,3.4 C481.6,12 481.5,22 481.4,28.5 C481,36 479.8,43 479.2,43 C478.4,50 477.5,55 477.1,57 C476,64 475.5,68 474.3,71.3 C472.8,76 471.5,80 470,82.7 C468.5,86 467.5,89 465.4,92 L458,96 Z" fill="url(#dsC)" filter="url(#blur1)"/>
<radialGradient id="dcC" cx="0" cy="0" r="1"><stop offset="0" stop-color="#000"/><stop offset="0.6" stop-color="#0a0a0a" stop-opacity="0.8"/><stop offset="1" stop-color="#000" stop-opacity="0"/></radialGradient>
<rect x="465.4" y="3.4" width="18" height="26" fill="url(#dcC)"/>
<ellipse cx="636.2" cy="8.3" rx="7.8" ry="5.2" fill="#d2d2d2" stroke="#e8e8e8" stroke-width="1" filter="url(#blur07)"/>
<path d="M683.5,20 L683.5,48 C678,44 672,38 668,33 Z" fill="#6a6a6a" opacity="0.6" filter="url(#blur1)"/>
<path d="M662.8,3.4 C662,12 662.5,20 665,26 C668,31 675,37 683.5,43" stroke="#1e1e1e" stroke-width="2.6" fill="none" filter="url(#blur07)"/>
<path d="M662,30 C670,28 677,27 683.5,25" stroke="#3a3a3a" stroke-width="1.2" fill="none" filter="url(#blur07)"/>
<ellipse cx="667.6" cy="22" rx="3" ry="4.6" fill="#e6e6e6" filter="url(#blur07)"/>
<ellipse cx="680" cy="29.5" rx="4" ry="3.3" fill="#e6e6e6" filter="url(#blur07)"/>
<ellipse cx="668" cy="52" rx="9" ry="6" fill="#b4b4b4" filter="url(#blur2)"/>
<path d="M465.4,96.5 C467.3,94.4 472.9,87.5 476.8,83.9 C480.7,80.3 484.6,76.8 488.5,74.7 C492.4,72.6 495.8,72 500.3,71.3 C504.8,70.6 510.1,70.3 515.4,70.5 C520.7,70.7 526.6,71.7 532.2,72.5 C537.8,73.3 544.2,74.7 549,75.5 C553.8,76.3 557.1,76.9 560.7,77.6 C564.3,78.3 566.4,79 570.8,79.7 C575.1,80.4 582.2,81.9 586.8,81.9 C591.4,81.9 594.9,81.3 598.5,79.7 C602.1,78.1 605,74.9 608.6,72.2 C612.2,69.5 615.6,66.1 620.4,63.8 C625.1,61.5 631.5,59.6 637.1,58.4 C642.7,57.2 648.9,56.7 653.9,56.7 C658.9,56.7 663.5,57.5 667.4,58.4 C671.3,59.3 674.6,61 677.4,62.4 C680.2,63.8 682.9,65.8 684,66.5 L684,222 L465,222 Z" fill="#8e8e8e"/>
<path d="M465.4,96.5 C467.3,94.4 472.9,87.5 476.8,83.9 C480.7,80.3 484.6,76.8 488.5,74.7 C492.4,72.6 495.8,72 500.3,71.3 C504.8,70.6 510.1,70.3 515.4,70.5 C520.7,70.7 526.6,71.7 532.2,72.5 C537.8,73.3 544.2,74.7 549,75.5 C553.8,76.3 557.1,76.9 560.7,77.6 C564.3,78.3 566.4,79 570.8,79.7 C575.1,80.4 582.2,81.9 586.8,81.9 C591.4,81.9 594.9,81.3 598.5,79.7 C602.1,78.1 605,74.9 608.6,72.2 C612.2,69.5 615.6,66.1 620.4,63.8 C625.1,61.5 631.5,59.6 637.1,58.4 C642.7,57.2 648.9,56.7 653.9,56.7 C658.9,56.7 663.5,57.5 667.4,58.4 C671.3,59.3 674.6,61 677.4,62.4 C680.2,63.8 682.9,65.8 684,66.5 L684,222 L465,222 Z" fill="#000" filter="url(#nzd)" opacity="0.1"/>
<clipPath id="cpCreg"><path d="M465,112 L684,90 L684,144 L657.1,146 L640.7,150.9 L627.5,159.1 L619.3,169 L616,178.8 L614.4,195.3 L601.3,200.2 L581.5,203.5 L565.1,210 L552,218.3 L546,223 L465,223Z"/></clipPath>
<g filter="url(#blur07)"><path d="M465.9,196.8 L465.4,196.7 L465.4,199.1Z" fill="#a0a0a0"/><path d="M611.3,150.2 L613.9,151.2 L620.7,149.5 L621.7,148.5 L619.2,144.4 L618.3,143.9 L616,143.1Z" fill="#a8a8a8"/><path d="M565.5,157.6 L566.7,156.6 L566.8,156.6 L565.5,153.3 L562.1,152.6 L557.1,152.9 L557,154.5 L560,159.2Z" fill="#a8a8a8"/><path d="M536.1,195.8 L542,192.9 L535.6,184.3 L528.5,188.6 L528.5,189.6 L531.6,192.9 L535.7,195.9Z" fill="#a1a1a1"/><path d="M522.5,192.6 L521.3,197.5 L523.6,200.1 L524.8,200.5 L531.6,192.9 L528.5,189.6Z" fill="#9f9f9f"/><path d="M571.4,189.6 L580.6,188.2 L581,186.6 L580.2,180.7 L578,180 L575.6,180.2 L570,182.9 L568,184.5Z" fill="#a8a8a8"/><path d="M594.5,201.8 L593.7,203.6 L594.2,204.7 L606.4,206.9 L604.6,200.8 L599.7,199.8 L598.2,200.1Z" fill="#a4a4a4"/><path d="M471.2,218.1 L473.2,217.9 L474.5,216.4 L474.6,215.5 L471.3,209.4 L465.4,207.3 L465.4,217.6Z" fill="#979797"/><path d="M680.7,156.9 L677.7,153.4 L674.4,159.1 L675.3,159.2Z" fill="#9d9d9d"/><path d="M587,165.4 L587.2,165.4 L588.4,164.8 L592.6,161.8 L588.9,155.5 L580.3,152.5 L578.2,153.3 L576.6,156.8 L579.5,163.5 L579.7,163.7 L580.9,164.3Z" fill="#b3b3b3"/><path d="M571.2,196.1 L571.5,197.4 L581.1,201.4 L581.7,201.2 L571.8,194.8 L571.2,195.9Z" fill="#a5a5a5"/><path d="M502.9,136.9 L500.1,136.8 L499,141.3 L500.8,141.5 L506.4,140.1Z" fill="#a3a3a3"/><path d="M481.2,212.6 L491.6,216.9 L488.8,211.3 L482.1,211.3 L481.7,211.8Z" fill="#9a9a9a"/><path d="M649.2,122.1 L652.4,126.8 L656.6,126.3 L658,118.5 L655.1,117.2Z" fill="#a7a7a7"/><path d="M474.7,145.9 L478.3,144 L474.7,140.4 L474.6,140.4 L474.6,145.6Z" fill="#9e9e9e"/><path d="M489.4,139.5 L497.9,142.3 L499,141.3 L500.1,136.8 L498.4,134.1 L497.9,134 L492,134 L487.2,137.4 L487.1,138.1Z" fill="#a3a3a3"/><path d="M554,141.4 L564.3,138.8 L563.1,135.1 L554.7,132.6 L551.5,140.3Z" fill="#a6a6a6"/><path d="M606.9,111.2 L602.7,108.8 L600.5,109 L599.1,110.1 L600.9,114.6 L606.3,114.4 L606.9,111.8Z" fill="#a3a3a3"/><path d="M530.6,218.6 L529.7,219.1 L529,222 L536.6,222Z" fill="#a0a0a0"/><path d="M571.5,197.7 L577.3,204.3 L581.1,201.4 L571.5,197.4Z" fill="#a5a5a5"/><path d="M540.2,177.3 L545.5,170.8 L545.2,168.9 L538.1,168.7 L538.1,175.5Z" fill="#a0a0a0"/><path d="M643.8,126.9 L650.1,129.1 L652.4,126.8 L649.2,122.1 L643.7,120.5Z" fill="#a7a7a7"/><path d="M670,98.7 L678.4,94.6 L678.2,94.5 L670.3,95.1Z" fill="#9c9c9c"/><path d="M609.5,156.5 L609,150.6 L602.2,154.4 L604.7,156.4 L609.5,156.5Z" fill="#aaaaaa"/><path d="M466.2,175.4 L465.4,174.5 L465.4,175.7Z" fill="#a3a3a3"/><path d="M561.1,200.7 L560,199.7 L549,203.6 L548.9,203.9 L551.4,206.2 L554.5,207 L557.9,205.4Z" fill="#a6a6a6"/><path d="M635.4,151 L637.8,154.8 L640,154.6 L641.8,150.4 L642.7,146.8 L640.5,145.9 L638.6,146.2Z" fill="#a7a7a7"/><path d="M537.1,124.3 L540,128.1 L545,128.9 L545.8,128.7 L545.2,124.5 L544.6,123.2 L543.4,121.9 L543.1,121.9 L539.4,122.7Z" fill="#a5a5a5"/><path d="M637.5,204.6 L646.6,202.5 L651.6,196.8 L638.1,195.8Z" fill="#9f9f9f"/><path d="M529.2,143.4 L537.7,141.4 L537.4,140.2 L528.3,142.5 L528.5,143.3Z" fill="#9e9e9e"/><path d="M648.2,153.7 L645.3,156.5 L648.1,161.2 L652.7,162.7 L657.4,159.8 L657.9,158.9Z" fill="#a4a4a4"/><path d="M493.1,165.1 L496.9,166.5 L498.5,166.6 L492.1,158 L491.2,158.2 L492.7,164.1Z" fill="#a2a2a2"/><path d="M642.8,188.4 L650.1,194.5 L645.8,181.8 L643.6,182.4Z" fill="#a3a3a3"/><path d="M484.7,114.9 L484.7,114.9 L499.9,113.6 L499.5,112.1 L485.8,114.4Z" fill="#a0a0a0"/><path d="M680.7,156.9 L675.3,159.2 L680.3,162 L683.1,162.9 L683.5,162.8 L683.5,158.2Z" fill="#a2a2a2"/><path d="M658,118.5 L659.4,118.5 L666.6,111.4 L664.7,106.4 L663.7,104.8 L659,105.3 L654.4,116.5 L655.1,117.2Z" fill="#a3a3a3"/><path d="M678.4,94.6 L679.3,94.8 L683.2,94.2 L683.2,94.1 L678.2,94.5Z" fill="#959595"/><path d="M672.7,114.5 L680.4,120 L683.5,117.4 L683.5,114.4 L680.2,113.4 L674,114.1Z" fill="#a1a1a1"/><path d="M513.9,176.9 L511,175.8 L504.5,175.6 L504.1,177.3 L515,184.4Z" fill="#a3a3a3"/><path d="M670.8,198.2 L672.3,200.3 L680,193.9 L676.6,191.6 L676.6,191.6 L670.7,194.3Z" fill="#9f9f9f"/><path d="M678.1,176 L675.7,174.5 L672.2,174.6 L666.7,179.3 L667.9,182.2 L669.7,183.9 L676.3,183.6 L677.3,182.8 L678.4,181.5 L679.2,179.8Z" fill="#a1a1a1"/><path d="M537.4,140.2 L537.2,135.5 L534.2,134.6 L528.1,138.3 L527.8,141.3 L528.3,142.5Z" fill="#a0a0a0"/><path d="M579.7,163.7 L579.5,163.5 L570.1,160.6 L569.9,163.9 L575.3,165.1Z" fill="#adadad"/><path d="M677,109.2 L679.9,105.8 L676.9,102.3 L669,100.6 L665.1,101.9 L663.7,104.8 L664.7,106.4 L676.2,109.2Z" fill="#a2a2a2"/><path d="M509.6,135.7 L502.9,136.9 L506.4,140.1 L507,140.3Z" fill="#a1a1a1"/><path d="M499.9,113.6 L501.1,115.7 L501.7,116.3 L502.1,116.5 L504.5,116.8 L510.5,114.6 L509.6,111 L500,112 L499.5,112.1Z" fill="#9b9b9b"/><path d="M670.5,157.7 L669.2,153.5 L658.8,154.9 L658.3,158.4 L667.5,160.2 L668.8,159.4Z" fill="#a3a3a3"/><path d="M545.8,128.7 L552.6,130.9 L550.7,127 L545.2,124.5Z" fill="#a5a5a5"/><path d="M650.7,107 L656.2,105 L651.9,101.4 L644.2,100.5 L642.4,104.5 L648.2,106.7Z" fill="#a2a2a2"/><path d="M663,175.6 L666.7,179.3 L672.2,174.6 L662.1,172.7Z" fill="#9e9e9e"/><path d="M670.9,131.4 L672.8,131.1 L675.6,129.7 L675.6,127.7 L674.6,127 L668.1,126Z" fill="#a0a0a0"/><path d="M665.5,219.8 L665.6,217.8 L661,213.9 L655.7,215 L653.4,216.8 L655.5,221.3 L657,222 L664.7,222Z" fill="#a2a2a2"/><path d="M536.5,183.3 L535.6,184.3 L542,192.9 L549.2,192.2 L548.7,189.9 L543.7,182.7 L542.9,181.6 L541.9,181.3Z" fill="#a4a4a4"/><path d="M470.4,183.9 L473.2,185.4 L476.8,182.7 L477.7,181.6 L474.6,177.7 L469.3,175.5 L466.2,175.4 L465.4,175.7 L465.4,180.7Z" fill="#9d9d9d"/><path d="M677.3,182.8 L676.3,183.6 L677.3,186.6 L683.5,190.6 L683.5,187.5Z" fill="#9e9e9e"/><path d="M615.2,128.6 L616.6,131.8 L618.3,133.7 L620.4,134 L625.3,131.4 L623.2,128.7 L616.3,124.9Z" fill="#a2a2a2"/><path d="M665.5,219.8 L664.7,222 L674.4,222Z" fill="#a2a2a2"/><path d="M649.7,174.1 L642.1,170.8 L639,170.3 L633.7,175.4 L634.1,176.5 L641,181.6 L643.6,182.4 L645.8,181.8 L647.2,181.3 L650.2,176.6Z" fill="#a7a7a7"/><path d="M519.5,115 L524.6,113.3 L519.1,111.8Z" fill="#9d9d9d"/><path d="M530.9,123.4 L533.6,123.5 L533.6,115 L528.6,114.3 L526.7,118.8 L528.2,121.7Z" fill="#a3a3a3"/><path d="M643.4,127 L643.8,126.9 L643.7,120.5 L643.5,120.3 L642.6,120 L636.6,120.3Z" fill="#ababab"/><path d="M537.7,141.4 L540,146.5 L541.2,147.5 L541.6,147.5 L547.3,145 L549.1,141 L541.1,135.8 L538.2,135.3 L537.2,135.5 L537.4,140.2Z" fill="#a1a1a1"/><path d="M478.9,206.3 L472.1,208.3 L471.3,209.4 L474.6,215.5 L475.6,215 L478.8,208.7Z" fill="#989898"/><path d="M586.6,203.9 L587.2,209.7 L587.7,210.1 L594.2,204.8 L594.2,204.7 L593.7,203.6Z" fill="#a7a7a7"/><path d="M675.5,174 L674.8,167.2 L674.2,167 L667.2,167.9Z" fill="#a2a2a2"/><path d="M641.8,150.4 L648.2,153.7 L648.9,152 L643.4,146.8 L642.7,146.8Z" fill="#a7a7a7"/><path d="M467.7,121.7 L470.1,120.4 L469.3,118.2 L467.9,117.5 L465.4,117.9 L465.4,121.6Z" fill="#a1a1a1"/><path d="M613.6,140.5 L614.1,137.1 L612.7,136.6 L607,136.6 L607,136.7 L606.7,140Z" fill="#a3a3a3"/><path d="M572.9,128.6 L573.1,128.1 L569.8,126 L566.9,130.2 L567.6,131.7 L571.1,129.9Z" fill="#a0a0a0"/><path d="M674.4,159.1 L674.3,159.1 L675,163.1 L680.3,162 L675.3,159.2Z" fill="#a2a2a2"/><path d="M514.4,190.2 L514,195.4 L517.2,197.3 L521.3,197.5 L522.5,192.6Z" fill="#9e9e9e"/><path d="M677.7,153.4 L676.6,151.4 L674.6,150.3 L670.5,150.5 L669.2,153.5 L670.5,157.7 L674.3,159.1 L674.4,159.1Z" fill="#9e9e9e"/><path d="M492.7,164.1 L491.2,158.2 L488.4,158.1 L486.5,158.9Z" fill="#9d9d9d"/><path d="M655.5,221.3 L653.3,222 L657,222Z" fill="#9e9e9e"/><path d="M535.6,199 L535.7,195.9 L531.6,192.9 L524.8,200.5 L529.2,202.8 L533,200.9Z" fill="#9f9f9f"/><path d="M482.3,171.1 L481.6,170.6 L475.4,172.5 L474.6,177.7 L477.7,181.6 L484.6,181.4Z" fill="#a2a2a2"/><path d="M543.7,182.7 L555.5,184.8 L552,178.4 L542.9,181.6Z" fill="#a6a6a6"/><path d="M604.7,190.7 L606.9,188.7 L602.8,183.8 L602.2,184.8Z" fill="#aaaaaa"/><path d="M499.7,130.8 L502.6,128.4 L497.6,123 L496.4,123 L493.4,128.3Z" fill="#a3a3a3"/><path d="M529.8,126.5 L524.4,128.2 L529.3,132 L533.3,133.5 L533.2,132.6Z" fill="#a5a5a5"/><path d="M667,124.9 L660.7,128.6 L662.3,133 L663.7,133.7 L668.6,133.8 L669.8,133 L670.9,131.4 L668.1,126Z" fill="#a0a0a0"/><path d="M466,196.8 L465.9,196.8 L465.4,199.1 L465.4,202.7 L470.8,201.6 L470.5,198.8 L468.9,197.8Z" fill="#9a9a9a"/><path d="M530.9,123.4 L529.8,126.5 L533.2,132.6 L536.3,124.3 L533.6,123.5Z" fill="#a5a5a5"/><path d="M597.8,115.6 L593.6,110.2 L592.9,109.7 L590.7,109.9 L590,114.6 L590.3,115 L596.8,116.1 L597.7,116Z" fill="#9f9f9f"/><path d="M609.7,211.7 L609.9,212.8 L617.9,221.9 L622.7,216.8Z" fill="#a4a4a4"/><path d="M660.7,211.8 L663.1,209 L655,202.4 L654.7,207.8Z" fill="#9d9d9d"/><path d="M594.8,105.3 L594.8,105.4 L595.1,105.5 L601.9,106.5 L602.2,105.1 L602.6,101.9 L602.1,101.8 L594.6,102.5Z" fill="#9f9f9f"/><path d="M674,114.1 L680.2,113.4 L677,109.2 L676.2,109.2Z" fill="#a4a4a4"/><path d="M683.5,145.6 L683.5,140.9 L683.2,140.4 L677.5,145.5 L682.2,146.8Z" fill="#a4a4a4"/><path d="M612.6,159.3 L613.6,159.6 L617.6,157.1 L617.5,155.8 L613.9,151.2 L611.3,150.2 L609.2,150.2 L609,150.6 L609.5,156.5 L611.3,158.6Z" fill="#a7a7a7"/><path d="M620.8,116.3 L619.7,116.4 L613.7,120 L616.4,124.4 L621.1,124.6 L621.4,124.5 L622.8,120.4Z" fill="#a4a4a4"/><path d="M594.2,204.8 L597.1,210.4 L607.4,209.1 L606.4,206.9 L594.2,204.7Z" fill="#a9a9a9"/><path d="M540.2,177.3 L538.1,175.5 L533.8,173.9 L525.3,175 L536.5,183.3 L541.9,181.3Z" fill="#a5a5a5"/><path d="M558.3,147.2 L562.1,152.6 L565.5,153.3 L565.6,153 L564.9,150.4 L559.1,145.9Z" fill="#a8a8a8"/><path d="M541,163.2 L537.8,163.3 L537.1,168.1 L538.1,168.7 L545.2,168.9 L547.3,165.9Z" fill="#a1a1a1"/><path d="M474.4,221 L473.2,217.9 L471.2,218.1 L468.8,222 L473.7,222Z" fill="#979797"/><path d="M650.7,98.2 L652.2,96.8 L649.3,97.1Z" fill="#9d9d9d"/><path d="M616.3,100.4 L608.5,102.4 L610.9,107 L611.7,107.2 L620.1,107.4 L619.6,104 L617.7,101.3Z" fill="#9c9c9c"/><path d="M683.2,94.2 L683.5,94.4 L683.5,94 L683.2,94.1Z" fill="#9b9b9b"/><path d="M636.8,205.3 L646.1,211.1 L648.7,209.4 L646.6,202.5 L637.5,204.6Z" fill="#9e9e9e"/><path d="M594.5,183.9 L595.4,186.3 L600.9,186.6 L602.2,184.8 L602.8,183.8 L602.8,182.6 L600.4,179.5Z" fill="#b2b2b2"/><path d="M621.4,124.5 L629.7,125.9 L622.8,120.4Z" fill="#a5a5a5"/><path d="M603.5,193.1 L604.7,190.7 L602.2,184.8 L600.9,186.6 L599.4,190.4 L600.1,191.2Z" fill="#b0b0b0"/><path d="M506.9,199.9 L501.4,192.7 L501.2,192.6 L495.7,192.8 L494.9,196.7 L499.4,203.1 L500.6,203.1Z" fill="#9b9b9b"/><path d="M628.1,100.6 L634.1,105.9 L634.5,105.8 L635.7,101 L635.7,98.4 L627.3,99.3Z" fill="#a4a4a4"/><path d="M548,200.5 L549.6,192.5 L549.2,192.2 L542,192.9 L536.1,195.8Z" fill="#a1a1a1"/><path d="M505,158.7 L499.7,161.6 L500.7,166.4 L505.6,165.1 L507,161.1Z" fill="#a4a4a4"/><path d="M607,136.7 L607,136.6 L605.9,134.7 L604.3,133.4 L602.8,133.2 L599.4,133.1 L599.7,134.9 L602.2,136.9Z" fill="#a4a4a4"/><path d="M487.1,200.7 L491.5,197.3 L486.2,194.4 L482.9,195.8 L486.2,200.9Z" fill="#9d9d9d"/><path d="M669.4,188.2 L669.1,184.6 L661.6,186.9 L668.2,192.2 L669,192.4Z" fill="#a2a2a2"/><path d="M675.3,212.4 L675,213.9 L679.7,219.6 L683.5,219.1 L683.5,211.1 L678.3,211.7Z" fill="#9f9f9f"/><path d="M571.5,197.7 L567.6,204.1 L576.6,205.9 L577.3,204.3Z" fill="#a2a2a2"/><path d="M528.5,188.6 L522.9,183.9 L515.1,184.5 L512.5,188.1 L514.4,190.2 L522.5,192.6 L528.5,189.6Z" fill="#9c9c9c"/><path d="M600.1,178.4 L600.4,179.5 L602.8,182.6 L609.6,184.2 L613.3,177.3 L603.7,177 L601.8,177.3Z" fill="#aeaeae"/><path d="M667.9,182.2 L666.7,179.3 L663,175.6 L659.2,180.8Z" fill="#a2a2a2"/><path d="M484.5,204.4 L488.8,207 L496.2,207.1 L498.7,203.6 L487.1,200.7 L486.2,200.9Z" fill="#969696"/><path d="M622.6,166.8 L627.6,173.6 L633.7,175.4 L639,170.3 L637.3,168.1 L626.2,163.4 L626.1,163.4Z" fill="#a5a5a5"/><path d="M500.8,141.5 L499,141.3 L497.9,142.3 L498.9,147.2 L503.5,149.4 L508.2,151 L509.4,143.9 L509,143.6Z" fill="#a5a5a5"/><path d="M492.5,175.3 L489.1,179.9 L501.1,181.5 L504.1,177.3 L504.5,175.6 L503.3,173.7Z" fill="#a0a0a0"/><path d="M543.2,209.3 L536.6,211.9 L547.4,220.3 L549.4,213.8Z" fill="#a4a4a4"/><path d="M676.6,191.6 L680,193.9 L683.5,195.1 L683.5,190.6 L677.3,186.6Z" fill="#9d9d9d"/><path d="M557.1,171.8 L552.4,176.7 L552.3,178.1 L557.5,179.7 L560.4,178.7 L559.1,173.1Z" fill="#a2a2a2"/><path d="M572.6,168.6 L575.3,165.1 L569.9,163.9 L568.5,164.2 L566.9,166 L571.3,168.4Z" fill="#acacac"/><path d="M488.8,211.3 L488.8,207 L484.5,204.4 L482.8,204.6 L482.1,211.3Z" fill="#979797"/><path d="M577.3,125.1 L573.1,128.1 L572.9,128.6 L575.9,130.4 L578.5,131.4 L580.5,130.2 L581.6,127.2 L580.2,125.1Z" fill="#a0a0a0"/><path d="M566.8,171.1 L568.8,176.3 L575.6,180.2 L578,180 L574.9,173.1 L574.8,173.1 L572,172.3Z" fill="#acacac"/><path d="M529.3,132 L524.4,128.2 L520,127.1 L517.2,130.3 L521.3,133.6Z" fill="#9e9e9e"/><path d="M510.8,151.8 L519.6,160.3 L522.1,155 L517.8,149Z" fill="#a1a1a1"/><path d="M466.8,158.1 L467,158.4 L471.5,157.9 L478.7,152.2 L478.7,151.8 L474.1,148.9 L471.3,149.3 L468.4,150.9Z" fill="#a3a3a3"/><path d="M660.1,187 L661.6,186.9 L669.1,184.6 L669.7,183.9 L667.9,182.2 L659.2,180.8 L658.9,180.8Z" fill="#9e9e9e"/><path d="M565.6,153 L572.3,150 L569.2,143.4 L568.2,143.2 L564.9,150.4Z" fill="#a9a9a9"/><path d="M580.8,191.6 L586.6,196.4 L590.1,194 L589.5,190.6 L581,186.6 L580.6,188.2Z" fill="#adadad"/><path d="M626.2,163.4 L633.2,160.5 L633.9,155.9 L628.7,155 L627.2,155.9 L625.5,161.9 L626.1,163.4Z" fill="#a5a5a5"/><path d="M573.7,136.8 L576.8,136.9 L578.8,135.4 L578,131.9 L571.9,134.1Z" fill="#a3a3a3"/><path d="M554.3,150.2 L557.1,152.9 L562.1,152.6 L558.3,147.2Z" fill="#a5a5a5"/><path d="M571.8,194.8 L581.7,201.2 L582.4,200.9 L576.4,194.1 L571.9,194.7Z" fill="#a9a9a9"/><path d="M608.2,149.3 L609.2,150.2 L611.3,150.2 L616,143.1 L613.7,140.8 L612.8,141.4Z" fill="#a4a4a4"/><path d="M529.5,166.3 L529.9,166.3 L535.5,162 L535.3,161.6 L531.3,159.7Z" fill="#a0a0a0"/><path d="M634.1,176.5 L633.7,175.4 L627.6,173.6 L619.6,179.2 L621.7,183.4 L631.8,180.3Z" fill="#a6a6a6"/><path d="M594.5,201.8 L587.9,197.5 L586.6,196.9 L583.7,200.9 L586.6,203.9 L593.7,203.6Z" fill="#ababab"/><path d="M632.4,139.2 L627.1,143.8 L629.3,147.1 L633.7,145 L632.5,139.2Z" fill="#a4a4a4"/><path d="M589.5,190.6 L592.2,188.7 L589,184.2 L580.8,180.6 L580.2,180.7 L581,186.6Z" fill="#adadad"/><path d="M609.2,108.8 L606.9,111.2 L606.9,111.8 L616.2,114 L611.7,107.2 L610.9,107Z" fill="#a0a0a0"/><path d="M566.6,170.9 L566.7,171.1 L566.8,171.1 L572,172.3 L569.5,169.7Z" fill="#afafaf"/><path d="M633.7,145 L638.6,146.2 L640.5,145.9 L636.8,136.5 L636.2,136.4 L632.5,139.2Z" fill="#a2a2a2"/><path d="M578,180 L580.2,180.7 L580.8,180.6 L581,180.5 L581.8,174.5 L579.5,168.4 L574.9,173.1Z" fill="#adadad"/><path d="M594.6,148.3 L595,148.5 L605.3,147.1 L605.2,145.8 L603.8,142.9 L597.4,140.6Z" fill="#a5a5a5"/><path d="M534.1,114.9 L533.6,115 L533.6,123.5 L536.3,124.3 L537.1,124.3 L539.4,122.7Z" fill="#a5a5a5"/><path d="M569.5,169.7 L572,172.3 L574.8,173.1 L572.6,168.6 L571.3,168.4Z" fill="#aaaaaa"/><path d="M558,125.2 L561.5,125 L563.1,123.2 L564,120.1 L563.7,119.9 L556.1,117.6 L554.8,122.4Z" fill="#a0a0a0"/><path d="M582.4,200.9 L583.7,200.9 L586.6,196.9 L586.6,196.4 L580.8,191.6 L576.4,194.1Z" fill="#adadad"/><path d="M607.5,217.3 L609.9,212.8 L609.7,211.7 L609.6,211.5 L597.6,217.2 L599.2,221.8 L605.5,219.1Z" fill="#a2a2a2"/><path d="M560.2,191.7 L558.1,194.8 L558.7,195.5 L571.2,195.9 L571.8,194.8 L571.9,194.7 L571.4,193.9 L566.9,191.6Z" fill="#a9a9a9"/><path d="M553.9,108.7 L556.7,109.7 L558.5,110.3 L561.2,106 L561.2,105.9 L554.5,106.6Z" fill="#9a9a9a"/><path d="M595.2,189.5 L595,189.3 L592.2,188.7 L589.5,190.6 L590.1,194 L592,194.2 L593.8,194Z" fill="#adadad"/><path d="M533.8,214.5 L532.7,215 L530.6,218.6 L536.6,222 L538.2,222Z" fill="#9c9c9c"/><path d="M574.9,173.1 L579.5,168.4 L580.9,164.3 L579.7,163.7 L575.3,165.1 L572.6,168.6 L574.8,173.1Z" fill="#adadad"/><path d="M554.8,115.1 L556.9,114.5 L556.7,109.7 L553.9,108.7 L553.4,109.1 L553.8,114.6 L553.9,114.7Z" fill="#a3a3a3"/><path d="M567.9,118.5 L572,123.7 L577.3,125.1 L580.2,125.1 L581.2,120.1 L573.9,115.2Z" fill="#a2a2a2"/><path d="M648.1,114.6 L645.9,113.2 L640.2,114.3 L642.6,120 L643.5,120.3Z" fill="#ababab"/><path d="M598.8,177.7 L591.3,175.9 L581,180.5 L580.8,180.6 L589,184.2 L594.5,183.9 L600.4,179.5 L600.1,178.4Z" fill="#b3b3b3"/><path d="M616,143.1 L618.3,143.9 L622.8,137.2 L620.4,134 L618.3,133.7 L614.1,137.1 L613.6,140.5 L613.7,140.8Z" fill="#a2a2a2"/><path d="M617.2,188.8 L622,187.6 L621.7,183.4 L619.6,179.2 L615.9,176.8 L615.3,176.9 L613.3,177.3 L609.6,184.2Z" fill="#aeaeae"/><path d="M471.2,218.1 L465.4,217.6 L465.4,220.6 L465.8,222 L468.8,222Z" fill="#9a9a9a"/><path d="M655.9,190 L655.6,192.2 L668.2,192.2 L661.6,186.9 L660.1,187 L656.3,189.7Z" fill="#9e9e9e"/><path d="M511.2,188.1 L512.5,188.1 L515.1,184.5 L515,184.4 L504.1,177.3 L501.1,181.5 L501.2,181.8 L504.8,185Z" fill="#9d9d9d"/><path d="M606.3,114.4 L609.7,119.3 L613.7,120 L619.7,116.4 L616.2,114 L606.9,111.8Z" fill="#a2a2a2"/><path d="M674.9,163.5 L675,163.1 L674.3,159.1 L670.5,157.7 L668.8,159.4 L672.8,163.1Z" fill="#a0a0a0"/><path d="M617.9,221.9 L609.9,212.8 L607.5,217.3 L611.3,222 L617.9,222Z" fill="#a3a3a3"/><path d="M646,215.2 L646.1,211.1 L636.8,205.3 L636.4,205.4 L634.7,206.8 L641.6,214.9 L645.8,215.4Z" fill="#9e9e9e"/><path d="M651.6,196.8 L652.2,196.6 L652.3,196.5 L650.1,194.5 L642.8,188.4 L633.8,189.4 L631.4,191.3 L638.1,195.8Z" fill="#a0a0a0"/><path d="M468.4,150.9 L471.3,149.3 L466.4,145 L465.4,145.4 L465.4,149.7Z" fill="#9f9f9f"/><path d="M606.4,165.1 L607.3,167.5 L615.7,170.2 L619.9,166.9 L616.2,164.1 L608.5,164.3Z" fill="#ababab"/><path d="M669.6,164.2 L672.8,163.1 L668.8,159.4 L667.5,160.2 L668,163.7Z" fill="#a0a0a0"/><path d="M633.2,160.5 L626.2,163.4 L637.3,168.1 L638.3,162.7Z" fill="#a6a6a6"/><path d="M680,193.9 L672.3,200.3 L672.7,201 L680.2,201.7 L683.5,198.2 L683.5,195.1Z" fill="#9f9f9f"/><path d="M473.2,185.4 L470.4,183.9 L465.4,182.6 L465.4,188.2 L467,188.5 L467.5,188.6 L471.5,187.8Z" fill="#9f9f9f"/><path d="M487.2,127.1 L487.9,129.1 L491.2,131.8 L492.7,129.9 L493,128.4Z" fill="#a1a1a1"/><path d="M559.6,114.7 L563.6,114.1 L563.6,111.9 L559.2,111.2 L557.4,114.3Z" fill="#9f9f9f"/><path d="M645.6,220 L645.8,215.4 L641.6,214.9 L637.2,215.8 L635.1,219.3 L636.7,220.9 L638.5,222 L641.8,222Z" fill="#a0a0a0"/><path d="M572.3,214.9 L578,208.5 L576.6,205.9 L567.6,204.1 L567.2,204.2 L570.3,213.8Z" fill="#a3a3a3"/><path d="M572.9,128.6 L571.1,129.9 L575.9,130.4Z" fill="#a5a5a5"/><path d="M675,213.9 L665.6,217.8 L665.5,219.8 L674.4,222 L679.5,222 L679.7,219.6Z" fill="#9e9e9e"/><path d="M628.6,221.1 L629.5,218.5 L626.4,215.5 L622.7,216.8 L617.9,221.9 L617.9,222 L618.4,222Z" fill="#a1a1a1"/><path d="M588.2,129 L590.1,135.2 L599.3,133.1 L596.4,126.5 L596.4,126.5Z" fill="#a8a8a8"/><path d="M530.6,155.1 L525.5,153.3 L522.1,155 L519.6,160.3 L520.1,161.6 L529.6,158.2Z" fill="#a2a2a2"/><path d="M683.5,101.6 L683.5,97.6 L677.5,101.7 L677.3,102.1Z" fill="#9e9e9e"/><path d="M540.3,109.8 L545.5,109 L546.3,108.1 L546.3,107.4 L540,108 L539.9,108Z" fill="#9f9f9f"/><path d="M482.5,204.5 L478.9,202.3 L472.4,203.3 L472.1,208.3 L478.9,206.3Z" fill="#989898"/><path d="M536.6,158.9 L535.3,161.6 L535.5,162 L537.8,163.3 L541,163.2 L540.2,158.9Z" fill="#a1a1a1"/><path d="M611.3,158.6 L609.5,156.5 L609.5,156.5 L606.6,158 L608,160Z" fill="#ababab"/><path d="M676.6,191.6 L676.6,191.6 L677.3,186.6 L676.3,183.6 L669.7,183.9 L669.1,184.6 L669.4,188.2Z" fill="#a2a2a2"/><path d="M514.9,207.1 L508.6,200.3 L508.1,200 L507.8,199.9 L507.6,199.9 L510.5,208.7Z" fill="#9b9b9b"/><path d="M679.2,179.8 L678.4,181.5 L683.5,184.6 L683.5,180.4Z" fill="#a4a4a4"/><path d="M471.2,138.6 L471.6,138.7 L475.5,136.6 L472.2,131.4 L469.8,137.2Z" fill="#a4a4a4"/><path d="M621.4,124.5 L621.1,124.6 L623.2,128.7 L625.3,131.4 L628.1,130.8 L629.8,125.9 L629.7,125.9Z" fill="#a8a8a8"/><path d="M629.7,125.9 L629.8,125.9 L631.8,124.8 L632.7,121.9 L622.2,115.4 L620.8,116.3 L622.8,120.4Z" fill="#acacac"/><path d="M506.4,140.1 L500.8,141.5 L509,143.6 L507,140.3Z" fill="#9d9d9d"/><path d="M637.8,136.2 L650.7,141.8 L650.8,141.7 L647.9,133.2 L639.8,133.3Z" fill="#a7a7a7"/><path d="M616.3,100.4 L617.7,101.3 L620.6,99.9 L620,100 L616.3,100.4Z" fill="#9f9f9f"/><path d="M682.2,146.8 L677.5,145.5 L677.2,145.6 L674.6,150.3 L676.6,151.4 L683.5,151.2 L683.5,148.6Z" fill="#a3a3a3"/><path d="M499.9,113.6 L484.7,114.9 L489.2,118 L501.1,115.7Z" fill="#9c9c9c"/><path d="M683.2,140.4 L683,139.7 L680.9,137.4 L679.5,137.5 L672.7,140.5 L677.2,145.6 L677.5,145.5Z" fill="#a2a2a2"/><path d="M587.6,105 L586,107.2 L585.9,107.4 L589.7,109.6 L590.7,109.9 L592.9,109.7 L594.8,105.4 L594.8,105.3Z" fill="#9e9e9e"/><path d="M517.9,142 L521,140.2 L520.6,137.8 L516.9,137.7Z" fill="#9f9f9f"/><path d="M636.1,120.3 L641.7,127.6 L643.4,127 L636.6,120.3Z" fill="#a9a9a9"/><path d="M572.3,150 L565.6,153 L565.5,153.3 L566.8,156.6 L576.6,156.8 L578.2,153.3Z" fill="#a7a7a7"/><path d="M543.7,133.7 L545,128.9 L540,128.1 L538.2,135.3 L541.1,135.8Z" fill="#a4a4a4"/><path d="M553.8,114.6 L553.4,109.1 L546.3,108.1 L545.5,109 L547.8,111.7 L553.4,114.5Z" fill="#9e9e9e"/><path d="M561.9,207.7 L557.9,205.4 L554.5,207 L558.6,210.1 L560,209.6Z" fill="#9f9f9f"/><path d="M581.8,174.5 L581,180.5 L591.3,175.9 L587.2,165.4 L587,165.4Z" fill="#b2b2b2"/><path d="M495.4,156.3 L493.4,151.1 L488.6,152.9 L488.2,157.4 L488.4,158.1 L491.2,158.2 L492.1,158Z" fill="#a3a3a3"/><path d="M589.3,119.6 L592.6,118.2 L596.8,116.1 L590.3,115Z" fill="#a1a1a1"/><path d="M547.8,111.7 L545.5,109 L540.3,109.8 L538.9,110.9 L538.7,112.1 L544.8,116.4 L546,115.5Z" fill="#a1a1a1"/><path d="M640.6,98.2 L643.9,99.6 L644.4,98.3 L643.7,97.6 L640.3,98Z" fill="#9f9f9f"/><path d="M604.6,200.8 L607.1,198.1 L606.9,196.6 L603.5,193.1 L600.1,191.2 L596.4,195.2 L599.7,199.8Z" fill="#acacac"/><path d="M522.6,176.5 L513.9,176.9 L515,184.4 L515.1,184.5 L522.9,183.9Z" fill="#a0a0a0"/><path d="M660.1,149.2 L665.5,146.1 L665.1,144.8 L654.7,142.9Z" fill="#a2a2a2"/><path d="M674.6,127 L675.6,127.7 L681.4,124.8 L679.7,122.3 L673.5,121.7Z" fill="#a5a5a5"/><path d="M554,141.4 L559.1,145.6 L567.5,142.9 L564.3,138.8Z" fill="#a5a5a5"/><path d="M528.1,138.3 L522.2,134.9 L520.6,137.8 L521,140.2 L527.8,141.3Z" fill="#a5a5a5"/><path d="M567.7,213.5 L570.3,213.8 L567.2,204.2 L565.8,203.9 L562.8,207.4 L566.9,212.9Z" fill="#a1a1a1"/><path d="M543.4,121.9 L546,119.1 L544.8,116.4 L538.7,112.1 L536.5,113.9 L543.1,121.9Z" fill="#a1a1a1"/><path d="M519.1,111.8 L524.6,113.3 L527.3,112.9 L526,109.4 L517.9,110.2Z" fill="#a0a0a0"/><path d="M566.7,171.1 L562.5,174.4 L564.2,175.9 L568.8,176.3 L566.8,171.1Z" fill="#a8a8a8"/><path d="M605.2,145.8 L605.3,147.1 L608.2,149.3 L612.8,141.4Z" fill="#acacac"/><path d="M479.9,165.4 L481.6,170.6 L482.3,171.1 L487.3,170.8 L487.9,170.1 L486.3,165.3 L485.6,164.9Z" fill="#a3a3a3"/><path d="M553.4,114.5 L547.8,111.7 L546,115.5Z" fill="#9c9c9c"/><path d="M646.3,161.9 L648.1,161.2 L645.3,156.5 L640,154.6 L637.8,154.8 L637.1,155.3 L639.3,161.7Z" fill="#a6a6a6"/><path d="M592,194.2 L593.8,197.6 L598.2,200.1 L599.7,199.8 L596.4,195.2 L593.8,194Z" fill="#adadad"/><path d="M549.7,165 L556.1,165.8 L556.7,165.5 L557.3,162.7 L551.8,156 L551.4,155.8 L546.8,158 L548.2,162.3Z" fill="#a3a3a3"/><path d="M568,184.5 L570,182.9 L563.4,178 L561.5,178.9 L565.7,184.8Z" fill="#a9a9a9"/><path d="M470.5,198.8 L476.2,197.5 L477.1,195 L473.4,190.7 L468.9,197.8Z" fill="#a0a0a0"/><path d="M599.7,134.9 L599.4,133.1 L599.3,133.1 L590.1,135.2 L589.4,136.8 L592.4,138.8 L596.8,139.8Z" fill="#a5a5a5"/><path d="M581.2,120.1 L582.9,119.5 L584.3,113.9 L579,107.6 L574.2,106.1 L573.1,110.4 L573.9,115.2Z" fill="#a2a2a2"/><path d="M538.9,110.9 L540.3,109.8 L539.9,108 L535.2,108.5Z" fill="#9f9f9f"/><path d="M515.4,120.9 L519.9,125.9 L520.4,125.5 L522.1,118.4 L518,116.7 L516.4,116.8Z" fill="#a0a0a0"/><path d="M557.5,165.7 L566.7,161.9 L565.5,157.6 L560,159.2 L557.3,162.7 L556.7,165.5Z" fill="#ababab"/><path d="M635.5,120.2 L634.9,120.4 L632.7,121.9 L631.8,124.8 L639.6,129 L641.7,127.6 L636.1,120.3Z" fill="#acacac"/><path d="M468.9,129.2 L467.4,127.5 L465.4,126.5 L465.4,131.1Z" fill="#9e9e9e"/><path d="M674.2,167 L669.6,164.2 L668,163.7 L666.2,165.7 L666.3,167.6 L667.2,167.9Z" fill="#9f9f9f"/><path d="M576.6,156.8 L566.8,156.6 L566.7,156.6 L570.1,160.6 L579.5,163.5Z" fill="#a8a8a8"/><path d="M632.9,207.7 L625.4,209 L626,211.7 L636.8,215.3Z" fill="#a1a1a1"/><path d="M498.7,203.6 L499.4,203.1 L494.9,196.7 L491.5,197.3 L487.1,200.7Z" fill="#9e9e9e"/><path d="M599.2,120.9 L599.6,121.8 L607.2,121.3 L609.7,119.3 L606.3,114.4 L600.9,114.6 L597.8,115.6 L597.7,116Z" fill="#a7a7a7"/><path d="M594.1,212.6 L597.1,210.4 L594.2,204.8 L587.7,210.1 L590.1,212.1Z" fill="#a5a5a5"/><path d="M558.7,195.5 L558.1,194.8 L549.6,192.5 L548,200.5 L549,203.6 L560,199.7Z" fill="#a6a6a6"/><path d="M490.8,189.1 L487.5,191.6 L486.2,194.4 L491.5,197.3 L494.9,196.7 L495.7,192.8 L493.2,190.4Z" fill="#9f9f9f"/><path d="M469.3,175.5 L467.7,170.9 L466.8,169.5 L465.4,169.3 L465.4,174.5 L466.2,175.4Z" fill="#a1a1a1"/><path d="M544.8,116.4 L546,119.1 L548.1,119.3 L553.9,114.7 L553.8,114.6 L553.4,114.5 L546,115.5Z" fill="#a2a2a2"/><path d="M564.3,138.8 L567.5,142.9 L568.2,143.2 L569.2,143.4 L573.2,142.4 L573.7,136.8 L571.9,134.1 L567.6,132 L563.1,135.1Z" fill="#a1a1a1"/><path d="M566.9,130.2 L569.8,126 L570,125.1 L563.1,123.2 L561.5,125Z" fill="#a5a5a5"/><path d="M498.5,166.6 L500.3,166.8 L500.7,166.4 L499.7,161.6 L496.8,156.9 L495.4,156.3 L492.1,158Z" fill="#a2a2a2"/><path d="M581.1,201.4 L577.3,204.3 L576.6,205.9 L578,208.5 L581.8,209.7 L587.2,209.7 L586.6,203.9 L583.7,200.9 L582.4,200.9 L581.7,201.2Z" fill="#a9a9a9"/><path d="M584.7,113.8 L589.7,109.6 L585.9,107.4 L579,107.6 L584.3,113.9Z" fill="#9b9b9b"/><path d="M674.2,167 L674.8,167.2 L676,166.2 L674.9,163.5 L672.8,163.1 L669.6,164.2Z" fill="#a3a3a3"/><path d="M584.1,222 L590.2,222 L587.9,217.4 L581.5,217.4Z" fill="#a1a1a1"/><path d="M606.6,158 L605,158.4 L603.1,162.5 L603.2,162.6 L608,160Z" fill="#adadad"/><path d="M629.8,125.9 L628.1,130.8 L636.2,136.4 L636.8,136.5 L637.8,136.2 L639.8,133.3 L639.6,129 L631.8,124.8Z" fill="#a3a3a3"/><path d="M520.1,161.6 L520,162.2 L523.1,166.1 L529.5,166.3 L531.3,159.7 L529.6,158.2Z" fill="#9f9f9f"/><path d="M668.2,192.2 L655.6,192.2 L654.3,194.9 L670.8,198.2 L670.7,194.3 L669,192.4Z" fill="#a4a4a4"/><path d="M536.5,183.3 L525.3,175 L523.9,174.7 L522.6,176.5 L522.9,183.9 L528.5,188.6 L535.6,184.3Z" fill="#a0a0a0"/><path d="M470.4,140.1 L474.6,145.6 L474.6,140.4 L471.6,138.7 L471.2,138.6Z" fill="#a5a5a5"/><path d="M619.6,104 L620.1,107.4 L624.7,111 L625.2,110.9 L632.7,108.3 L634.1,105.9 L628.1,100.6Z" fill="#a1a1a1"/><path d="M581.6,127.2 L580.5,130.2 L585.8,137.6 L589.4,136.8 L590.1,135.2 L588.2,129Z" fill="#a2a2a2"/><path d="M634.6,185.8 L641,181.6 L634.1,176.5 L631.8,180.3Z" fill="#a4a4a4"/><path d="M474.6,177.7 L475.4,172.5 L474.2,169.6 L467.7,170.9 L469.3,175.5Z" fill="#a4a4a4"/><path d="M681.4,124.8 L675.6,127.7 L675.6,129.7 L682.9,132.8 L683.5,132.4 L683.5,126.3Z" fill="#a2a2a2"/><path d="M677.3,102.1 L676.9,102.3 L679.9,105.8 L683.5,107.3 L683.5,101.6Z" fill="#9f9f9f"/><path d="M579.5,168.4 L581.8,174.5 L587,165.4 L580.9,164.3Z" fill="#b2b2b2"/><path d="M518.8,218.9 L514.3,217.9 L509.1,221.3 L509.3,222 L521.7,222Z" fill="#9a9a9a"/><path d="M681.2,202.7 L680.2,201.7 L672.7,201 L670.6,205 L670.7,206.5 L675.3,212.4 L678.3,211.7Z" fill="#9e9e9e"/><path d="M510.6,160.5 L517.8,162.5 L520,162.2 L520.1,161.6 L519.6,160.3 L510.8,151.8 L508.4,151.2 L507.5,153 L509.9,159.1Z" fill="#a4a4a4"/><path d="M641.7,127.6 L639.6,129 L639.8,133.3 L647.9,133.2 L650.4,130.4 L650.1,129.1 L643.8,126.9 L643.4,127Z" fill="#a8a8a8"/><path d="M556.1,117.6 L563.7,119.9 L559.6,114.7 L557.4,114.3 L556.9,114.5 L554.8,115.1Z" fill="#9f9f9f"/><path d="M580.7,139.4 L577.1,143.4 L577.6,143.8 L584.3,142.7 L586.1,141.3 L585.3,138.2 L584.4,138.2Z" fill="#a8a8a8"/><path d="M612.2,190.9 L606.9,188.7 L604.7,190.7 L603.5,193.1 L606.9,196.6Z" fill="#a8a8a8"/><path d="M681.2,202.7 L678.3,211.7 L683.5,211.1 L683.5,204.3Z" fill="#9f9f9f"/><path d="M500.6,203.1 L499.4,203.1 L498.7,203.6 L496.2,207.1 L499.7,215 L502.8,215.5 L508.6,210.6 L508.6,210.1Z" fill="#999999"/><path d="M603.2,162.6 L606.4,165.1 L608.5,164.3 L612.6,159.3 L611.3,158.6 L608,160Z" fill="#b0b0b0"/><path d="M510.5,114.6 L514.6,115.4 L515.5,110.4 L509.6,111Z" fill="#9d9d9d"/><path d="M664.1,100.6 L663.5,95.7 L660,96 L657.8,96.2Z" fill="#989898"/><path d="M522.5,213.1 L521.5,211.8 L514,214.1 L514.3,217.9 L518.8,218.9 L522.5,213.3Z" fill="#999999"/><path d="M467,188.5 L465.4,188.2 L465.4,190.2Z" fill="#9d9d9d"/><path d="M605.9,134.7 L607,136.6 L612.7,136.6 L609.8,134.7Z" fill="#a7a7a7"/><path d="M504.5,116.8 L502.1,116.5 L508.5,128.9 L510.7,121.3Z" fill="#a5a5a5"/><path d="M642.4,104.5 L637.8,105.8 L645.5,112.4 L648.2,106.7Z" fill="#a7a7a7"/><path d="M515.8,202.4 L516.2,202.1 L516.3,200.6 L516.1,199.4 L508.1,200 L508.6,200.3Z" fill="#9f9f9f"/><path d="M501.1,115.7 L489.2,118 L492.3,122.1 L496.4,123 L497.6,123 L501.7,116.3Z" fill="#a0a0a0"/><path d="M634.9,120.4 L635.5,120.2 L635.2,111.8 L632.7,108.3 L625.2,110.9Z" fill="#a5a5a5"/><path d="M635.6,222 L638.5,222 L636.7,220.9Z" fill="#a0a0a0"/><path d="M625.5,161.9 L627.2,155.9 L622.6,154 L617.5,155.8 L617.6,157.1Z" fill="#a5a5a5"/><path d="M616.7,189.2 L617.2,200 L617.8,200.4 L621.3,201.8 L627.1,196.6 L628,191.3 L622,187.6 L617.2,188.8Z" fill="#a7a7a7"/><path d="M470.8,201.6 L472.4,203.3 L478.9,202.3 L476.2,197.5 L470.5,198.8Z" fill="#9e9e9e"/><path d="M602.8,183.8 L606.9,188.7 L612.2,190.9 L616.7,189.2 L617.2,188.8 L609.6,184.2 L602.8,182.6Z" fill="#aaaaaa"/><path d="M650.7,98.2 L651.1,98.8 L657.3,96.3 L652.2,96.8Z" fill="#9b9b9b"/><path d="M597.6,217.2 L609.6,211.5 L609.5,210.8 L608.8,210.2 L607.4,209.1 L597.1,210.4 L594.1,212.6Z" fill="#a4a4a4"/><path d="M501.2,192.6 L501.4,192.7 L502.5,192.2 L504.8,185 L501.2,181.8 L499.7,184.9Z" fill="#9b9b9b"/><path d="M623.8,138 L625.2,142.5 L627.1,143.8 L632.4,139.2Z" fill="#a6a6a6"/><path d="M654.7,142.9 L665.1,144.8 L665.6,143.1 L665.3,142.7 L656.4,137 L650.8,141.7 L650.7,141.8 L650.8,141.9Z" fill="#a5a5a5"/><path d="M471.3,209.4 L472.1,208.3 L472.4,203.3 L470.8,201.6 L465.4,202.7 L465.4,207.3Z" fill="#9a9a9a"/><path d="M608.2,149.3 L605.3,147.1 L595,148.5 L600.2,154.5 L602.2,154.4 L609,150.6 L609.2,150.2Z" fill="#aaaaaa"/><path d="M677.5,101.7 L679.3,94.8 L678.4,94.6 L670,98.7 L669,100.6 L676.9,102.3 L677.3,102.1Z" fill="#9c9c9c"/><path d="M581.5,217.4 L587.9,217.4 L588.2,215.5 L582,214.3 L580.1,216.8Z" fill="#a6a6a6"/><path d="M536.1,208.8 L538.9,204.3 L535.6,204.7Z" fill="#a1a1a1"/><path d="M550.5,124.4 L553.7,122.3 L548.1,119.3 L546,119.1 L543.4,121.9 L544.6,123.2Z" fill="#a5a5a5"/><path d="M507.8,199.9 L510.6,196.2 L507.4,191.9 L502.5,192.2 L501.4,192.7 L506.9,199.9 L507.6,199.9Z" fill="#9d9d9d"/><path d="M478.7,152.2 L471.5,157.9 L478,160 L481.2,157.3Z" fill="#a0a0a0"/><path d="M590.1,194 L586.6,196.4 L586.6,196.9 L587.9,197.5 L593.8,197.6 L592,194.2Z" fill="#a7a7a7"/><path d="M481.2,212.6 L475.6,215 L474.6,215.5 L474.5,216.4 L482.9,219 L488,219.3 L491.8,217.1 L491.6,216.9Z" fill="#9b9b9b"/><path d="M548.2,162.3 L546.8,158 L544.9,156.6 L541.8,155.7 L540.3,158.8Z" fill="#a0a0a0"/><path d="M521,203.1 L522.5,201.3 L516.3,200.6 L516.2,202.1Z" fill="#a0a0a0"/><path d="M509,143.6 L509.4,143.9 L513.3,142.2 L510.2,135.5 L509.6,135.7 L507,140.3Z" fill="#9e9e9e"/><path d="M467.4,127.5 L467.7,121.7 L465.4,121.6 L465.4,126.5Z" fill="#a3a3a3"/><path d="M520.9,209.1 L521,203.1 L516.2,202.1 L515.8,202.4 L515.6,207.1Z" fill="#9c9c9c"/><path d="M566.6,170.9 L562.9,167.1 L557.5,165.7 L556.7,165.5 L556.1,165.8 L557.1,171.8 L559.1,173.1 L562.5,174.4 L566.7,171.1Z" fill="#a5a5a5"/><path d="M515.6,207.1 L515.8,202.4 L508.6,200.3 L514.9,207.1Z" fill="#9f9f9f"/><path d="M560.6,215.5 L567.7,213.5 L566.9,212.9 L560,209.6 L558.6,210.1 L558.4,212.4Z" fill="#a0a0a0"/><path d="M494.4,217.5 L491.8,217.1 L488,219.3 L488,222 L496.3,222Z" fill="#999999"/><path d="M670.6,205 L659.5,201.5 L663.4,208.9 L670.7,206.5Z" fill="#9e9e9e"/><path d="M510.2,135.5 L511.7,132.5 L511.8,131.2 L508.5,129 L502.6,128.4 L499.7,130.8 L498.4,134.1 L500.1,136.8 L502.9,136.9 L509.6,135.7Z" fill="#9e9e9e"/><path d="M478.8,208.7 L475.6,215 L481.2,212.6 L481.7,211.8Z" fill="#949494"/><path d="M526.7,118.8 L522.1,118.4 L520.4,125.5 L528.2,121.7Z" fill="#a0a0a0"/><path d="M643.4,146.8 L648.9,152 L654.7,150.5 L650.5,142.6Z" fill="#a0a0a0"/><path d="M645.6,220 L641.8,222 L648.4,222Z" fill="#a3a3a3"/><path d="M501.7,116.3 L497.6,123 L502.6,128.4 L508.5,129 L508.5,128.9 L502.1,116.5Z" fill="#a3a3a3"/><path d="M590.7,109.9 L589.7,109.6 L584.7,113.8 L590,114.6Z" fill="#a2a2a2"/><path d="M560,159.2 L557,154.5 L551.8,156 L557.3,162.7Z" fill="#a2a2a2"/><path d="M552.6,130.9 L554.2,131.9 L558,125.2 L554.8,122.4 L553.7,122.3 L550.5,124.4 L550.7,127Z" fill="#a2a2a2"/><path d="M644.4,98.3 L645.3,97.5 L643.7,97.6Z" fill="#9f9f9f"/><path d="M672.7,201 L672.3,200.3 L670.8,198.2 L654.3,194.9 L652.3,196.5 L652.2,196.6 L654.3,199.2 L659.5,201.5 L670.6,205Z" fill="#a2a2a2"/><path d="M593.8,197.6 L587.9,197.5 L594.5,201.8 L598.2,200.1Z" fill="#a8a8a8"/><path d="M559.6,221.6 L557.7,222 L560.6,222Z" fill="#a3a3a3"/><path d="M629.3,147.1 L629.1,147.7 L635.4,151 L638.6,146.2 L633.7,145Z" fill="#a2a2a2"/><path d="M538.9,204.3 L540.1,203 L535.6,199 L533,200.9 L535.6,204.7Z" fill="#9c9c9c"/><path d="M524.6,113.3 L519.5,115 L518,116.7 L522.1,118.4 L526.7,118.8 L528.6,114.3 L527.3,112.9Z" fill="#a3a3a3"/><path d="M677.3,182.8 L683.5,187.5 L683.5,184.6 L678.4,181.5Z" fill="#a4a4a4"/><path d="M606.7,140 L607,136.7 L602.2,136.9 L605,140.5Z" fill="#a7a7a7"/><path d="M683.5,97.6 L683.5,94.4 L683.2,94.2 L679.3,94.8 L677.5,101.7Z" fill="#9a9a9a"/><path d="M533,200.9 L529.2,202.8 L529.9,207.3 L535.4,210.8 L536.1,208.8 L535.6,204.7Z" fill="#a0a0a0"/><path d="M578.8,135.4 L584.4,138.2 L585.3,138.2 L585.8,137.6 L580.5,130.2 L578.5,131.4 L578,131.9Z" fill="#a4a4a4"/><path d="M581.6,127.2 L588.2,129 L596.4,126.5 L596.3,125.8 L588.9,120 L582.9,119.5 L581.2,120.1 L580.2,125.1Z" fill="#a0a0a0"/><path d="M617.7,101.3 L619.6,104 L628.1,100.6 L627.3,99.3 L620.6,99.9Z" fill="#9c9c9c"/><path d="M492.7,129.9 L497.9,134 L498.4,134.1 L499.7,130.8 L493.4,128.3 L493.2,128.4 L493,128.4Z" fill="#a2a2a2"/><path d="M628.6,222 L635.6,222 L636.7,220.9 L635.1,219.3 L629.5,218.5 L628.6,221.1Z" fill="#a2a2a2"/><path d="M499.7,184.9 L501.2,181.8 L501.1,181.5 L489.1,179.9 L488.9,179.9 L485.4,181.6 L490.8,189.1 L493.2,190.4Z" fill="#9f9f9f"/><path d="M595.1,105.5 L600.5,109 L602.7,108.8 L601.9,106.5Z" fill="#9f9f9f"/><path d="M637.8,105.8 L634.5,105.8 L634.1,105.9 L632.7,108.3 L635.2,111.8 L640.2,114.3 L645.9,113.2 L645.5,112.4Z" fill="#a8a8a8"/><path d="M488.2,157.4 L488.6,152.9 L484.5,152.5Z" fill="#a1a1a1"/><path d="M590.2,222 L599.1,222 L599.2,221.8 L597.6,217.2 L594.1,212.6 L590.1,212.1 L588.2,215.5 L587.9,217.4Z" fill="#a3a3a3"/><path d="M547.3,165.9 L545.2,168.9 L545.5,170.8 L552.4,176.7 L557.1,171.8 L556.1,165.8 L549.7,165Z" fill="#a7a7a7"/><path d="M546.3,108.1 L553.4,109.1 L553.9,108.7 L554.5,106.6 L546.3,107.4Z" fill="#9d9d9d"/><path d="M573.2,219.7 L573.5,216.8 L572.3,214.9 L570.3,213.8 L567.7,213.5 L560.6,215.5 L559.6,218.1 L559.6,221.6 L560.6,222 L572,222Z" fill="#a2a2a2"/><path d="M607.7,132 L604.3,133.4 L605.9,134.7 L609.8,134.7Z" fill="#a6a6a6"/><path d="M473.4,190.7 L471.5,187.8 L467.5,188.6 L466,196.8 L468.9,197.8Z" fill="#9b9b9b"/><path d="M629.1,147.7 L627.5,149 L628.7,155 L633.9,155.9 L637.1,155.3 L637.8,154.8 L635.4,151Z" fill="#a6a6a6"/><path d="M594.5,183.9 L589,184.2 L592.2,188.7 L595,189.3 L595.4,186.3Z" fill="#b2b2b2"/><path d="M577.6,143.8 L581,147.8 L584,147.1 L584.3,142.7Z" fill="#a9a9a9"/><path d="M591,146.3 L592.4,138.8 L589.4,136.8 L585.8,137.6 L585.3,138.2 L586.1,141.3Z" fill="#a7a7a7"/><path d="M592.9,109.7 L593.6,110.2 L599.1,110.1 L600.5,109 L595.1,105.5 L594.8,105.4Z" fill="#a2a2a2"/><path d="M504.9,157.9 L505,158.7 L507,161.1 L510.6,160.5 L509.9,159.1Z" fill="#a1a1a1"/><path d="M678.1,176 L679.2,179.8 L683.5,180.4 L683.5,172.6Z" fill="#a1a1a1"/><path d="M621.7,183.4 L622,187.6 L628,191.3 L631.4,191.3 L633.8,189.4 L634.6,185.8 L631.8,180.3Z" fill="#a6a6a6"/><path d="M615.7,170.2 L615.9,176.8 L619.6,179.2 L627.6,173.6 L622.6,166.8 L619.9,166.9Z" fill="#adadad"/><path d="M547.4,220.3 L536.6,211.9 L536.2,211.8 L533.8,214.5 L538.2,222 L548,222Z" fill="#9d9d9d"/><path d="M507,161.1 L505.6,165.1 L510.5,166.3 L517.8,162.5 L510.6,160.5Z" fill="#a2a2a2"/><path d="M627.1,143.8 L625.2,142.5 L619.2,144.4 L621.7,148.5 L627.5,149 L629.1,147.7 L629.3,147.1Z" fill="#a3a3a3"/><path d="M481.2,157.3 L478,160 L479.1,165.1 L479.9,165.4 L485.6,164.9 L485.6,159.2Z" fill="#a4a4a4"/><path d="M576.8,136.9 L580.7,139.4 L584.4,138.2 L578.8,135.4Z" fill="#a2a2a2"/><path d="M665.1,144.8 L665.5,146.1 L670.5,150.5 L674.6,150.3 L677.2,145.6 L672.7,140.5 L672.4,140.4 L665.6,143.1Z" fill="#a3a3a3"/><path d="M600.9,114.6 L599.1,110.1 L593.6,110.2 L597.8,115.6Z" fill="#a4a4a4"/><path d="M586,107.2 L587.6,105 L588.1,103.2 L584.9,103.5Z" fill="#9f9f9f"/><path d="M478.9,202.3 L482.5,204.5 L482.8,204.6 L484.5,204.4 L486.2,200.9 L482.9,195.8 L481.4,195.2 L477.1,195 L476.2,197.5Z" fill="#9a9a9a"/><path d="M551.4,155.8 L551.8,156 L557,154.5 L557.1,152.9 L554.3,150.2 L553.4,150.1 L550.2,153.2Z" fill="#a2a2a2"/><path d="M489.1,179.9 L492.5,175.3 L492.9,172.4 L491.9,170.8 L487.9,170.1 L487.3,170.8 L488.9,179.9Z" fill="#a0a0a0"/><path d="M479.8,116.4 L480.8,115.6 L480.4,115.4 L474.9,116.3Z" fill="#a2a2a2"/><path d="M664.7,106.4 L666.6,111.4 L670.6,114.4 L672.7,114.5 L674,114.1 L676.2,109.2Z" fill="#a4a4a4"/><path d="M481.1,151 L484.5,152.5 L488.6,152.9 L493.4,151.1 L493.5,149.9 L490.7,148.5 L484.9,147.2Z" fill="#a4a4a4"/><path d="M606.9,173.2 L609.8,173 L607.7,170.1Z" fill="#afafaf"/><path d="M683.5,148.6 L683.5,145.6 L682.2,146.8Z" fill="#a1a1a1"/><path d="M551.3,212.5 L551.4,206.2 L548.9,203.9 L545.3,204.9 L543.2,209.3 L549.4,213.8 L551.1,212.7Z" fill="#9d9d9d"/><path d="M654.5,179.1 L656.3,189.7 L660.1,187 L658.9,180.8Z" fill="#a2a2a2"/><path d="M648.9,152 L648.2,153.7 L648.2,153.7 L657.9,158.9 L658.3,158.4 L658.8,154.9 L656.9,151.7 L654.7,150.5Z" fill="#a5a5a5"/><path d="M622.6,154 L620.7,149.5 L613.9,151.2 L617.5,155.8Z" fill="#a8a8a8"/><path d="M514.6,115.4 L516.4,116.8 L518,116.7 L519.5,115 L519.1,111.8 L517.9,110.2 L515.5,110.4Z" fill="#a3a3a3"/><path d="M569.9,163.9 L570.1,160.6 L566.7,156.6 L565.5,157.6 L566.7,161.9 L568.5,164.2Z" fill="#acacac"/><path d="M507.4,191.9 L511.2,188.1 L504.8,185 L502.5,192.2Z" fill="#a0a0a0"/><path d="M668,163.7 L667.5,160.2 L658.3,158.4 L657.9,158.9 L657.4,159.8 L660,162.1 L666.2,165.7Z" fill="#a4a4a4"/><path d="M509.1,221.3 L502.8,215.5 L499.7,215 L494.4,217.5 L496.3,222 L509.3,222Z" fill="#949494"/><path d="M465.4,220.6 L465.4,222 L465.8,222Z" fill="#9c9c9c"/><path d="M508.6,210.6 L502.8,215.5 L509.1,221.3 L514.3,217.9 L514,214.1Z" fill="#9a9a9a"/><path d="M672.4,140.4 L672.7,140.5 L679.5,137.5 L669.8,133 L668.6,133.8Z" fill="#a5a5a5"/><path d="M533,154 L530.6,155.1 L529.6,158.2 L531.3,159.7 L535.3,161.6 L536.6,158.9Z" fill="#9f9f9f"/><path d="M487.1,138.1 L487.2,137.4 L485.5,134.1 L477.6,127.2 L475.6,128.8 L480.5,137.6 L483.3,139.5Z" fill="#9f9f9f"/><path d="M486.8,126.7 L487.2,127.1 L493,128.4 L493.2,128.4 L491,123.1 L489.2,124.1Z" fill="#a0a0a0"/><path d="M679.5,222 L683.5,222 L683.5,219.1 L679.7,219.6Z" fill="#a5a5a5"/><path d="M633.8,189.4 L642.8,188.4 L643.6,182.4 L641,181.6 L634.6,185.8Z" fill="#a0a0a0"/><path d="M549.1,141 L547.3,145 L553.4,150.1 L554.3,150.2 L558.3,147.2 L559.1,145.9 L559.1,145.6 L554,141.4 L551.5,140.3Z" fill="#a3a3a3"/><path d="M532.7,167.8 L529.9,166.3 L529.5,166.3 L523.1,166.1 L522.5,171.3 L523.9,174.7 L525.3,175 L533.8,173.9Z" fill="#9f9f9f"/><path d="M605,158.4 L604.7,156.4 L602.2,154.4 L600.2,154.5 L597.4,161.2 L603.1,162.5Z" fill="#aeaeae"/><path d="M592.4,138.8 L591,146.3 L591.5,147 L593.4,148.3 L594.6,148.3 L597.4,140.6 L596.8,139.8Z" fill="#acacac"/><path d="M550.7,127 L550.5,124.4 L544.6,123.2 L545.2,124.5Z" fill="#a3a3a3"/><path d="M602.2,136.9 L599.7,134.9 L596.8,139.8 L597.4,140.6 L603.8,142.9 L605,140.5Z" fill="#aaaaaa"/><path d="M474.7,140.4 L478.3,144 L482.7,142.5 L483.1,139.8Z" fill="#a0a0a0"/><path d="M649.2,122.1 L655.1,117.2 L654.4,116.5 L651.2,114.8 L648.1,114.6 L643.5,120.3 L643.7,120.5Z" fill="#acacac"/><path d="M572,123.7 L570,125.1 L569.8,126 L573.1,128.1 L577.3,125.1Z" fill="#a0a0a0"/><path d="M648.2,153.7 L648.2,153.7 L641.8,150.4 L640,154.6 L645.3,156.5Z" fill="#a6a6a6"/><path d="M593.6,161.9 L592.6,161.8 L588.4,164.8 L595.4,170.5 L597.6,169.9 L598.5,168.1Z" fill="#b3b3b3"/><path d="M493.2,128.4 L493.4,128.3 L496.4,123 L492.3,122.1 L491,123.1Z" fill="#a4a4a4"/><path d="M503.3,173.7 L504.5,175.6 L511,175.8 L514,170.8 L511.9,169.2 L503.3,173.6Z" fill="#a1a1a1"/><path d="M478,160 L471.5,157.9 L467,158.4 L467.5,161.7 L470.4,164.7 L473.3,166 L479.1,165.1Z" fill="#a1a1a1"/><path d="M625.2,142.5 L623.8,138 L622.8,137.2 L618.3,143.9 L619.2,144.4Z" fill="#a3a3a3"/><path d="M534.3,152.2 L528.7,147.6 L524.3,150 L525.5,153.3 L530.6,155.1 L533,154Z" fill="#a4a4a4"/><path d="M666.2,165.7 L660,162.1 L662.3,170.4 L666.3,167.6Z" fill="#a3a3a3"/><path d="M466.8,169.5 L470.4,164.7 L467.5,161.7 L465.4,162.7 L465.4,169.3Z" fill="#a0a0a0"/><path d="M484.5,114.9 L484.7,114.9 L485.8,114.4 L484.5,114.7Z" fill="#9e9e9e"/><path d="M466.8,158.1 L468.4,150.9 L465.4,149.7 L465.4,157.7Z" fill="#9d9d9d"/><path d="M642.1,170.8 L646.3,161.9 L639.3,161.7 L638.3,162.7 L637.3,168.1 L639,170.3Z" fill="#a7a7a7"/><path d="M503.1,173.3 L503.3,173.6 L511.9,169.2 L510.5,166.3 L505.6,165.1 L500.7,166.4 L500.3,166.8Z" fill="#a0a0a0"/><path d="M507.6,199.9 L506.9,199.9 L500.6,203.1 L508.6,210.1 L510.5,208.7Z" fill="#9c9c9c"/><path d="M559.6,221.6 L559.6,218.1 L551.1,212.7 L549.4,213.8 L547.4,220.3 L548,222 L557.7,222Z" fill="#a2a2a2"/><path d="M561.7,185.6 L557.5,179.7 L552.3,178.1 L552,178.4 L555.5,184.8 L556,185.4 L560.6,186.4Z" fill="#a9a9a9"/><path d="M561.5,178.9 L560.4,178.7 L557.5,179.7 L561.7,185.6 L565.2,185.1 L565.7,184.8Z" fill="#a7a7a7"/><path d="M544.9,156.6 L547.3,152.5 L541.6,147.5 L541.2,147.5 L537.9,151.6 L541.8,155.7Z" fill="#a1a1a1"/><path d="M467.5,161.7 L467,158.4 L466.8,158.1 L465.4,157.7 L465.4,162.7Z" fill="#a0a0a0"/><path d="M482.1,211.3 L482.8,204.6 L482.5,204.5 L478.9,206.3 L478.8,208.7 L481.7,211.8Z" fill="#989898"/><path d="M680.4,120 L679.7,122.3 L681.4,124.8 L683.5,126.3 L683.5,117.4Z" fill="#a5a5a5"/><path d="M559.6,218.1 L560.6,215.5 L558.4,212.4 L551.3,212.5 L551.1,212.7Z" fill="#a5a5a5"/><path d="M498.1,156.6 L503.5,149.4 L498.9,147.2 L493.5,149.9 L493.4,151.1 L495.4,156.3 L496.8,156.9Z" fill="#9e9e9e"/><path d="M529.2,202.8 L524.8,200.5 L523.6,200.1 L522.5,201.3 L521,203.1 L520.9,209.1 L521.4,209.6 L529.9,207.3Z" fill="#a0a0a0"/><path d="M566.9,166 L562.9,167.1 L566.6,170.9 L569.5,169.7 L571.3,168.4Z" fill="#aeaeae"/><path d="M573.7,136.8 L573.2,142.4 L577.1,143.4 L580.7,139.4 L576.8,136.9Z" fill="#a6a6a6"/><path d="M650.9,209.4 L655.7,215 L661,213.9 L660.7,211.8 L654.7,207.8Z" fill="#a4a4a4"/><path d="M480.8,115.6 L483.9,115.1 L484.5,114.9 L484.5,114.7 L480.4,115.4Z" fill="#9e9e9e"/><path d="M478,126.4 L477.6,127.2 L485.5,134.1 L487.9,129.1 L487.2,127.1 L486.8,126.7 L482.6,126Z" fill="#a1a1a1"/><path d="M648.4,222 L653.3,222 L655.5,221.3 L653.4,216.8 L646,215.2 L645.8,215.4 L645.6,220Z" fill="#a5a5a5"/><path d="M523.1,166.1 L520,162.2 L517.8,162.5 L510.5,166.3 L511.9,169.2 L514,170.8 L522.5,171.3Z" fill="#a0a0a0"/><path d="M573.2,219.7 L572,222 L581,222Z" fill="#a5a5a5"/><path d="M559.2,111.2 L558.5,110.3 L556.7,109.7 L556.9,114.5 L557.4,114.3Z" fill="#9c9c9c"/><path d="M662.3,170.4 L660,162.1 L657.4,159.8 L652.7,162.7 L654.8,170.7 L661,171.7Z" fill="#a2a2a2"/><path d="M567.3,118.5 L564,120.1 L563.1,123.2 L570,125.1 L572,123.7 L567.9,118.5Z" fill="#a5a5a5"/><path d="M553.7,122.3 L554.8,122.4 L556.1,117.6 L554.8,115.1 L553.9,114.7 L548.1,119.3Z" fill="#a3a3a3"/><path d="M528.6,114.3 L533.6,115 L534.1,114.9 L536.5,113.9 L538.7,112.1 L538.9,110.9 L535.2,108.5 L526,109.4 L527.3,112.9Z" fill="#a1a1a1"/><path d="M659,105.3 L656.2,105 L650.7,107 L651.2,114.8 L654.4,116.5Z" fill="#a2a2a2"/><path d="M561.6,201.1 L571.2,196.1 L571.2,195.9 L558.7,195.5 L560,199.7 L561.1,200.7Z" fill="#a7a7a7"/><path d="M533.2,132.6 L533.3,133.5 L534.2,134.6 L537.2,135.5 L538.2,135.3 L540,128.1 L537.1,124.3 L536.3,124.3Z" fill="#a2a2a2"/><path d="M516.9,137.7 L520.6,137.8 L522.2,134.9 L521.3,133.6 L517.2,130.3 L511.8,131.2 L511.7,132.5Z" fill="#a0a0a0"/><path d="M510.2,135.5 L513.3,142.2 L517.1,143.2 L517.9,142 L516.9,137.7 L511.7,132.5Z" fill="#a4a4a4"/><path d="M663.7,133.7 L665.3,142.7 L665.6,143.1 L672.4,140.4 L668.6,133.8Z" fill="#a3a3a3"/><path d="M485.6,164.9 L486.3,165.3 L493.1,165.1 L492.7,164.1 L486.5,158.9 L485.6,159.2Z" fill="#9f9f9f"/><path d="M528.3,142.5 L527.8,141.3 L521,140.2 L517.9,142 L517.1,143.2 L518.6,145.1 L528,144.4 L528.5,143.3Z" fill="#a0a0a0"/><path d="M606.4,206.9 L607.4,209.1 L608.8,210.2 L617.8,200.4 L617.2,200 L607.1,198.1 L604.6,200.8Z" fill="#a2a2a2"/><path d="M607.7,132 L608.2,131.1 L606.5,128.4 L602.8,133.2 L604.3,133.4Z" fill="#a6a6a6"/><path d="M542.9,181.6 L552,178.4 L552.3,178.1 L552.4,176.7 L545.5,170.8 L540.2,177.3 L541.9,181.3Z" fill="#a1a1a1"/><path d="M671.1,120.9 L670.6,114.4 L666.6,111.4 L659.4,118.5 L666.9,123Z" fill="#a4a4a4"/><path d="M640.5,145.9 L642.7,146.8 L643.4,146.8 L650.5,142.6 L650.8,141.9 L650.7,141.8 L637.8,136.2 L636.8,136.5Z" fill="#a4a4a4"/><path d="M656.9,151.7 L658.8,154.9 L669.2,153.5 L670.5,150.5 L665.5,146.1 L660.1,149.2Z" fill="#a0a0a0"/><path d="M503.1,173.3 L492.9,172.4 L492.5,175.3 L503.3,173.7 L503.3,173.6Z" fill="#9d9d9d"/><path d="M595.4,170.5 L588.4,164.8 L587.2,165.4 L591.3,175.9 L598.8,177.7 L598.5,176.7Z" fill="#b4b4b4"/><path d="M600.9,186.6 L595.4,186.3 L595,189.3 L595.2,189.5 L599.4,190.4Z" fill="#afafaf"/><path d="M619.9,166.9 L622.6,166.8 L626.1,163.4 L625.5,161.9 L617.6,157.1 L613.6,159.6 L616.2,164.1Z" fill="#adadad"/><path d="M482.9,195.8 L486.2,194.4 L487.5,191.6 L482.3,191 L481.4,195.2Z" fill="#9f9f9f"/><path d="M603.7,177 L613.3,177.3 L615.3,176.9 L609.8,173 L606.9,173.2Z" fill="#b3b3b3"/><path d="M608.5,102.4 L616.3,100.4 L616.3,100.4 L606.8,101.3Z" fill="#a0a0a0"/><path d="M535.4,210.8 L536.2,211.8 L536.6,211.9 L543.2,209.3 L545.3,204.9 L540.1,203 L538.9,204.3 L536.1,208.8Z" fill="#a0a0a0"/><path d="M683.1,162.9 L679,166.2 L683.5,171.7 L683.5,162.8Z" fill="#a1a1a1"/><path d="M602.4,170.5 L601.8,177.3 L603.7,177 L606.9,173.2 L607.7,170.1 L607.1,167.8Z" fill="#b0b0b0"/><path d="M626,211.7 L625.4,209 L624.3,208.3 L609.5,210.8 L609.6,211.5 L609.7,211.7 L622.7,216.8 L626.4,215.5Z" fill="#a1a1a1"/><path d="M467.4,127.5 L468.9,129.2 L472.2,129.9 L475.6,128.8 L477.6,127.2 L478,126.4 L476.4,123.5 L470.1,120.4 L467.7,121.7Z" fill="#a3a3a3"/><path d="M588.2,215.5 L590.1,212.1 L587.7,210.1 L587.2,209.7 L581.8,209.7 L582,214.3Z" fill="#a7a7a7"/><path d="M479.1,165.1 L473.3,166 L474.2,169.6 L475.4,172.5 L481.6,170.6 L479.9,165.4Z" fill="#a2a2a2"/><path d="M549,203.6 L548,200.5 L536.1,195.8 L535.7,195.9 L535.6,199 L540.1,203 L545.3,204.9 L548.9,203.9Z" fill="#a2a2a2"/><path d="M477.1,195 L481.4,195.2 L482.3,191 L476.8,182.7 L473.2,185.4 L471.5,187.8 L473.4,190.7Z" fill="#9b9b9b"/><path d="M559.1,145.9 L564.9,150.4 L568.2,143.2 L567.5,142.9 L559.1,145.6Z" fill="#a1a1a1"/><path d="M683,139.7 L683.2,140.4 L683.5,140.9 L683.5,139.7Z" fill="#9f9f9f"/><path d="M520.4,125.5 L519.9,125.9 L520,127.1 L524.4,128.2 L529.8,126.5 L530.9,123.4 L528.2,121.7Z" fill="#a3a3a3"/><path d="M483.9,115.1 L484.7,120.6 L489.2,124.1 L491,123.1 L492.3,122.1 L489.2,118 L484.7,114.9 L484.7,114.9 L484.5,114.9Z" fill="#9f9f9f"/><path d="M568.5,164.2 L566.7,161.9 L557.5,165.7 L562.9,167.1 L566.9,166Z" fill="#a5a5a5"/><path d="M532.7,215 L533.8,214.5 L536.2,211.8 L535.4,210.8 L529.9,207.3 L521.4,209.6 L521.5,211.8 L522.5,213.1Z" fill="#9d9d9d"/><path d="M666.9,123 L659.4,118.5 L658,118.5 L656.6,126.3 L660.7,128.6 L667,124.9Z" fill="#a2a2a2"/><path d="M522.1,155 L525.5,153.3 L524.3,150 L518.7,148.2 L517.8,149Z" fill="#a3a3a3"/><path d="M484.6,181.4 L477.7,181.6 L476.8,182.7 L482.3,191 L487.5,191.6 L490.8,189.1 L485.4,181.6Z" fill="#9e9e9e"/><path d="M679,166.2 L676,166.2 L674.8,167.2 L675.5,174 L675.7,174.5 L678.1,176 L683.5,172.6 L683.5,171.7Z" fill="#a2a2a2"/><path d="M491.2,131.8 L492,134 L497.9,134 L492.7,129.9Z" fill="#a5a5a5"/><path d="M571.9,194.7 L576.4,194.1 L580.8,191.6 L580.6,188.2 L571.4,189.6 L571.4,193.9Z" fill="#aaaaaa"/><path d="M495.7,192.8 L501.2,192.6 L499.7,184.9 L493.2,190.4Z" fill="#9b9b9b"/><path d="M603.8,142.9 L605.2,145.8 L612.8,141.4 L613.7,140.8 L613.6,140.5 L606.7,140 L605,140.5Z" fill="#a6a6a6"/><path d="M563.1,135.1 L567.6,132 L567.6,131.7 L566.9,130.2 L561.5,125 L558,125.2 L554.2,131.9 L554.3,132.1 L554.7,132.6Z" fill="#a4a4a4"/><path d="M631.4,191.3 L628,191.3 L627.1,196.6 L636.4,205.4 L636.8,205.3 L637.5,204.6 L638.1,195.8Z" fill="#a0a0a0"/><path d="M508.6,210.1 L508.6,210.6 L514,214.1 L521.5,211.8 L521.4,209.6 L520.9,209.1 L515.6,207.1 L514.9,207.1 L510.5,208.7Z" fill="#999999"/><path d="M602.6,101.9 L606.5,101.4 L602.1,101.8Z" fill="#9c9c9c"/><path d="M474.2,147 L474.1,148.9 L478.7,151.8 L481.1,151 L484.9,147.2 L482.7,142.5 L478.3,144 L474.7,145.9Z" fill="#9e9e9e"/><path d="M679,166.2 L683.1,162.9 L680.3,162 L675,163.1 L674.9,163.5 L676,166.2Z" fill="#a1a1a1"/><path d="M632.9,207.7 L634.7,206.8 L636.4,205.4 L627.1,196.6 L621.3,201.8 L624.3,208.3 L625.4,209Z" fill="#a6a6a6"/><path d="M635.1,219.3 L637.2,215.8 L636.8,215.3 L626,211.7 L626.4,215.5 L629.5,218.5Z" fill="#a5a5a5"/><path d="M599.6,121.8 L599.2,120.9 L592.6,118.2 L589.3,119.6 L588.9,120 L596.3,125.8Z" fill="#a0a0a0"/><path d="M510.7,121.3 L508.5,128.9 L508.5,129 L511.8,131.2 L517.2,130.3 L520,127.1 L519.9,125.9 L515.4,120.9Z" fill="#a3a3a3"/><path d="M647.9,133.2 L650.8,141.7 L656.4,137 L657,135 L650.4,130.4Z" fill="#a5a5a5"/><path d="M475.5,136.6 L480.5,137.6 L475.6,128.8 L472.2,129.9 L472.2,131.4Z" fill="#a0a0a0"/><path d="M603.2,162.6 L603.1,162.5 L597.4,161.2 L593.6,161.9 L598.5,168.1 L602.4,170.5 L607.1,167.8 L607.3,167.5 L606.4,165.1Z" fill="#aeaeae"/><path d="M608.3,126.5 L606.4,128.1 L606.5,128.4 L608.2,131.1 L616.6,131.8 L615.2,128.6Z" fill="#a7a7a7"/><path d="M524.9,216.9 L523.1,222 L529,222 L529.7,219.1Z" fill="#9d9d9d"/><path d="M574.3,104.6 L572.3,104.8 L573.8,105.3Z" fill="#9d9d9d"/><path d="M544.9,156.6 L546.8,158 L551.4,155.8 L550.2,153.2 L547.3,152.5Z" fill="#a1a1a1"/><path d="M599.3,133.1 L599.4,133.1 L602.8,133.2 L606.5,128.4 L606.4,128.1 L596.4,126.5Z" fill="#a8a8a8"/><path d="M564.2,175.9 L562.5,174.4 L559.1,173.1 L560.4,178.7 L561.5,178.9 L563.4,178Z" fill="#a7a7a7"/><path d="M608.8,210.2 L609.5,210.8 L624.3,208.3 L621.3,201.8 L617.8,200.4Z" fill="#a5a5a5"/><path d="M672.8,131.1 L681,136.8 L682.9,132.8 L675.6,129.7Z" fill="#a4a4a4"/><path d="M600.2,154.5 L595,148.5 L594.6,148.3 L593.4,148.3 L588.9,155.5 L592.6,161.8 L593.6,161.9 L597.4,161.2Z" fill="#ababab"/><path d="M567.2,204.2 L567.6,204.1 L571.5,197.7 L571.5,197.4 L571.2,196.1 L561.6,201.1 L565.8,203.9Z" fill="#a6a6a6"/><path d="M513.3,142.2 L509.4,143.9 L508.2,151 L508.4,151.2 L510.8,151.8 L517.8,149 L518.7,148.2 L518.6,145.1 L517.1,143.2Z" fill="#a2a2a2"/><path d="M602.6,101.9 L602.2,105.1 L609.2,108.8 L610.9,107 L608.5,102.4 L606.8,101.3 L606.5,101.4Z" fill="#a0a0a0"/><path d="M559.2,111.2 L563.6,111.9 L563.7,111.8 L561.2,106 L558.5,110.3Z" fill="#9c9c9c"/><path d="M571.1,129.9 L567.6,131.7 L567.6,132 L571.9,134.1 L578,131.9 L578.5,131.4 L575.9,130.4Z" fill="#a6a6a6"/><path d="M636.2,136.4 L628.1,130.8 L625.3,131.4 L620.4,134 L622.8,137.2 L623.8,138 L632.4,139.2 L632.5,139.2Z" fill="#a3a3a3"/><path d="M563.7,119.9 L564,120.1 L567.3,118.5 L563.6,114.1 L559.6,114.7Z" fill="#a2a2a2"/><path d="M573.5,216.8 L580.1,216.8 L582,214.3 L581.8,209.7 L578,208.5 L572.3,214.9Z" fill="#a4a4a4"/><path d="M469.3,118.2 L470.1,120.4 L476.4,123.5 L479.8,116.4 L474.9,116.3 L470.4,117.1Z" fill="#9e9e9e"/><path d="M488.9,179.9 L487.3,170.8 L482.3,171.1 L484.6,181.4 L485.4,181.6Z" fill="#a3a3a3"/><path d="M549.6,192.5 L558.1,194.8 L560.2,191.7 L560.6,186.4 L556,185.4 L548.7,189.9 L549.2,192.2Z" fill="#a4a4a4"/><path d="M666.3,167.6 L662.3,170.4 L661,171.7 L662.1,172.7 L672.2,174.6 L675.7,174.5 L675.5,174 L667.2,167.9Z" fill="#a4a4a4"/><path d="M474.4,221 L473.7,222 L475.3,222Z" fill="#999999"/><path d="M683.5,158.2 L683.5,151.2 L676.6,151.4 L677.7,153.4 L680.7,156.9Z" fill="#a3a3a3"/><path d="M650.1,129.1 L650.4,130.4 L657,135 L662.3,133 L660.7,128.6 L656.6,126.3 L652.4,126.8Z" fill="#a5a5a5"/><path d="M652.7,162.7 L648.1,161.2 L646.3,161.9 L642.1,170.8 L649.7,174.1 L654.8,170.7Z" fill="#a4a4a4"/><path d="M545,128.9 L543.7,133.7 L554.3,132.1 L554.2,131.9 L552.6,130.9 L545.8,128.7Z" fill="#a0a0a0"/><path d="M608.4,221.9 L605.5,219.1 L599.2,221.8 L599.1,222 L608.4,222Z" fill="#9f9f9f"/><path d="M516.3,200.6 L522.5,201.3 L523.6,200.1 L521.3,197.5 L517.2,197.3 L516.1,199.4Z" fill="#9f9f9f"/><path d="M645.5,112.4 L645.9,113.2 L648.1,114.6 L651.2,114.8 L650.7,107 L648.2,106.7Z" fill="#a5a5a5"/><path d="M508.1,200 L516.1,199.4 L517.2,197.3 L514,195.4 L510.6,196.2 L507.8,199.9Z" fill="#9d9d9d"/><path d="M483.1,139.8 L482.7,142.5 L484.9,147.2 L490.7,148.5 L489.4,139.5 L487.1,138.1 L483.3,139.5Z" fill="#a2a2a2"/><path d="M604.7,156.4 L605,158.4 L606.6,158 L609.5,156.5Z" fill="#acacac"/><path d="M518.7,148.2 L524.3,150 L528.7,147.6 L528,144.4 L518.6,145.1Z" fill="#a0a0a0"/><path d="M518.8,218.9 L521.7,222 L523.1,222 L524.9,216.9 L522.5,213.3Z" fill="#9b9b9b"/><path d="M597.6,169.9 L595.4,170.5 L598.5,176.7Z" fill="#b4b4b4"/><path d="M474.2,147 L474.7,145.9 L474.6,145.6 L470.4,140.1 L467.8,141.9Z" fill="#a3a3a3"/><path d="M504.5,156.4 L498.1,156.6 L496.8,156.9 L499.7,161.6 L505,158.7 L504.9,157.9Z" fill="#9d9d9d"/><path d="M607.3,167.5 L607.1,167.8 L607.7,170.1 L609.8,173 L615.3,176.9 L615.9,176.8 L615.7,170.2Z" fill="#ababab"/><path d="M541,163.2 L547.3,165.9 L549.7,165 L548.2,162.3 L540.3,158.8 L540.2,158.9Z" fill="#a0a0a0"/><path d="M635.7,101 L640.6,98.2 L640.3,98 L635.7,98.4Z" fill="#9f9f9f"/><path d="M540.3,158.8 L541.8,155.7 L537.9,151.6 L534.3,152.2 L533,154 L536.6,158.9 L540.2,158.9Z" fill="#a1a1a1"/><path d="M627.2,155.9 L628.7,155 L627.5,149 L621.7,148.5 L620.7,149.5 L622.6,154Z" fill="#a7a7a7"/><path d="M628.6,221.1 L618.4,222 L628.6,222Z" fill="#9e9e9e"/><path d="M623.2,128.7 L621.1,124.6 L616.4,124.4 L616.3,124.9Z" fill="#a4a4a4"/><path d="M550.2,153.2 L553.4,150.1 L547.3,145 L541.6,147.5 L547.3,152.5Z" fill="#a2a2a2"/><path d="M532.7,215 L522.5,213.1 L522.5,213.3 L524.9,216.9 L529.7,219.1 L530.6,218.6Z" fill="#9f9f9f"/><path d="M486.5,158.9 L488.4,158.1 L488.2,157.4 L484.5,152.5 L481.1,151 L478.7,151.8 L478.7,152.2 L481.2,157.3 L485.6,159.2Z" fill="#9e9e9e"/><path d="M598.5,168.1 L597.6,169.9 L598.5,176.7 L598.8,177.7 L600.1,178.4 L601.8,177.3 L602.4,170.5Z" fill="#b4b4b4"/><path d="M620.1,107.4 L611.7,107.2 L616.2,114 L619.7,116.4 L620.8,116.3 L622.2,115.4 L624.7,111Z" fill="#a6a6a6"/><path d="M634.5,105.8 L637.8,105.8 L642.4,104.5 L644.2,100.5 L643.9,99.6 L640.6,98.2 L635.7,101Z" fill="#a2a2a2"/><path d="M561.7,185.6 L560.6,186.4 L560.2,191.7 L566.9,191.6 L565.2,185.1Z" fill="#a6a6a6"/><path d="M589.3,119.6 L590.3,115 L590,114.6 L584.7,113.8 L584.3,113.9 L582.9,119.5 L588.9,120Z" fill="#a4a4a4"/><path d="M492,134 L491.2,131.8 L487.9,129.1 L485.5,134.1 L487.2,137.4Z" fill="#9f9f9f"/><path d="M661,213.9 L665.6,217.8 L675,213.9 L675.3,212.4 L670.7,206.5 L663.4,208.9 L663.1,209 L660.7,211.8Z" fill="#a1a1a1"/><path d="M548.7,189.9 L556,185.4 L555.5,184.8 L543.7,182.7Z" fill="#a5a5a5"/><path d="M490.7,148.5 L493.5,149.9 L498.9,147.2 L497.9,142.3 L489.4,139.5Z" fill="#9e9e9e"/><path d="M682.9,132.8 L681,136.8 L680.9,137.4 L683,139.7 L683.5,139.7 L683.5,132.4Z" fill="#9f9f9f"/><path d="M612.7,136.6 L614.1,137.1 L618.3,133.7 L616.6,131.8 L608.2,131.1 L607.7,132 L609.8,134.7Z" fill="#a6a6a6"/><path d="M528,144.4 L528.7,147.6 L534.3,152.2 L537.9,151.6 L541.2,147.5 L540,146.5 L529.2,143.4 L528.5,143.3Z" fill="#a3a3a3"/><path d="M573.1,110.4 L563.7,111.8 L563.6,111.9 L563.6,114.1 L567.3,118.5 L567.9,118.5 L573.9,115.2Z" fill="#a0a0a0"/><path d="M540,146.5 L537.7,141.4 L529.2,143.4Z" fill="#a2a2a2"/><path d="M608.4,221.9 L608.4,222 L609.3,222Z" fill="#a2a2a2"/><path d="M584,147.1 L581,147.8 L580.3,152.5 L588.9,155.5 L593.4,148.3 L591.5,147Z" fill="#aeaeae"/><path d="M650.2,176.6 L647.2,181.3 L655.9,190 L656.3,189.7 L654.5,179.1Z" fill="#a3a3a3"/><path d="M616.4,124.4 L613.7,120 L609.7,119.3 L607.2,121.3 L608.3,126.5 L615.2,128.6 L616.3,124.9Z" fill="#a9a9a9"/><path d="M496.9,166.5 L491.9,170.8 L492.9,172.4 L503.1,173.3 L500.3,166.8 L498.5,166.6Z" fill="#a2a2a2"/><path d="M487.9,170.1 L491.9,170.8 L496.9,166.5 L493.1,165.1 L486.3,165.3Z" fill="#a1a1a1"/><path d="M472.2,131.4 L472.2,129.9 L468.9,129.2 L465.4,131.1 L465.4,135.9 L469.8,137.2Z" fill="#9d9d9d"/><path d="M522.6,176.5 L523.9,174.7 L522.5,171.3 L514,170.8 L511,175.8 L513.9,176.9Z" fill="#a0a0a0"/><path d="M596.8,116.1 L592.6,118.2 L599.2,120.9 L597.7,116Z" fill="#a1a1a1"/><path d="M679.9,105.8 L677,109.2 L680.2,113.4 L683.5,114.4 L683.5,107.3Z" fill="#9d9d9d"/><path d="M650.5,142.6 L654.7,150.5 L656.9,151.7 L660.1,149.2 L654.7,142.9 L650.8,141.9Z" fill="#9e9e9e"/><path d="M651.1,98.8 L651.9,101.4 L656.2,105 L659,105.3 L663.7,104.8 L665.1,101.9 L664.1,100.6 L657.8,96.2 L657.3,96.3Z" fill="#9c9c9c"/><path d="M641.6,214.9 L634.7,206.8 L632.9,207.7 L636.8,215.3 L637.2,215.8Z" fill="#a1a1a1"/><path d="M655,202.4 L654.3,199.2 L652.2,196.6 L651.6,196.8 L646.6,202.5 L648.7,209.4 L650.9,209.4 L654.7,207.8Z" fill="#9f9f9f"/><path d="M674.6,127 L673.5,121.7 L671.1,120.9 L666.9,123 L667,124.9 L668.1,126Z" fill="#a7a7a7"/><path d="M566.9,212.9 L562.8,207.4 L561.9,207.7 L560,209.6Z" fill="#9e9e9e"/><path d="M679.7,122.3 L680.4,120 L672.7,114.5 L670.6,114.4 L671.1,120.9 L673.5,121.7Z" fill="#a3a3a3"/><path d="M474.2,169.6 L473.3,166 L470.4,164.7 L466.8,169.5 L467.7,170.9Z" fill="#a0a0a0"/><path d="M602.2,105.1 L601.9,106.5 L602.7,108.8 L606.9,111.2 L609.2,108.8Z" fill="#9c9c9c"/><path d="M624.7,111 L622.2,115.4 L632.7,121.9 L634.9,120.4 L625.2,110.9Z" fill="#a6a6a6"/><path d="M596.4,126.5 L606.4,128.1 L608.3,126.5 L607.2,121.3 L599.6,121.8 L596.3,125.8 L596.4,126.5Z" fill="#a1a1a1"/><path d="M554.7,132.6 L554.3,132.1 L543.7,133.7 L541.1,135.8 L549.1,141 L551.5,140.3Z" fill="#a2a2a2"/><path d="M607.5,217.3 L605.5,219.1 L608.4,221.9 L609.3,222 L611.3,222Z" fill="#a6a6a6"/><path d="M596.4,195.2 L600.1,191.2 L599.4,190.4 L595.2,189.5 L593.8,194Z" fill="#afafaf"/><path d="M670.7,194.3 L676.6,191.6 L669.4,188.2 L669,192.4Z" fill="#a4a4a4"/><path d="M507.5,153 L508.4,151.2 L508.2,151 L503.5,149.4 L498.1,156.6 L504.5,156.4Z" fill="#a1a1a1"/><path d="M577.1,143.4 L573.2,142.4 L569.2,143.4 L572.3,150 L578.2,153.3 L580.3,152.5 L581,147.8 L577.6,143.8Z" fill="#ababab"/><path d="M663.1,209 L663.4,208.9 L659.5,201.5 L654.3,199.2 L655,202.4Z" fill="#a1a1a1"/><path d="M645.8,181.8 L650.1,194.5 L652.3,196.5 L654.3,194.9 L655.6,192.2 L655.9,190 L647.2,181.3Z" fill="#a3a3a3"/><path d="M562.8,207.4 L565.8,203.9 L561.6,201.1 L561.1,200.7 L557.9,205.4 L561.9,207.7Z" fill="#a4a4a4"/><path d="M535.5,162 L529.9,166.3 L532.7,167.8 L537.1,168.1 L537.8,163.3Z" fill="#a5a5a5"/><path d="M669.8,133 L679.5,137.5 L680.9,137.4 L681,136.8 L672.8,131.1 L670.9,131.4Z" fill="#a2a2a2"/><path d="M470.4,183.9 L465.4,180.7 L465.4,182.6Z" fill="#a1a1a1"/><path d="M644.4,98.3 L643.9,99.6 L644.2,100.5 L651.9,101.4 L651.1,98.8 L650.7,98.2 L649.3,97.1 L645.3,97.5Z" fill="#a1a1a1"/><path d="M680.2,201.7 L681.2,202.7 L683.5,204.3 L683.5,198.2Z" fill="#a4a4a4"/><path d="M469.3,118.2 L470.4,117.1 L467.9,117.5Z" fill="#a1a1a1"/><path d="M466.2,142.1 L466.4,145 L471.3,149.3 L474.1,148.9 L474.2,147 L467.8,141.9Z" fill="#a2a2a2"/><path d="M482.6,126 L486.8,126.7 L489.2,124.1 L484.7,120.6Z" fill="#9e9e9e"/><path d="M664.1,100.6 L665.1,101.9 L669,100.6 L670,98.7 L670.3,95.1 L663.5,95.7Z" fill="#989898"/><path d="M488,219.3 L482.9,219 L483.2,222 L488,222Z" fill="#989898"/><path d="M507.5,153 L504.5,156.4 L504.9,157.9 L509.9,159.1Z" fill="#a4a4a4"/><path d="M617.2,200 L616.7,189.2 L612.2,190.9 L606.9,196.6 L607.1,198.1Z" fill="#a8a8a8"/><path d="M565.2,185.1 L566.9,191.6 L571.4,193.9 L571.4,189.6 L568,184.5 L565.7,184.8Z" fill="#a9a9a9"/><path d="M568.8,176.3 L564.2,175.9 L563.4,178 L570,182.9 L575.6,180.2Z" fill="#ababab"/><path d="M538.1,175.5 L538.1,168.7 L537.1,168.1 L532.7,167.8 L533.8,173.9Z" fill="#a4a4a4"/><path d="M587.6,105 L594.8,105.3 L594.6,102.5 L588.1,103.2Z" fill="#9b9b9b"/><path d="M579,107.6 L585.9,107.4 L586,107.2 L584.9,103.5 L580,104 L574.3,104.6 L573.8,105.3 L574.2,106.1Z" fill="#999999"/><path d="M482.9,219 L474.5,216.4 L473.2,217.9 L474.4,221 L475.3,222 L483.2,222Z" fill="#9c9c9c"/><path d="M510.5,114.6 L504.5,116.8 L510.7,121.3 L515.4,120.9 L516.4,116.8 L514.6,115.4Z" fill="#a4a4a4"/><path d="M616.2,164.1 L613.6,159.6 L612.6,159.3 L608.5,164.3Z" fill="#b0b0b0"/><path d="M655.7,215 L650.9,209.4 L648.7,209.4 L646.1,211.1 L646,215.2 L653.4,216.8Z" fill="#a3a3a3"/><path d="M474.6,140.4 L474.7,140.4 L483.1,139.8 L483.3,139.5 L480.5,137.6 L475.5,136.6 L471.6,138.7Z" fill="#a4a4a4"/><path d="M581.5,217.4 L580.1,216.8 L573.5,216.8 L573.2,219.7 L581,222 L584.1,222Z" fill="#a6a6a6"/><path d="M491.6,216.9 L491.8,217.1 L494.4,217.5 L499.7,215 L496.2,207.1 L488.8,207 L488.8,211.3Z" fill="#9a9a9a"/><path d="M466.4,145 L466.2,142.1 L465.4,141.7 L465.4,145.4Z" fill="#9e9e9e"/><path d="M642.6,120 L640.2,114.3 L635.2,111.8 L635.5,120.2 L636.1,120.3 L636.6,120.3Z" fill="#a7a7a7"/><path d="M465.9,196.8 L466,196.8 L467.5,188.6 L467,188.5 L465.4,190.2 L465.4,196.7Z" fill="#9d9d9d"/><path d="M510.6,196.2 L514,195.4 L514.4,190.2 L512.5,188.1 L511.2,188.1 L507.4,191.9Z" fill="#9d9d9d"/><path d="M657,135 L656.4,137 L665.3,142.7 L663.7,133.7 L662.3,133Z" fill="#a4a4a4"/><path d="M543.1,121.9 L536.5,113.9 L534.1,114.9 L539.4,122.7Z" fill="#a1a1a1"/><path d="M470.4,140.1 L471.2,138.6 L469.8,137.2 L465.4,135.9 L465.4,141.7 L466.2,142.1 L467.8,141.9Z" fill="#a0a0a0"/><path d="M637.1,155.3 L633.9,155.9 L633.2,160.5 L638.3,162.7 L639.3,161.7Z" fill="#a8a8a8"/><path d="M479.8,116.4 L476.4,123.5 L478,126.4 L482.6,126 L484.7,120.6 L483.9,115.1 L480.8,115.6Z" fill="#a3a3a3"/><path d="M558.4,212.4 L558.6,210.1 L554.5,207 L551.4,206.2 L551.3,212.5Z" fill="#a4a4a4"/><path d="M584,147.1 L591.5,147 L591,146.3 L586.1,141.3 L584.3,142.7Z" fill="#aaaaaa"/><path d="M561.2,106 L563.7,111.8 L573.1,110.4 L574.2,106.1 L573.8,105.3 L572.3,104.8 L561.2,105.9Z" fill="#a1a1a1"/><path d="M534.2,134.6 L533.3,133.5 L529.3,132 L521.3,133.6 L522.2,134.9 L528.1,138.3Z" fill="#a3a3a3"/><path d="M661,171.7 L654.8,170.7 L649.7,174.1 L650.2,176.6 L654.5,179.1 L658.9,180.8 L659.2,180.8 L663,175.6 L662.1,172.7Z" fill="#9f9f9f"/><path d="M465.9,196.8 L465.4,196.7 L465.4,199.1Z M611.3,150.2 L613.9,151.2 L620.7,149.5 L621.7,148.5 L619.2,144.4 L618.3,143.9 L616,143.1Z M565.5,157.6 L566.7,156.6 L566.8,156.6 L565.5,153.3 L562.1,152.6 L557.1,152.9 L557,154.5 L560,159.2Z M536.1,195.8 L542,192.9 L535.6,184.3 L528.5,188.6 L528.5,189.6 L531.6,192.9 L535.7,195.9Z M522.5,192.6 L521.3,197.5 L523.6,200.1 L524.8,200.5 L531.6,192.9 L528.5,189.6Z M571.4,189.6 L580.6,188.2 L581,186.6 L580.2,180.7 L578,180 L575.6,180.2 L570,182.9 L568,184.5Z M594.5,201.8 L593.7,203.6 L594.2,204.7 L606.4,206.9 L604.6,200.8 L599.7,199.8 L598.2,200.1Z M471.2,218.1 L473.2,217.9 L474.5,216.4 L474.6,215.5 L471.3,209.4 L465.4,207.3 L465.4,217.6Z M680.7,156.9 L677.7,153.4 L674.4,159.1 L675.3,159.2Z M587,165.4 L587.2,165.4 L588.4,164.8 L592.6,161.8 L588.9,155.5 L580.3,152.5 L578.2,153.3 L576.6,156.8 L579.5,163.5 L579.7,163.7 L580.9,164.3Z M571.2,196.1 L571.5,197.4 L581.1,201.4 L581.7,201.2 L571.8,194.8 L571.2,195.9Z M502.9,136.9 L500.1,136.8 L499,141.3 L500.8,141.5 L506.4,140.1Z M481.2,212.6 L491.6,216.9 L488.8,211.3 L482.1,211.3 L481.7,211.8Z M649.2,122.1 L652.4,126.8 L656.6,126.3 L658,118.5 L655.1,117.2Z M474.7,145.9 L478.3,144 L474.7,140.4 L474.6,140.4 L474.6,145.6Z M489.4,139.5 L497.9,142.3 L499,141.3 L500.1,136.8 L498.4,134.1 L497.9,134 L492,134 L487.2,137.4 L487.1,138.1Z M554,141.4 L564.3,138.8 L563.1,135.1 L554.7,132.6 L551.5,140.3Z M606.9,111.2 L602.7,108.8 L600.5,109 L599.1,110.1 L600.9,114.6 L606.3,114.4 L606.9,111.8Z M530.6,218.6 L529.7,219.1 L529,222 L536.6,222Z M571.5,197.7 L577.3,204.3 L581.1,201.4 L571.5,197.4Z M540.2,177.3 L545.5,170.8 L545.2,168.9 L538.1,168.7 L538.1,175.5Z M643.8,126.9 L650.1,129.1 L652.4,126.8 L649.2,122.1 L643.7,120.5Z M670,98.7 L678.4,94.6 L678.2,94.5 L670.3,95.1Z M609.5,156.5 L609,150.6 L602.2,154.4 L604.7,156.4 L609.5,156.5Z M466.2,175.4 L465.4,174.5 L465.4,175.7Z M561.1,200.7 L560,199.7 L549,203.6 L548.9,203.9 L551.4,206.2 L554.5,207 L557.9,205.4Z M635.4,151 L637.8,154.8 L640,154.6 L641.8,150.4 L642.7,146.8 L640.5,145.9 L638.6,146.2Z M537.1,124.3 L540,128.1 L545,128.9 L545.8,128.7 L545.2,124.5 L544.6,123.2 L543.4,121.9 L543.1,121.9 L539.4,122.7Z M637.5,204.6 L646.6,202.5 L651.6,196.8 L638.1,195.8Z M529.2,143.4 L537.7,141.4 L537.4,140.2 L528.3,142.5 L528.5,143.3Z M648.2,153.7 L645.3,156.5 L648.1,161.2 L652.7,162.7 L657.4,159.8 L657.9,158.9Z M493.1,165.1 L496.9,166.5 L498.5,166.6 L492.1,158 L491.2,158.2 L492.7,164.1Z M642.8,188.4 L650.1,194.5 L645.8,181.8 L643.6,182.4Z M484.7,114.9 L484.7,114.9 L499.9,113.6 L499.5,112.1 L485.8,114.4Z M680.7,156.9 L675.3,159.2 L680.3,162 L683.1,162.9 L683.5,162.8 L683.5,158.2Z M658,118.5 L659.4,118.5 L666.6,111.4 L664.7,106.4 L663.7,104.8 L659,105.3 L654.4,116.5 L655.1,117.2Z M678.4,94.6 L679.3,94.8 L683.2,94.2 L683.2,94.1 L678.2,94.5Z M672.7,114.5 L680.4,120 L683.5,117.4 L683.5,114.4 L680.2,113.4 L674,114.1Z M513.9,176.9 L511,175.8 L504.5,175.6 L504.1,177.3 L515,184.4Z M670.8,198.2 L672.3,200.3 L680,193.9 L676.6,191.6 L676.6,191.6 L670.7,194.3Z M678.1,176 L675.7,174.5 L672.2,174.6 L666.7,179.3 L667.9,182.2 L669.7,183.9 L676.3,183.6 L677.3,182.8 L678.4,181.5 L679.2,179.8Z M537.4,140.2 L537.2,135.5 L534.2,134.6 L528.1,138.3 L527.8,141.3 L528.3,142.5Z M579.7,163.7 L579.5,163.5 L570.1,160.6 L569.9,163.9 L575.3,165.1Z M677,109.2 L679.9,105.8 L676.9,102.3 L669,100.6 L665.1,101.9 L663.7,104.8 L664.7,106.4 L676.2,109.2Z M509.6,135.7 L502.9,136.9 L506.4,140.1 L507,140.3Z M499.9,113.6 L501.1,115.7 L501.7,116.3 L502.1,116.5 L504.5,116.8 L510.5,114.6 L509.6,111 L500,112 L499.5,112.1Z M670.5,157.7 L669.2,153.5 L658.8,154.9 L658.3,158.4 L667.5,160.2 L668.8,159.4Z M545.8,128.7 L552.6,130.9 L550.7,127 L545.2,124.5Z M650.7,107 L656.2,105 L651.9,101.4 L644.2,100.5 L642.4,104.5 L648.2,106.7Z M663,175.6 L666.7,179.3 L672.2,174.6 L662.1,172.7Z M670.9,131.4 L672.8,131.1 L675.6,129.7 L675.6,127.7 L674.6,127 L668.1,126Z M665.5,219.8 L665.6,217.8 L661,213.9 L655.7,215 L653.4,216.8 L655.5,221.3 L657,222 L664.7,222Z M536.5,183.3 L535.6,184.3 L542,192.9 L549.2,192.2 L548.7,189.9 L543.7,182.7 L542.9,181.6 L541.9,181.3Z M470.4,183.9 L473.2,185.4 L476.8,182.7 L477.7,181.6 L474.6,177.7 L469.3,175.5 L466.2,175.4 L465.4,175.7 L465.4,180.7Z M677.3,182.8 L676.3,183.6 L677.3,186.6 L683.5,190.6 L683.5,187.5Z M615.2,128.6 L616.6,131.8 L618.3,133.7 L620.4,134 L625.3,131.4 L623.2,128.7 L616.3,124.9Z M665.5,219.8 L664.7,222 L674.4,222Z M649.7,174.1 L642.1,170.8 L639,170.3 L633.7,175.4 L634.1,176.5 L641,181.6 L643.6,182.4 L645.8,181.8 L647.2,181.3 L650.2,176.6Z M519.5,115 L524.6,113.3 L519.1,111.8Z M530.9,123.4 L533.6,123.5 L533.6,115 L528.6,114.3 L526.7,118.8 L528.2,121.7Z M643.4,127 L643.8,126.9 L643.7,120.5 L643.5,120.3 L642.6,120 L636.6,120.3Z M537.7,141.4 L540,146.5 L541.2,147.5 L541.6,147.5 L547.3,145 L549.1,141 L541.1,135.8 L538.2,135.3 L537.2,135.5 L537.4,140.2Z M478.9,206.3 L472.1,208.3 L471.3,209.4 L474.6,215.5 L475.6,215 L478.8,208.7Z M586.6,203.9 L587.2,209.7 L587.7,210.1 L594.2,204.8 L594.2,204.7 L593.7,203.6Z M675.5,174 L674.8,167.2 L674.2,167 L667.2,167.9Z M641.8,150.4 L648.2,153.7 L648.9,152 L643.4,146.8 L642.7,146.8Z M467.7,121.7 L470.1,120.4 L469.3,118.2 L467.9,117.5 L465.4,117.9 L465.4,121.6Z M613.6,140.5 L614.1,137.1 L612.7,136.6 L607,136.6 L607,136.7 L606.7,140Z M572.9,128.6 L573.1,128.1 L569.8,126 L566.9,130.2 L567.6,131.7 L571.1,129.9Z M674.4,159.1 L674.3,159.1 L675,163.1 L680.3,162 L675.3,159.2Z M514.4,190.2 L514,195.4 L517.2,197.3 L521.3,197.5 L522.5,192.6Z M677.7,153.4 L676.6,151.4 L674.6,150.3 L670.5,150.5 L669.2,153.5 L670.5,157.7 L674.3,159.1 L674.4,159.1Z M492.7,164.1 L491.2,158.2 L488.4,158.1 L486.5,158.9Z M655.5,221.3 L653.3,222 L657,222Z M535.6,199 L535.7,195.9 L531.6,192.9 L524.8,200.5 L529.2,202.8 L533,200.9Z M482.3,171.1 L481.6,170.6 L475.4,172.5 L474.6,177.7 L477.7,181.6 L484.6,181.4Z M543.7,182.7 L555.5,184.8 L552,178.4 L542.9,181.6Z M604.7,190.7 L606.9,188.7 L602.8,183.8 L602.2,184.8Z M499.7,130.8 L502.6,128.4 L497.6,123 L496.4,123 L493.4,128.3Z M529.8,126.5 L524.4,128.2 L529.3,132 L533.3,133.5 L533.2,132.6Z M667,124.9 L660.7,128.6 L662.3,133 L663.7,133.7 L668.6,133.8 L669.8,133 L670.9,131.4 L668.1,126Z M466,196.8 L465.9,196.8 L465.4,199.1 L465.4,202.7 L470.8,201.6 L470.5,198.8 L468.9,197.8Z M530.9,123.4 L529.8,126.5 L533.2,132.6 L536.3,124.3 L533.6,123.5Z M597.8,115.6 L593.6,110.2 L592.9,109.7 L590.7,109.9 L590,114.6 L590.3,115 L596.8,116.1 L597.7,116Z M609.7,211.7 L609.9,212.8 L617.9,221.9 L622.7,216.8Z M660.7,211.8 L663.1,209 L655,202.4 L654.7,207.8Z M594.8,105.3 L594.8,105.4 L595.1,105.5 L601.9,106.5 L602.2,105.1 L602.6,101.9 L602.1,101.8 L594.6,102.5Z M674,114.1 L680.2,113.4 L677,109.2 L676.2,109.2Z M683.5,145.6 L683.5,140.9 L683.2,140.4 L677.5,145.5 L682.2,146.8Z M612.6,159.3 L613.6,159.6 L617.6,157.1 L617.5,155.8 L613.9,151.2 L611.3,150.2 L609.2,150.2 L609,150.6 L609.5,156.5 L611.3,158.6Z M620.8,116.3 L619.7,116.4 L613.7,120 L616.4,124.4 L621.1,124.6 L621.4,124.5 L622.8,120.4Z M594.2,204.8 L597.1,210.4 L607.4,209.1 L606.4,206.9 L594.2,204.7Z M540.2,177.3 L538.1,175.5 L533.8,173.9 L525.3,175 L536.5,183.3 L541.9,181.3Z M558.3,147.2 L562.1,152.6 L565.5,153.3 L565.6,153 L564.9,150.4 L559.1,145.9Z M541,163.2 L537.8,163.3 L537.1,168.1 L538.1,168.7 L545.2,168.9 L547.3,165.9Z M474.4,221 L473.2,217.9 L471.2,218.1 L468.8,222 L473.7,222Z M650.7,98.2 L652.2,96.8 L649.3,97.1Z M616.3,100.4 L608.5,102.4 L610.9,107 L611.7,107.2 L620.1,107.4 L619.6,104 L617.7,101.3Z M683.2,94.2 L683.5,94.4 L683.5,94 L683.2,94.1Z M636.8,205.3 L646.1,211.1 L648.7,209.4 L646.6,202.5 L637.5,204.6Z M594.5,183.9 L595.4,186.3 L600.9,186.6 L602.2,184.8 L602.8,183.8 L602.8,182.6 L600.4,179.5Z M621.4,124.5 L629.7,125.9 L622.8,120.4Z M603.5,193.1 L604.7,190.7 L602.2,184.8 L600.9,186.6 L599.4,190.4 L600.1,191.2Z M506.9,199.9 L501.4,192.7 L501.2,192.6 L495.7,192.8 L494.9,196.7 L499.4,203.1 L500.6,203.1Z M628.1,100.6 L634.1,105.9 L634.5,105.8 L635.7,101 L635.7,98.4 L627.3,99.3Z M548,200.5 L549.6,192.5 L549.2,192.2 L542,192.9 L536.1,195.8Z M505,158.7 L499.7,161.6 L500.7,166.4 L505.6,165.1 L507,161.1Z M607,136.7 L607,136.6 L605.9,134.7 L604.3,133.4 L602.8,133.2 L599.4,133.1 L599.7,134.9 L602.2,136.9Z M487.1,200.7 L491.5,197.3 L486.2,194.4 L482.9,195.8 L486.2,200.9Z M669.4,188.2 L669.1,184.6 L661.6,186.9 L668.2,192.2 L669,192.4Z M675.3,212.4 L675,213.9 L679.7,219.6 L683.5,219.1 L683.5,211.1 L678.3,211.7Z M571.5,197.7 L567.6,204.1 L576.6,205.9 L577.3,204.3Z M528.5,188.6 L522.9,183.9 L515.1,184.5 L512.5,188.1 L514.4,190.2 L522.5,192.6 L528.5,189.6Z M600.1,178.4 L600.4,179.5 L602.8,182.6 L609.6,184.2 L613.3,177.3 L603.7,177 L601.8,177.3Z M667.9,182.2 L666.7,179.3 L663,175.6 L659.2,180.8Z M484.5,204.4 L488.8,207 L496.2,207.1 L498.7,203.6 L487.1,200.7 L486.2,200.9Z M622.6,166.8 L627.6,173.6 L633.7,175.4 L639,170.3 L637.3,168.1 L626.2,163.4 L626.1,163.4Z M500.8,141.5 L499,141.3 L497.9,142.3 L498.9,147.2 L503.5,149.4 L508.2,151 L509.4,143.9 L509,143.6Z M492.5,175.3 L489.1,179.9 L501.1,181.5 L504.1,177.3 L504.5,175.6 L503.3,173.7Z M543.2,209.3 L536.6,211.9 L547.4,220.3 L549.4,213.8Z M676.6,191.6 L680,193.9 L683.5,195.1 L683.5,190.6 L677.3,186.6Z M557.1,171.8 L552.4,176.7 L552.3,178.1 L557.5,179.7 L560.4,178.7 L559.1,173.1Z M572.6,168.6 L575.3,165.1 L569.9,163.9 L568.5,164.2 L566.9,166 L571.3,168.4Z M488.8,211.3 L488.8,207 L484.5,204.4 L482.8,204.6 L482.1,211.3Z M577.3,125.1 L573.1,128.1 L572.9,128.6 L575.9,130.4 L578.5,131.4 L580.5,130.2 L581.6,127.2 L580.2,125.1Z M566.8,171.1 L568.8,176.3 L575.6,180.2 L578,180 L574.9,173.1 L574.8,173.1 L572,172.3Z M529.3,132 L524.4,128.2 L520,127.1 L517.2,130.3 L521.3,133.6Z M510.8,151.8 L519.6,160.3 L522.1,155 L517.8,149Z M466.8,158.1 L467,158.4 L471.5,157.9 L478.7,152.2 L478.7,151.8 L474.1,148.9 L471.3,149.3 L468.4,150.9Z M660.1,187 L661.6,186.9 L669.1,184.6 L669.7,183.9 L667.9,182.2 L659.2,180.8 L658.9,180.8Z M565.6,153 L572.3,150 L569.2,143.4 L568.2,143.2 L564.9,150.4Z M580.8,191.6 L586.6,196.4 L590.1,194 L589.5,190.6 L581,186.6 L580.6,188.2Z M626.2,163.4 L633.2,160.5 L633.9,155.9 L628.7,155 L627.2,155.9 L625.5,161.9 L626.1,163.4Z M573.7,136.8 L576.8,136.9 L578.8,135.4 L578,131.9 L571.9,134.1Z M554.3,150.2 L557.1,152.9 L562.1,152.6 L558.3,147.2Z M571.8,194.8 L581.7,201.2 L582.4,200.9 L576.4,194.1 L571.9,194.7Z M608.2,149.3 L609.2,150.2 L611.3,150.2 L616,143.1 L613.7,140.8 L612.8,141.4Z M529.5,166.3 L529.9,166.3 L535.5,162 L535.3,161.6 L531.3,159.7Z M634.1,176.5 L633.7,175.4 L627.6,173.6 L619.6,179.2 L621.7,183.4 L631.8,180.3Z M594.5,201.8 L587.9,197.5 L586.6,196.9 L583.7,200.9 L586.6,203.9 L593.7,203.6Z M632.4,139.2 L627.1,143.8 L629.3,147.1 L633.7,145 L632.5,139.2Z M589.5,190.6 L592.2,188.7 L589,184.2 L580.8,180.6 L580.2,180.7 L581,186.6Z M609.2,108.8 L606.9,111.2 L606.9,111.8 L616.2,114 L611.7,107.2 L610.9,107Z M566.6,170.9 L566.7,171.1 L566.8,171.1 L572,172.3 L569.5,169.7Z M633.7,145 L638.6,146.2 L640.5,145.9 L636.8,136.5 L636.2,136.4 L632.5,139.2Z M578,180 L580.2,180.7 L580.8,180.6 L581,180.5 L581.8,174.5 L579.5,168.4 L574.9,173.1Z M594.6,148.3 L595,148.5 L605.3,147.1 L605.2,145.8 L603.8,142.9 L597.4,140.6Z M534.1,114.9 L533.6,115 L533.6,123.5 L536.3,124.3 L537.1,124.3 L539.4,122.7Z M569.5,169.7 L572,172.3 L574.8,173.1 L572.6,168.6 L571.3,168.4Z M558,125.2 L561.5,125 L563.1,123.2 L564,120.1 L563.7,119.9 L556.1,117.6 L554.8,122.4Z M582.4,200.9 L583.7,200.9 L586.6,196.9 L586.6,196.4 L580.8,191.6 L576.4,194.1Z M607.5,217.3 L609.9,212.8 L609.7,211.7 L609.6,211.5 L597.6,217.2 L599.2,221.8 L605.5,219.1Z M560.2,191.7 L558.1,194.8 L558.7,195.5 L571.2,195.9 L571.8,194.8 L571.9,194.7 L571.4,193.9 L566.9,191.6Z M553.9,108.7 L556.7,109.7 L558.5,110.3 L561.2,106 L561.2,105.9 L554.5,106.6Z M595.2,189.5 L595,189.3 L592.2,188.7 L589.5,190.6 L590.1,194 L592,194.2 L593.8,194Z M533.8,214.5 L532.7,215 L530.6,218.6 L536.6,222 L538.2,222Z M574.9,173.1 L579.5,168.4 L580.9,164.3 L579.7,163.7 L575.3,165.1 L572.6,168.6 L574.8,173.1Z M554.8,115.1 L556.9,114.5 L556.7,109.7 L553.9,108.7 L553.4,109.1 L553.8,114.6 L553.9,114.7Z M567.9,118.5 L572,123.7 L577.3,125.1 L580.2,125.1 L581.2,120.1 L573.9,115.2Z M648.1,114.6 L645.9,113.2 L640.2,114.3 L642.6,120 L643.5,120.3Z M598.8,177.7 L591.3,175.9 L581,180.5 L580.8,180.6 L589,184.2 L594.5,183.9 L600.4,179.5 L600.1,178.4Z M616,143.1 L618.3,143.9 L622.8,137.2 L620.4,134 L618.3,133.7 L614.1,137.1 L613.6,140.5 L613.7,140.8Z M617.2,188.8 L622,187.6 L621.7,183.4 L619.6,179.2 L615.9,176.8 L615.3,176.9 L613.3,177.3 L609.6,184.2Z M471.2,218.1 L465.4,217.6 L465.4,220.6 L465.8,222 L468.8,222Z M655.9,190 L655.6,192.2 L668.2,192.2 L661.6,186.9 L660.1,187 L656.3,189.7Z M511.2,188.1 L512.5,188.1 L515.1,184.5 L515,184.4 L504.1,177.3 L501.1,181.5 L501.2,181.8 L504.8,185Z M606.3,114.4 L609.7,119.3 L613.7,120 L619.7,116.4 L616.2,114 L606.9,111.8Z M674.9,163.5 L675,163.1 L674.3,159.1 L670.5,157.7 L668.8,159.4 L672.8,163.1Z M617.9,221.9 L609.9,212.8 L607.5,217.3 L611.3,222 L617.9,222Z M646,215.2 L646.1,211.1 L636.8,205.3 L636.4,205.4 L634.7,206.8 L641.6,214.9 L645.8,215.4Z M651.6,196.8 L652.2,196.6 L652.3,196.5 L650.1,194.5 L642.8,188.4 L633.8,189.4 L631.4,191.3 L638.1,195.8Z M468.4,150.9 L471.3,149.3 L466.4,145 L465.4,145.4 L465.4,149.7Z M606.4,165.1 L607.3,167.5 L615.7,170.2 L619.9,166.9 L616.2,164.1 L608.5,164.3Z M669.6,164.2 L672.8,163.1 L668.8,159.4 L667.5,160.2 L668,163.7Z M633.2,160.5 L626.2,163.4 L637.3,168.1 L638.3,162.7Z M680,193.9 L672.3,200.3 L672.7,201 L680.2,201.7 L683.5,198.2 L683.5,195.1Z M473.2,185.4 L470.4,183.9 L465.4,182.6 L465.4,188.2 L467,188.5 L467.5,188.6 L471.5,187.8Z M487.2,127.1 L487.9,129.1 L491.2,131.8 L492.7,129.9 L493,128.4Z M559.6,114.7 L563.6,114.1 L563.6,111.9 L559.2,111.2 L557.4,114.3Z M645.6,220 L645.8,215.4 L641.6,214.9 L637.2,215.8 L635.1,219.3 L636.7,220.9 L638.5,222 L641.8,222Z M572.3,214.9 L578,208.5 L576.6,205.9 L567.6,204.1 L567.2,204.2 L570.3,213.8Z M572.9,128.6 L571.1,129.9 L575.9,130.4Z M675,213.9 L665.6,217.8 L665.5,219.8 L674.4,222 L679.5,222 L679.7,219.6Z M628.6,221.1 L629.5,218.5 L626.4,215.5 L622.7,216.8 L617.9,221.9 L617.9,222 L618.4,222Z M588.2,129 L590.1,135.2 L599.3,133.1 L596.4,126.5 L596.4,126.5Z M530.6,155.1 L525.5,153.3 L522.1,155 L519.6,160.3 L520.1,161.6 L529.6,158.2Z M683.5,101.6 L683.5,97.6 L677.5,101.7 L677.3,102.1Z M540.3,109.8 L545.5,109 L546.3,108.1 L546.3,107.4 L540,108 L539.9,108Z M482.5,204.5 L478.9,202.3 L472.4,203.3 L472.1,208.3 L478.9,206.3Z M536.6,158.9 L535.3,161.6 L535.5,162 L537.8,163.3 L541,163.2 L540.2,158.9Z M611.3,158.6 L609.5,156.5 L609.5,156.5 L606.6,158 L608,160Z M676.6,191.6 L676.6,191.6 L677.3,186.6 L676.3,183.6 L669.7,183.9 L669.1,184.6 L669.4,188.2Z M514.9,207.1 L508.6,200.3 L508.1,200 L507.8,199.9 L507.6,199.9 L510.5,208.7Z M679.2,179.8 L678.4,181.5 L683.5,184.6 L683.5,180.4Z M471.2,138.6 L471.6,138.7 L475.5,136.6 L472.2,131.4 L469.8,137.2Z M621.4,124.5 L621.1,124.6 L623.2,128.7 L625.3,131.4 L628.1,130.8 L629.8,125.9 L629.7,125.9Z M629.7,125.9 L629.8,125.9 L631.8,124.8 L632.7,121.9 L622.2,115.4 L620.8,116.3 L622.8,120.4Z M506.4,140.1 L500.8,141.5 L509,143.6 L507,140.3Z M637.8,136.2 L650.7,141.8 L650.8,141.7 L647.9,133.2 L639.8,133.3Z M616.3,100.4 L617.7,101.3 L620.6,99.9 L620,100 L616.3,100.4Z M682.2,146.8 L677.5,145.5 L677.2,145.6 L674.6,150.3 L676.6,151.4 L683.5,151.2 L683.5,148.6Z M499.9,113.6 L484.7,114.9 L489.2,118 L501.1,115.7Z M683.2,140.4 L683,139.7 L680.9,137.4 L679.5,137.5 L672.7,140.5 L677.2,145.6 L677.5,145.5Z M587.6,105 L586,107.2 L585.9,107.4 L589.7,109.6 L590.7,109.9 L592.9,109.7 L594.8,105.4 L594.8,105.3Z M517.9,142 L521,140.2 L520.6,137.8 L516.9,137.7Z M636.1,120.3 L641.7,127.6 L643.4,127 L636.6,120.3Z M572.3,150 L565.6,153 L565.5,153.3 L566.8,156.6 L576.6,156.8 L578.2,153.3Z M543.7,133.7 L545,128.9 L540,128.1 L538.2,135.3 L541.1,135.8Z M553.8,114.6 L553.4,109.1 L546.3,108.1 L545.5,109 L547.8,111.7 L553.4,114.5Z M561.9,207.7 L557.9,205.4 L554.5,207 L558.6,210.1 L560,209.6Z M581.8,174.5 L581,180.5 L591.3,175.9 L587.2,165.4 L587,165.4Z M495.4,156.3 L493.4,151.1 L488.6,152.9 L488.2,157.4 L488.4,158.1 L491.2,158.2 L492.1,158Z M589.3,119.6 L592.6,118.2 L596.8,116.1 L590.3,115Z M547.8,111.7 L545.5,109 L540.3,109.8 L538.9,110.9 L538.7,112.1 L544.8,116.4 L546,115.5Z M640.6,98.2 L643.9,99.6 L644.4,98.3 L643.7,97.6 L640.3,98Z M604.6,200.8 L607.1,198.1 L606.9,196.6 L603.5,193.1 L600.1,191.2 L596.4,195.2 L599.7,199.8Z M522.6,176.5 L513.9,176.9 L515,184.4 L515.1,184.5 L522.9,183.9Z M660.1,149.2 L665.5,146.1 L665.1,144.8 L654.7,142.9Z M674.6,127 L675.6,127.7 L681.4,124.8 L679.7,122.3 L673.5,121.7Z M554,141.4 L559.1,145.6 L567.5,142.9 L564.3,138.8Z M528.1,138.3 L522.2,134.9 L520.6,137.8 L521,140.2 L527.8,141.3Z M567.7,213.5 L570.3,213.8 L567.2,204.2 L565.8,203.9 L562.8,207.4 L566.9,212.9Z M543.4,121.9 L546,119.1 L544.8,116.4 L538.7,112.1 L536.5,113.9 L543.1,121.9Z M519.1,111.8 L524.6,113.3 L527.3,112.9 L526,109.4 L517.9,110.2Z M566.7,171.1 L562.5,174.4 L564.2,175.9 L568.8,176.3 L566.8,171.1Z M605.2,145.8 L605.3,147.1 L608.2,149.3 L612.8,141.4Z M479.9,165.4 L481.6,170.6 L482.3,171.1 L487.3,170.8 L487.9,170.1 L486.3,165.3 L485.6,164.9Z M553.4,114.5 L547.8,111.7 L546,115.5Z M646.3,161.9 L648.1,161.2 L645.3,156.5 L640,154.6 L637.8,154.8 L637.1,155.3 L639.3,161.7Z M592,194.2 L593.8,197.6 L598.2,200.1 L599.7,199.8 L596.4,195.2 L593.8,194Z M549.7,165 L556.1,165.8 L556.7,165.5 L557.3,162.7 L551.8,156 L551.4,155.8 L546.8,158 L548.2,162.3Z M568,184.5 L570,182.9 L563.4,178 L561.5,178.9 L565.7,184.8Z M470.5,198.8 L476.2,197.5 L477.1,195 L473.4,190.7 L468.9,197.8Z M599.7,134.9 L599.4,133.1 L599.3,133.1 L590.1,135.2 L589.4,136.8 L592.4,138.8 L596.8,139.8Z M581.2,120.1 L582.9,119.5 L584.3,113.9 L579,107.6 L574.2,106.1 L573.1,110.4 L573.9,115.2Z M538.9,110.9 L540.3,109.8 L539.9,108 L535.2,108.5Z M515.4,120.9 L519.9,125.9 L520.4,125.5 L522.1,118.4 L518,116.7 L516.4,116.8Z M557.5,165.7 L566.7,161.9 L565.5,157.6 L560,159.2 L557.3,162.7 L556.7,165.5Z M635.5,120.2 L634.9,120.4 L632.7,121.9 L631.8,124.8 L639.6,129 L641.7,127.6 L636.1,120.3Z M468.9,129.2 L467.4,127.5 L465.4,126.5 L465.4,131.1Z M674.2,167 L669.6,164.2 L668,163.7 L666.2,165.7 L666.3,167.6 L667.2,167.9Z M576.6,156.8 L566.8,156.6 L566.7,156.6 L570.1,160.6 L579.5,163.5Z M632.9,207.7 L625.4,209 L626,211.7 L636.8,215.3Z M498.7,203.6 L499.4,203.1 L494.9,196.7 L491.5,197.3 L487.1,200.7Z M599.2,120.9 L599.6,121.8 L607.2,121.3 L609.7,119.3 L606.3,114.4 L600.9,114.6 L597.8,115.6 L597.7,116Z M594.1,212.6 L597.1,210.4 L594.2,204.8 L587.7,210.1 L590.1,212.1Z M558.7,195.5 L558.1,194.8 L549.6,192.5 L548,200.5 L549,203.6 L560,199.7Z M490.8,189.1 L487.5,191.6 L486.2,194.4 L491.5,197.3 L494.9,196.7 L495.7,192.8 L493.2,190.4Z M469.3,175.5 L467.7,170.9 L466.8,169.5 L465.4,169.3 L465.4,174.5 L466.2,175.4Z M544.8,116.4 L546,119.1 L548.1,119.3 L553.9,114.7 L553.8,114.6 L553.4,114.5 L546,115.5Z M564.3,138.8 L567.5,142.9 L568.2,143.2 L569.2,143.4 L573.2,142.4 L573.7,136.8 L571.9,134.1 L567.6,132 L563.1,135.1Z M566.9,130.2 L569.8,126 L570,125.1 L563.1,123.2 L561.5,125Z M498.5,166.6 L500.3,166.8 L500.7,166.4 L499.7,161.6 L496.8,156.9 L495.4,156.3 L492.1,158Z M581.1,201.4 L577.3,204.3 L576.6,205.9 L578,208.5 L581.8,209.7 L587.2,209.7 L586.6,203.9 L583.7,200.9 L582.4,200.9 L581.7,201.2Z M584.7,113.8 L589.7,109.6 L585.9,107.4 L579,107.6 L584.3,113.9Z M674.2,167 L674.8,167.2 L676,166.2 L674.9,163.5 L672.8,163.1 L669.6,164.2Z M584.1,222 L590.2,222 L587.9,217.4 L581.5,217.4Z M606.6,158 L605,158.4 L603.1,162.5 L603.2,162.6 L608,160Z M629.8,125.9 L628.1,130.8 L636.2,136.4 L636.8,136.5 L637.8,136.2 L639.8,133.3 L639.6,129 L631.8,124.8Z M520.1,161.6 L520,162.2 L523.1,166.1 L529.5,166.3 L531.3,159.7 L529.6,158.2Z M668.2,192.2 L655.6,192.2 L654.3,194.9 L670.8,198.2 L670.7,194.3 L669,192.4Z M536.5,183.3 L525.3,175 L523.9,174.7 L522.6,176.5 L522.9,183.9 L528.5,188.6 L535.6,184.3Z M470.4,140.1 L474.6,145.6 L474.6,140.4 L471.6,138.7 L471.2,138.6Z M619.6,104 L620.1,107.4 L624.7,111 L625.2,110.9 L632.7,108.3 L634.1,105.9 L628.1,100.6Z M581.6,127.2 L580.5,130.2 L585.8,137.6 L589.4,136.8 L590.1,135.2 L588.2,129Z M634.6,185.8 L641,181.6 L634.1,176.5 L631.8,180.3Z M474.6,177.7 L475.4,172.5 L474.2,169.6 L467.7,170.9 L469.3,175.5Z M681.4,124.8 L675.6,127.7 L675.6,129.7 L682.9,132.8 L683.5,132.4 L683.5,126.3Z M677.3,102.1 L676.9,102.3 L679.9,105.8 L683.5,107.3 L683.5,101.6Z M579.5,168.4 L581.8,174.5 L587,165.4 L580.9,164.3Z M518.8,218.9 L514.3,217.9 L509.1,221.3 L509.3,222 L521.7,222Z M681.2,202.7 L680.2,201.7 L672.7,201 L670.6,205 L670.7,206.5 L675.3,212.4 L678.3,211.7Z M510.6,160.5 L517.8,162.5 L520,162.2 L520.1,161.6 L519.6,160.3 L510.8,151.8 L508.4,151.2 L507.5,153 L509.9,159.1Z M641.7,127.6 L639.6,129 L639.8,133.3 L647.9,133.2 L650.4,130.4 L650.1,129.1 L643.8,126.9 L643.4,127Z M556.1,117.6 L563.7,119.9 L559.6,114.7 L557.4,114.3 L556.9,114.5 L554.8,115.1Z M580.7,139.4 L577.1,143.4 L577.6,143.8 L584.3,142.7 L586.1,141.3 L585.3,138.2 L584.4,138.2Z M612.2,190.9 L606.9,188.7 L604.7,190.7 L603.5,193.1 L606.9,196.6Z M681.2,202.7 L678.3,211.7 L683.5,211.1 L683.5,204.3Z M500.6,203.1 L499.4,203.1 L498.7,203.6 L496.2,207.1 L499.7,215 L502.8,215.5 L508.6,210.6 L508.6,210.1Z M603.2,162.6 L606.4,165.1 L608.5,164.3 L612.6,159.3 L611.3,158.6 L608,160Z M510.5,114.6 L514.6,115.4 L515.5,110.4 L509.6,111Z M664.1,100.6 L663.5,95.7 L660,96 L657.8,96.2Z M522.5,213.1 L521.5,211.8 L514,214.1 L514.3,217.9 L518.8,218.9 L522.5,213.3Z M467,188.5 L465.4,188.2 L465.4,190.2Z M605.9,134.7 L607,136.6 L612.7,136.6 L609.8,134.7Z M504.5,116.8 L502.1,116.5 L508.5,128.9 L510.7,121.3Z M642.4,104.5 L637.8,105.8 L645.5,112.4 L648.2,106.7Z M515.8,202.4 L516.2,202.1 L516.3,200.6 L516.1,199.4 L508.1,200 L508.6,200.3Z M501.1,115.7 L489.2,118 L492.3,122.1 L496.4,123 L497.6,123 L501.7,116.3Z M634.9,120.4 L635.5,120.2 L635.2,111.8 L632.7,108.3 L625.2,110.9Z M635.6,222 L638.5,222 L636.7,220.9Z M625.5,161.9 L627.2,155.9 L622.6,154 L617.5,155.8 L617.6,157.1Z M616.7,189.2 L617.2,200 L617.8,200.4 L621.3,201.8 L627.1,196.6 L628,191.3 L622,187.6 L617.2,188.8Z M470.8,201.6 L472.4,203.3 L478.9,202.3 L476.2,197.5 L470.5,198.8Z M602.8,183.8 L606.9,188.7 L612.2,190.9 L616.7,189.2 L617.2,188.8 L609.6,184.2 L602.8,182.6Z M650.7,98.2 L651.1,98.8 L657.3,96.3 L652.2,96.8Z M597.6,217.2 L609.6,211.5 L609.5,210.8 L608.8,210.2 L607.4,209.1 L597.1,210.4 L594.1,212.6Z M501.2,192.6 L501.4,192.7 L502.5,192.2 L504.8,185 L501.2,181.8 L499.7,184.9Z M623.8,138 L625.2,142.5 L627.1,143.8 L632.4,139.2Z M654.7,142.9 L665.1,144.8 L665.6,143.1 L665.3,142.7 L656.4,137 L650.8,141.7 L650.7,141.8 L650.8,141.9Z M471.3,209.4 L472.1,208.3 L472.4,203.3 L470.8,201.6 L465.4,202.7 L465.4,207.3Z M608.2,149.3 L605.3,147.1 L595,148.5 L600.2,154.5 L602.2,154.4 L609,150.6 L609.2,150.2Z M677.5,101.7 L679.3,94.8 L678.4,94.6 L670,98.7 L669,100.6 L676.9,102.3 L677.3,102.1Z M581.5,217.4 L587.9,217.4 L588.2,215.5 L582,214.3 L580.1,216.8Z M536.1,208.8 L538.9,204.3 L535.6,204.7Z M550.5,124.4 L553.7,122.3 L548.1,119.3 L546,119.1 L543.4,121.9 L544.6,123.2Z M507.8,199.9 L510.6,196.2 L507.4,191.9 L502.5,192.2 L501.4,192.7 L506.9,199.9 L507.6,199.9Z M478.7,152.2 L471.5,157.9 L478,160 L481.2,157.3Z M590.1,194 L586.6,196.4 L586.6,196.9 L587.9,197.5 L593.8,197.6 L592,194.2Z M481.2,212.6 L475.6,215 L474.6,215.5 L474.5,216.4 L482.9,219 L488,219.3 L491.8,217.1 L491.6,216.9Z M548.2,162.3 L546.8,158 L544.9,156.6 L541.8,155.7 L540.3,158.8Z M521,203.1 L522.5,201.3 L516.3,200.6 L516.2,202.1Z M509,143.6 L509.4,143.9 L513.3,142.2 L510.2,135.5 L509.6,135.7 L507,140.3Z M467.4,127.5 L467.7,121.7 L465.4,121.6 L465.4,126.5Z M520.9,209.1 L521,203.1 L516.2,202.1 L515.8,202.4 L515.6,207.1Z M566.6,170.9 L562.9,167.1 L557.5,165.7 L556.7,165.5 L556.1,165.8 L557.1,171.8 L559.1,173.1 L562.5,174.4 L566.7,171.1Z M515.6,207.1 L515.8,202.4 L508.6,200.3 L514.9,207.1Z M560.6,215.5 L567.7,213.5 L566.9,212.9 L560,209.6 L558.6,210.1 L558.4,212.4Z M494.4,217.5 L491.8,217.1 L488,219.3 L488,222 L496.3,222Z M670.6,205 L659.5,201.5 L663.4,208.9 L670.7,206.5Z M510.2,135.5 L511.7,132.5 L511.8,131.2 L508.5,129 L502.6,128.4 L499.7,130.8 L498.4,134.1 L500.1,136.8 L502.9,136.9 L509.6,135.7Z M478.8,208.7 L475.6,215 L481.2,212.6 L481.7,211.8Z M526.7,118.8 L522.1,118.4 L520.4,125.5 L528.2,121.7Z M643.4,146.8 L648.9,152 L654.7,150.5 L650.5,142.6Z M645.6,220 L641.8,222 L648.4,222Z M501.7,116.3 L497.6,123 L502.6,128.4 L508.5,129 L508.5,128.9 L502.1,116.5Z M590.7,109.9 L589.7,109.6 L584.7,113.8 L590,114.6Z M560,159.2 L557,154.5 L551.8,156 L557.3,162.7Z M552.6,130.9 L554.2,131.9 L558,125.2 L554.8,122.4 L553.7,122.3 L550.5,124.4 L550.7,127Z M644.4,98.3 L645.3,97.5 L643.7,97.6Z M672.7,201 L672.3,200.3 L670.8,198.2 L654.3,194.9 L652.3,196.5 L652.2,196.6 L654.3,199.2 L659.5,201.5 L670.6,205Z M593.8,197.6 L587.9,197.5 L594.5,201.8 L598.2,200.1Z M559.6,221.6 L557.7,222 L560.6,222Z M629.3,147.1 L629.1,147.7 L635.4,151 L638.6,146.2 L633.7,145Z M538.9,204.3 L540.1,203 L535.6,199 L533,200.9 L535.6,204.7Z M524.6,113.3 L519.5,115 L518,116.7 L522.1,118.4 L526.7,118.8 L528.6,114.3 L527.3,112.9Z M677.3,182.8 L683.5,187.5 L683.5,184.6 L678.4,181.5Z M606.7,140 L607,136.7 L602.2,136.9 L605,140.5Z M683.5,97.6 L683.5,94.4 L683.2,94.2 L679.3,94.8 L677.5,101.7Z M533,200.9 L529.2,202.8 L529.9,207.3 L535.4,210.8 L536.1,208.8 L535.6,204.7Z M578.8,135.4 L584.4,138.2 L585.3,138.2 L585.8,137.6 L580.5,130.2 L578.5,131.4 L578,131.9Z M581.6,127.2 L588.2,129 L596.4,126.5 L596.3,125.8 L588.9,120 L582.9,119.5 L581.2,120.1 L580.2,125.1Z M617.7,101.3 L619.6,104 L628.1,100.6 L627.3,99.3 L620.6,99.9Z M492.7,129.9 L497.9,134 L498.4,134.1 L499.7,130.8 L493.4,128.3 L493.2,128.4 L493,128.4Z M628.6,222 L635.6,222 L636.7,220.9 L635.1,219.3 L629.5,218.5 L628.6,221.1Z M499.7,184.9 L501.2,181.8 L501.1,181.5 L489.1,179.9 L488.9,179.9 L485.4,181.6 L490.8,189.1 L493.2,190.4Z M595.1,105.5 L600.5,109 L602.7,108.8 L601.9,106.5Z M637.8,105.8 L634.5,105.8 L634.1,105.9 L632.7,108.3 L635.2,111.8 L640.2,114.3 L645.9,113.2 L645.5,112.4Z M488.2,157.4 L488.6,152.9 L484.5,152.5Z M590.2,222 L599.1,222 L599.2,221.8 L597.6,217.2 L594.1,212.6 L590.1,212.1 L588.2,215.5 L587.9,217.4Z M547.3,165.9 L545.2,168.9 L545.5,170.8 L552.4,176.7 L557.1,171.8 L556.1,165.8 L549.7,165Z M546.3,108.1 L553.4,109.1 L553.9,108.7 L554.5,106.6 L546.3,107.4Z M573.2,219.7 L573.5,216.8 L572.3,214.9 L570.3,213.8 L567.7,213.5 L560.6,215.5 L559.6,218.1 L559.6,221.6 L560.6,222 L572,222Z M607.7,132 L604.3,133.4 L605.9,134.7 L609.8,134.7Z M473.4,190.7 L471.5,187.8 L467.5,188.6 L466,196.8 L468.9,197.8Z M629.1,147.7 L627.5,149 L628.7,155 L633.9,155.9 L637.1,155.3 L637.8,154.8 L635.4,151Z M594.5,183.9 L589,184.2 L592.2,188.7 L595,189.3 L595.4,186.3Z M577.6,143.8 L581,147.8 L584,147.1 L584.3,142.7Z M591,146.3 L592.4,138.8 L589.4,136.8 L585.8,137.6 L585.3,138.2 L586.1,141.3Z M592.9,109.7 L593.6,110.2 L599.1,110.1 L600.5,109 L595.1,105.5 L594.8,105.4Z M504.9,157.9 L505,158.7 L507,161.1 L510.6,160.5 L509.9,159.1Z M678.1,176 L679.2,179.8 L683.5,180.4 L683.5,172.6Z M621.7,183.4 L622,187.6 L628,191.3 L631.4,191.3 L633.8,189.4 L634.6,185.8 L631.8,180.3Z M615.7,170.2 L615.9,176.8 L619.6,179.2 L627.6,173.6 L622.6,166.8 L619.9,166.9Z M547.4,220.3 L536.6,211.9 L536.2,211.8 L533.8,214.5 L538.2,222 L548,222Z M507,161.1 L505.6,165.1 L510.5,166.3 L517.8,162.5 L510.6,160.5Z M627.1,143.8 L625.2,142.5 L619.2,144.4 L621.7,148.5 L627.5,149 L629.1,147.7 L629.3,147.1Z M481.2,157.3 L478,160 L479.1,165.1 L479.9,165.4 L485.6,164.9 L485.6,159.2Z M576.8,136.9 L580.7,139.4 L584.4,138.2 L578.8,135.4Z M665.1,144.8 L665.5,146.1 L670.5,150.5 L674.6,150.3 L677.2,145.6 L672.7,140.5 L672.4,140.4 L665.6,143.1Z M600.9,114.6 L599.1,110.1 L593.6,110.2 L597.8,115.6Z M586,107.2 L587.6,105 L588.1,103.2 L584.9,103.5Z M478.9,202.3 L482.5,204.5 L482.8,204.6 L484.5,204.4 L486.2,200.9 L482.9,195.8 L481.4,195.2 L477.1,195 L476.2,197.5Z M551.4,155.8 L551.8,156 L557,154.5 L557.1,152.9 L554.3,150.2 L553.4,150.1 L550.2,153.2Z M489.1,179.9 L492.5,175.3 L492.9,172.4 L491.9,170.8 L487.9,170.1 L487.3,170.8 L488.9,179.9Z M479.8,116.4 L480.8,115.6 L480.4,115.4 L474.9,116.3Z M664.7,106.4 L666.6,111.4 L670.6,114.4 L672.7,114.5 L674,114.1 L676.2,109.2Z M481.1,151 L484.5,152.5 L488.6,152.9 L493.4,151.1 L493.5,149.9 L490.7,148.5 L484.9,147.2Z M606.9,173.2 L609.8,173 L607.7,170.1Z M683.5,148.6 L683.5,145.6 L682.2,146.8Z M551.3,212.5 L551.4,206.2 L548.9,203.9 L545.3,204.9 L543.2,209.3 L549.4,213.8 L551.1,212.7Z M654.5,179.1 L656.3,189.7 L660.1,187 L658.9,180.8Z M648.9,152 L648.2,153.7 L648.2,153.7 L657.9,158.9 L658.3,158.4 L658.8,154.9 L656.9,151.7 L654.7,150.5Z M622.6,154 L620.7,149.5 L613.9,151.2 L617.5,155.8Z M514.6,115.4 L516.4,116.8 L518,116.7 L519.5,115 L519.1,111.8 L517.9,110.2 L515.5,110.4Z M569.9,163.9 L570.1,160.6 L566.7,156.6 L565.5,157.6 L566.7,161.9 L568.5,164.2Z M507.4,191.9 L511.2,188.1 L504.8,185 L502.5,192.2Z M668,163.7 L667.5,160.2 L658.3,158.4 L657.9,158.9 L657.4,159.8 L660,162.1 L666.2,165.7Z M509.1,221.3 L502.8,215.5 L499.7,215 L494.4,217.5 L496.3,222 L509.3,222Z M465.4,220.6 L465.4,222 L465.8,222Z M508.6,210.6 L502.8,215.5 L509.1,221.3 L514.3,217.9 L514,214.1Z M672.4,140.4 L672.7,140.5 L679.5,137.5 L669.8,133 L668.6,133.8Z M533,154 L530.6,155.1 L529.6,158.2 L531.3,159.7 L535.3,161.6 L536.6,158.9Z M487.1,138.1 L487.2,137.4 L485.5,134.1 L477.6,127.2 L475.6,128.8 L480.5,137.6 L483.3,139.5Z M486.8,126.7 L487.2,127.1 L493,128.4 L493.2,128.4 L491,123.1 L489.2,124.1Z M679.5,222 L683.5,222 L683.5,219.1 L679.7,219.6Z M633.8,189.4 L642.8,188.4 L643.6,182.4 L641,181.6 L634.6,185.8Z M549.1,141 L547.3,145 L553.4,150.1 L554.3,150.2 L558.3,147.2 L559.1,145.9 L559.1,145.6 L554,141.4 L551.5,140.3Z M532.7,167.8 L529.9,166.3 L529.5,166.3 L523.1,166.1 L522.5,171.3 L523.9,174.7 L525.3,175 L533.8,173.9Z M605,158.4 L604.7,156.4 L602.2,154.4 L600.2,154.5 L597.4,161.2 L603.1,162.5Z M592.4,138.8 L591,146.3 L591.5,147 L593.4,148.3 L594.6,148.3 L597.4,140.6 L596.8,139.8Z M550.7,127 L550.5,124.4 L544.6,123.2 L545.2,124.5Z M602.2,136.9 L599.7,134.9 L596.8,139.8 L597.4,140.6 L603.8,142.9 L605,140.5Z M474.7,140.4 L478.3,144 L482.7,142.5 L483.1,139.8Z M649.2,122.1 L655.1,117.2 L654.4,116.5 L651.2,114.8 L648.1,114.6 L643.5,120.3 L643.7,120.5Z M572,123.7 L570,125.1 L569.8,126 L573.1,128.1 L577.3,125.1Z M648.2,153.7 L648.2,153.7 L641.8,150.4 L640,154.6 L645.3,156.5Z M593.6,161.9 L592.6,161.8 L588.4,164.8 L595.4,170.5 L597.6,169.9 L598.5,168.1Z M493.2,128.4 L493.4,128.3 L496.4,123 L492.3,122.1 L491,123.1Z M503.3,173.7 L504.5,175.6 L511,175.8 L514,170.8 L511.9,169.2 L503.3,173.6Z M478,160 L471.5,157.9 L467,158.4 L467.5,161.7 L470.4,164.7 L473.3,166 L479.1,165.1Z M625.2,142.5 L623.8,138 L622.8,137.2 L618.3,143.9 L619.2,144.4Z M534.3,152.2 L528.7,147.6 L524.3,150 L525.5,153.3 L530.6,155.1 L533,154Z M666.2,165.7 L660,162.1 L662.3,170.4 L666.3,167.6Z M466.8,169.5 L470.4,164.7 L467.5,161.7 L465.4,162.7 L465.4,169.3Z M484.5,114.9 L484.7,114.9 L485.8,114.4 L484.5,114.7Z M466.8,158.1 L468.4,150.9 L465.4,149.7 L465.4,157.7Z M642.1,170.8 L646.3,161.9 L639.3,161.7 L638.3,162.7 L637.3,168.1 L639,170.3Z M503.1,173.3 L503.3,173.6 L511.9,169.2 L510.5,166.3 L505.6,165.1 L500.7,166.4 L500.3,166.8Z M507.6,199.9 L506.9,199.9 L500.6,203.1 L508.6,210.1 L510.5,208.7Z M559.6,221.6 L559.6,218.1 L551.1,212.7 L549.4,213.8 L547.4,220.3 L548,222 L557.7,222Z M561.7,185.6 L557.5,179.7 L552.3,178.1 L552,178.4 L555.5,184.8 L556,185.4 L560.6,186.4Z M561.5,178.9 L560.4,178.7 L557.5,179.7 L561.7,185.6 L565.2,185.1 L565.7,184.8Z M544.9,156.6 L547.3,152.5 L541.6,147.5 L541.2,147.5 L537.9,151.6 L541.8,155.7Z M467.5,161.7 L467,158.4 L466.8,158.1 L465.4,157.7 L465.4,162.7Z M482.1,211.3 L482.8,204.6 L482.5,204.5 L478.9,206.3 L478.8,208.7 L481.7,211.8Z M680.4,120 L679.7,122.3 L681.4,124.8 L683.5,126.3 L683.5,117.4Z M559.6,218.1 L560.6,215.5 L558.4,212.4 L551.3,212.5 L551.1,212.7Z M498.1,156.6 L503.5,149.4 L498.9,147.2 L493.5,149.9 L493.4,151.1 L495.4,156.3 L496.8,156.9Z M529.2,202.8 L524.8,200.5 L523.6,200.1 L522.5,201.3 L521,203.1 L520.9,209.1 L521.4,209.6 L529.9,207.3Z M566.9,166 L562.9,167.1 L566.6,170.9 L569.5,169.7 L571.3,168.4Z M573.7,136.8 L573.2,142.4 L577.1,143.4 L580.7,139.4 L576.8,136.9Z M650.9,209.4 L655.7,215 L661,213.9 L660.7,211.8 L654.7,207.8Z M480.8,115.6 L483.9,115.1 L484.5,114.9 L484.5,114.7 L480.4,115.4Z M478,126.4 L477.6,127.2 L485.5,134.1 L487.9,129.1 L487.2,127.1 L486.8,126.7 L482.6,126Z M648.4,222 L653.3,222 L655.5,221.3 L653.4,216.8 L646,215.2 L645.8,215.4 L645.6,220Z M523.1,166.1 L520,162.2 L517.8,162.5 L510.5,166.3 L511.9,169.2 L514,170.8 L522.5,171.3Z M573.2,219.7 L572,222 L581,222Z M559.2,111.2 L558.5,110.3 L556.7,109.7 L556.9,114.5 L557.4,114.3Z M662.3,170.4 L660,162.1 L657.4,159.8 L652.7,162.7 L654.8,170.7 L661,171.7Z M567.3,118.5 L564,120.1 L563.1,123.2 L570,125.1 L572,123.7 L567.9,118.5Z M553.7,122.3 L554.8,122.4 L556.1,117.6 L554.8,115.1 L553.9,114.7 L548.1,119.3Z M528.6,114.3 L533.6,115 L534.1,114.9 L536.5,113.9 L538.7,112.1 L538.9,110.9 L535.2,108.5 L526,109.4 L527.3,112.9Z M659,105.3 L656.2,105 L650.7,107 L651.2,114.8 L654.4,116.5Z M561.6,201.1 L571.2,196.1 L571.2,195.9 L558.7,195.5 L560,199.7 L561.1,200.7Z M533.2,132.6 L533.3,133.5 L534.2,134.6 L537.2,135.5 L538.2,135.3 L540,128.1 L537.1,124.3 L536.3,124.3Z M516.9,137.7 L520.6,137.8 L522.2,134.9 L521.3,133.6 L517.2,130.3 L511.8,131.2 L511.7,132.5Z M510.2,135.5 L513.3,142.2 L517.1,143.2 L517.9,142 L516.9,137.7 L511.7,132.5Z M663.7,133.7 L665.3,142.7 L665.6,143.1 L672.4,140.4 L668.6,133.8Z M485.6,164.9 L486.3,165.3 L493.1,165.1 L492.7,164.1 L486.5,158.9 L485.6,159.2Z M528.3,142.5 L527.8,141.3 L521,140.2 L517.9,142 L517.1,143.2 L518.6,145.1 L528,144.4 L528.5,143.3Z M606.4,206.9 L607.4,209.1 L608.8,210.2 L617.8,200.4 L617.2,200 L607.1,198.1 L604.6,200.8Z M607.7,132 L608.2,131.1 L606.5,128.4 L602.8,133.2 L604.3,133.4Z M542.9,181.6 L552,178.4 L552.3,178.1 L552.4,176.7 L545.5,170.8 L540.2,177.3 L541.9,181.3Z M671.1,120.9 L670.6,114.4 L666.6,111.4 L659.4,118.5 L666.9,123Z M640.5,145.9 L642.7,146.8 L643.4,146.8 L650.5,142.6 L650.8,141.9 L650.7,141.8 L637.8,136.2 L636.8,136.5Z M656.9,151.7 L658.8,154.9 L669.2,153.5 L670.5,150.5 L665.5,146.1 L660.1,149.2Z M503.1,173.3 L492.9,172.4 L492.5,175.3 L503.3,173.7 L503.3,173.6Z M595.4,170.5 L588.4,164.8 L587.2,165.4 L591.3,175.9 L598.8,177.7 L598.5,176.7Z M600.9,186.6 L595.4,186.3 L595,189.3 L595.2,189.5 L599.4,190.4Z M619.9,166.9 L622.6,166.8 L626.1,163.4 L625.5,161.9 L617.6,157.1 L613.6,159.6 L616.2,164.1Z M482.9,195.8 L486.2,194.4 L487.5,191.6 L482.3,191 L481.4,195.2Z M603.7,177 L613.3,177.3 L615.3,176.9 L609.8,173 L606.9,173.2Z M608.5,102.4 L616.3,100.4 L616.3,100.4 L606.8,101.3Z M535.4,210.8 L536.2,211.8 L536.6,211.9 L543.2,209.3 L545.3,204.9 L540.1,203 L538.9,204.3 L536.1,208.8Z M683.1,162.9 L679,166.2 L683.5,171.7 L683.5,162.8Z M602.4,170.5 L601.8,177.3 L603.7,177 L606.9,173.2 L607.7,170.1 L607.1,167.8Z M626,211.7 L625.4,209 L624.3,208.3 L609.5,210.8 L609.6,211.5 L609.7,211.7 L622.7,216.8 L626.4,215.5Z M467.4,127.5 L468.9,129.2 L472.2,129.9 L475.6,128.8 L477.6,127.2 L478,126.4 L476.4,123.5 L470.1,120.4 L467.7,121.7Z M588.2,215.5 L590.1,212.1 L587.7,210.1 L587.2,209.7 L581.8,209.7 L582,214.3Z M479.1,165.1 L473.3,166 L474.2,169.6 L475.4,172.5 L481.6,170.6 L479.9,165.4Z M549,203.6 L548,200.5 L536.1,195.8 L535.7,195.9 L535.6,199 L540.1,203 L545.3,204.9 L548.9,203.9Z M477.1,195 L481.4,195.2 L482.3,191 L476.8,182.7 L473.2,185.4 L471.5,187.8 L473.4,190.7Z M559.1,145.9 L564.9,150.4 L568.2,143.2 L567.5,142.9 L559.1,145.6Z M683,139.7 L683.2,140.4 L683.5,140.9 L683.5,139.7Z M520.4,125.5 L519.9,125.9 L520,127.1 L524.4,128.2 L529.8,126.5 L530.9,123.4 L528.2,121.7Z M483.9,115.1 L484.7,120.6 L489.2,124.1 L491,123.1 L492.3,122.1 L489.2,118 L484.7,114.9 L484.7,114.9 L484.5,114.9Z M568.5,164.2 L566.7,161.9 L557.5,165.7 L562.9,167.1 L566.9,166Z M532.7,215 L533.8,214.5 L536.2,211.8 L535.4,210.8 L529.9,207.3 L521.4,209.6 L521.5,211.8 L522.5,213.1Z M666.9,123 L659.4,118.5 L658,118.5 L656.6,126.3 L660.7,128.6 L667,124.9Z M522.1,155 L525.5,153.3 L524.3,150 L518.7,148.2 L517.8,149Z M484.6,181.4 L477.7,181.6 L476.8,182.7 L482.3,191 L487.5,191.6 L490.8,189.1 L485.4,181.6Z M679,166.2 L676,166.2 L674.8,167.2 L675.5,174 L675.7,174.5 L678.1,176 L683.5,172.6 L683.5,171.7Z M491.2,131.8 L492,134 L497.9,134 L492.7,129.9Z M571.9,194.7 L576.4,194.1 L580.8,191.6 L580.6,188.2 L571.4,189.6 L571.4,193.9Z M495.7,192.8 L501.2,192.6 L499.7,184.9 L493.2,190.4Z M603.8,142.9 L605.2,145.8 L612.8,141.4 L613.7,140.8 L613.6,140.5 L606.7,140 L605,140.5Z M563.1,135.1 L567.6,132 L567.6,131.7 L566.9,130.2 L561.5,125 L558,125.2 L554.2,131.9 L554.3,132.1 L554.7,132.6Z M631.4,191.3 L628,191.3 L627.1,196.6 L636.4,205.4 L636.8,205.3 L637.5,204.6 L638.1,195.8Z M508.6,210.1 L508.6,210.6 L514,214.1 L521.5,211.8 L521.4,209.6 L520.9,209.1 L515.6,207.1 L514.9,207.1 L510.5,208.7Z M602.6,101.9 L606.5,101.4 L602.1,101.8Z M474.2,147 L474.1,148.9 L478.7,151.8 L481.1,151 L484.9,147.2 L482.7,142.5 L478.3,144 L474.7,145.9Z M679,166.2 L683.1,162.9 L680.3,162 L675,163.1 L674.9,163.5 L676,166.2Z M632.9,207.7 L634.7,206.8 L636.4,205.4 L627.1,196.6 L621.3,201.8 L624.3,208.3 L625.4,209Z M635.1,219.3 L637.2,215.8 L636.8,215.3 L626,211.7 L626.4,215.5 L629.5,218.5Z M599.6,121.8 L599.2,120.9 L592.6,118.2 L589.3,119.6 L588.9,120 L596.3,125.8Z M510.7,121.3 L508.5,128.9 L508.5,129 L511.8,131.2 L517.2,130.3 L520,127.1 L519.9,125.9 L515.4,120.9Z M647.9,133.2 L650.8,141.7 L656.4,137 L657,135 L650.4,130.4Z M475.5,136.6 L480.5,137.6 L475.6,128.8 L472.2,129.9 L472.2,131.4Z M603.2,162.6 L603.1,162.5 L597.4,161.2 L593.6,161.9 L598.5,168.1 L602.4,170.5 L607.1,167.8 L607.3,167.5 L606.4,165.1Z M608.3,126.5 L606.4,128.1 L606.5,128.4 L608.2,131.1 L616.6,131.8 L615.2,128.6Z M524.9,216.9 L523.1,222 L529,222 L529.7,219.1Z M574.3,104.6 L572.3,104.8 L573.8,105.3Z M544.9,156.6 L546.8,158 L551.4,155.8 L550.2,153.2 L547.3,152.5Z M599.3,133.1 L599.4,133.1 L602.8,133.2 L606.5,128.4 L606.4,128.1 L596.4,126.5Z M564.2,175.9 L562.5,174.4 L559.1,173.1 L560.4,178.7 L561.5,178.9 L563.4,178Z M608.8,210.2 L609.5,210.8 L624.3,208.3 L621.3,201.8 L617.8,200.4Z M672.8,131.1 L681,136.8 L682.9,132.8 L675.6,129.7Z M600.2,154.5 L595,148.5 L594.6,148.3 L593.4,148.3 L588.9,155.5 L592.6,161.8 L593.6,161.9 L597.4,161.2Z M567.2,204.2 L567.6,204.1 L571.5,197.7 L571.5,197.4 L571.2,196.1 L561.6,201.1 L565.8,203.9Z M513.3,142.2 L509.4,143.9 L508.2,151 L508.4,151.2 L510.8,151.8 L517.8,149 L518.7,148.2 L518.6,145.1 L517.1,143.2Z M602.6,101.9 L602.2,105.1 L609.2,108.8 L610.9,107 L608.5,102.4 L606.8,101.3 L606.5,101.4Z M559.2,111.2 L563.6,111.9 L563.7,111.8 L561.2,106 L558.5,110.3Z M571.1,129.9 L567.6,131.7 L567.6,132 L571.9,134.1 L578,131.9 L578.5,131.4 L575.9,130.4Z M636.2,136.4 L628.1,130.8 L625.3,131.4 L620.4,134 L622.8,137.2 L623.8,138 L632.4,139.2 L632.5,139.2Z M563.7,119.9 L564,120.1 L567.3,118.5 L563.6,114.1 L559.6,114.7Z M573.5,216.8 L580.1,216.8 L582,214.3 L581.8,209.7 L578,208.5 L572.3,214.9Z M469.3,118.2 L470.1,120.4 L476.4,123.5 L479.8,116.4 L474.9,116.3 L470.4,117.1Z M488.9,179.9 L487.3,170.8 L482.3,171.1 L484.6,181.4 L485.4,181.6Z M549.6,192.5 L558.1,194.8 L560.2,191.7 L560.6,186.4 L556,185.4 L548.7,189.9 L549.2,192.2Z M666.3,167.6 L662.3,170.4 L661,171.7 L662.1,172.7 L672.2,174.6 L675.7,174.5 L675.5,174 L667.2,167.9Z M474.4,221 L473.7,222 L475.3,222Z M683.5,158.2 L683.5,151.2 L676.6,151.4 L677.7,153.4 L680.7,156.9Z M650.1,129.1 L650.4,130.4 L657,135 L662.3,133 L660.7,128.6 L656.6,126.3 L652.4,126.8Z M652.7,162.7 L648.1,161.2 L646.3,161.9 L642.1,170.8 L649.7,174.1 L654.8,170.7Z M545,128.9 L543.7,133.7 L554.3,132.1 L554.2,131.9 L552.6,130.9 L545.8,128.7Z M608.4,221.9 L605.5,219.1 L599.2,221.8 L599.1,222 L608.4,222Z M516.3,200.6 L522.5,201.3 L523.6,200.1 L521.3,197.5 L517.2,197.3 L516.1,199.4Z M645.5,112.4 L645.9,113.2 L648.1,114.6 L651.2,114.8 L650.7,107 L648.2,106.7Z M508.1,200 L516.1,199.4 L517.2,197.3 L514,195.4 L510.6,196.2 L507.8,199.9Z M483.1,139.8 L482.7,142.5 L484.9,147.2 L490.7,148.5 L489.4,139.5 L487.1,138.1 L483.3,139.5Z M604.7,156.4 L605,158.4 L606.6,158 L609.5,156.5Z M518.7,148.2 L524.3,150 L528.7,147.6 L528,144.4 L518.6,145.1Z M518.8,218.9 L521.7,222 L523.1,222 L524.9,216.9 L522.5,213.3Z M597.6,169.9 L595.4,170.5 L598.5,176.7Z M474.2,147 L474.7,145.9 L474.6,145.6 L470.4,140.1 L467.8,141.9Z M504.5,156.4 L498.1,156.6 L496.8,156.9 L499.7,161.6 L505,158.7 L504.9,157.9Z M607.3,167.5 L607.1,167.8 L607.7,170.1 L609.8,173 L615.3,176.9 L615.9,176.8 L615.7,170.2Z M541,163.2 L547.3,165.9 L549.7,165 L548.2,162.3 L540.3,158.8 L540.2,158.9Z M635.7,101 L640.6,98.2 L640.3,98 L635.7,98.4Z M540.3,158.8 L541.8,155.7 L537.9,151.6 L534.3,152.2 L533,154 L536.6,158.9 L540.2,158.9Z M627.2,155.9 L628.7,155 L627.5,149 L621.7,148.5 L620.7,149.5 L622.6,154Z M628.6,221.1 L618.4,222 L628.6,222Z M623.2,128.7 L621.1,124.6 L616.4,124.4 L616.3,124.9Z M550.2,153.2 L553.4,150.1 L547.3,145 L541.6,147.5 L547.3,152.5Z M532.7,215 L522.5,213.1 L522.5,213.3 L524.9,216.9 L529.7,219.1 L530.6,218.6Z M486.5,158.9 L488.4,158.1 L488.2,157.4 L484.5,152.5 L481.1,151 L478.7,151.8 L478.7,152.2 L481.2,157.3 L485.6,159.2Z M598.5,168.1 L597.6,169.9 L598.5,176.7 L598.8,177.7 L600.1,178.4 L601.8,177.3 L602.4,170.5Z M620.1,107.4 L611.7,107.2 L616.2,114 L619.7,116.4 L620.8,116.3 L622.2,115.4 L624.7,111Z M634.5,105.8 L637.8,105.8 L642.4,104.5 L644.2,100.5 L643.9,99.6 L640.6,98.2 L635.7,101Z M561.7,185.6 L560.6,186.4 L560.2,191.7 L566.9,191.6 L565.2,185.1Z M589.3,119.6 L590.3,115 L590,114.6 L584.7,113.8 L584.3,113.9 L582.9,119.5 L588.9,120Z M492,134 L491.2,131.8 L487.9,129.1 L485.5,134.1 L487.2,137.4Z M661,213.9 L665.6,217.8 L675,213.9 L675.3,212.4 L670.7,206.5 L663.4,208.9 L663.1,209 L660.7,211.8Z M548.7,189.9 L556,185.4 L555.5,184.8 L543.7,182.7Z M490.7,148.5 L493.5,149.9 L498.9,147.2 L497.9,142.3 L489.4,139.5Z M682.9,132.8 L681,136.8 L680.9,137.4 L683,139.7 L683.5,139.7 L683.5,132.4Z M612.7,136.6 L614.1,137.1 L618.3,133.7 L616.6,131.8 L608.2,131.1 L607.7,132 L609.8,134.7Z M528,144.4 L528.7,147.6 L534.3,152.2 L537.9,151.6 L541.2,147.5 L540,146.5 L529.2,143.4 L528.5,143.3Z M573.1,110.4 L563.7,111.8 L563.6,111.9 L563.6,114.1 L567.3,118.5 L567.9,118.5 L573.9,115.2Z M540,146.5 L537.7,141.4 L529.2,143.4Z M608.4,221.9 L608.4,222 L609.3,222Z M584,147.1 L581,147.8 L580.3,152.5 L588.9,155.5 L593.4,148.3 L591.5,147Z M650.2,176.6 L647.2,181.3 L655.9,190 L656.3,189.7 L654.5,179.1Z M616.4,124.4 L613.7,120 L609.7,119.3 L607.2,121.3 L608.3,126.5 L615.2,128.6 L616.3,124.9Z M496.9,166.5 L491.9,170.8 L492.9,172.4 L503.1,173.3 L500.3,166.8 L498.5,166.6Z M487.9,170.1 L491.9,170.8 L496.9,166.5 L493.1,165.1 L486.3,165.3Z M472.2,131.4 L472.2,129.9 L468.9,129.2 L465.4,131.1 L465.4,135.9 L469.8,137.2Z M522.6,176.5 L523.9,174.7 L522.5,171.3 L514,170.8 L511,175.8 L513.9,176.9Z M596.8,116.1 L592.6,118.2 L599.2,120.9 L597.7,116Z M679.9,105.8 L677,109.2 L680.2,113.4 L683.5,114.4 L683.5,107.3Z M650.5,142.6 L654.7,150.5 L656.9,151.7 L660.1,149.2 L654.7,142.9 L650.8,141.9Z M651.1,98.8 L651.9,101.4 L656.2,105 L659,105.3 L663.7,104.8 L665.1,101.9 L664.1,100.6 L657.8,96.2 L657.3,96.3Z M641.6,214.9 L634.7,206.8 L632.9,207.7 L636.8,215.3 L637.2,215.8Z M655,202.4 L654.3,199.2 L652.2,196.6 L651.6,196.8 L646.6,202.5 L648.7,209.4 L650.9,209.4 L654.7,207.8Z M674.6,127 L673.5,121.7 L671.1,120.9 L666.9,123 L667,124.9 L668.1,126Z M566.9,212.9 L562.8,207.4 L561.9,207.7 L560,209.6Z M679.7,122.3 L680.4,120 L672.7,114.5 L670.6,114.4 L671.1,120.9 L673.5,121.7Z M474.2,169.6 L473.3,166 L470.4,164.7 L466.8,169.5 L467.7,170.9Z M602.2,105.1 L601.9,106.5 L602.7,108.8 L606.9,111.2 L609.2,108.8Z M624.7,111 L622.2,115.4 L632.7,121.9 L634.9,120.4 L625.2,110.9Z M596.4,126.5 L606.4,128.1 L608.3,126.5 L607.2,121.3 L599.6,121.8 L596.3,125.8 L596.4,126.5Z M554.7,132.6 L554.3,132.1 L543.7,133.7 L541.1,135.8 L549.1,141 L551.5,140.3Z M607.5,217.3 L605.5,219.1 L608.4,221.9 L609.3,222 L611.3,222Z M596.4,195.2 L600.1,191.2 L599.4,190.4 L595.2,189.5 L593.8,194Z M670.7,194.3 L676.6,191.6 L669.4,188.2 L669,192.4Z M507.5,153 L508.4,151.2 L508.2,151 L503.5,149.4 L498.1,156.6 L504.5,156.4Z M577.1,143.4 L573.2,142.4 L569.2,143.4 L572.3,150 L578.2,153.3 L580.3,152.5 L581,147.8 L577.6,143.8Z M663.1,209 L663.4,208.9 L659.5,201.5 L654.3,199.2 L655,202.4Z M645.8,181.8 L650.1,194.5 L652.3,196.5 L654.3,194.9 L655.6,192.2 L655.9,190 L647.2,181.3Z M562.8,207.4 L565.8,203.9 L561.6,201.1 L561.1,200.7 L557.9,205.4 L561.9,207.7Z M535.5,162 L529.9,166.3 L532.7,167.8 L537.1,168.1 L537.8,163.3Z M669.8,133 L679.5,137.5 L680.9,137.4 L681,136.8 L672.8,131.1 L670.9,131.4Z M470.4,183.9 L465.4,180.7 L465.4,182.6Z M644.4,98.3 L643.9,99.6 L644.2,100.5 L651.9,101.4 L651.1,98.8 L650.7,98.2 L649.3,97.1 L645.3,97.5Z M680.2,201.7 L681.2,202.7 L683.5,204.3 L683.5,198.2Z M469.3,118.2 L470.4,117.1 L467.9,117.5Z M466.2,142.1 L466.4,145 L471.3,149.3 L474.1,148.9 L474.2,147 L467.8,141.9Z M482.6,126 L486.8,126.7 L489.2,124.1 L484.7,120.6Z M664.1,100.6 L665.1,101.9 L669,100.6 L670,98.7 L670.3,95.1 L663.5,95.7Z M488,219.3 L482.9,219 L483.2,222 L488,222Z M507.5,153 L504.5,156.4 L504.9,157.9 L509.9,159.1Z M617.2,200 L616.7,189.2 L612.2,190.9 L606.9,196.6 L607.1,198.1Z M565.2,185.1 L566.9,191.6 L571.4,193.9 L571.4,189.6 L568,184.5 L565.7,184.8Z M568.8,176.3 L564.2,175.9 L563.4,178 L570,182.9 L575.6,180.2Z M538.1,175.5 L538.1,168.7 L537.1,168.1 L532.7,167.8 L533.8,173.9Z M587.6,105 L594.8,105.3 L594.6,102.5 L588.1,103.2Z M579,107.6 L585.9,107.4 L586,107.2 L584.9,103.5 L580,104 L574.3,104.6 L573.8,105.3 L574.2,106.1Z M482.9,219 L474.5,216.4 L473.2,217.9 L474.4,221 L475.3,222 L483.2,222Z M510.5,114.6 L504.5,116.8 L510.7,121.3 L515.4,120.9 L516.4,116.8 L514.6,115.4Z M616.2,164.1 L613.6,159.6 L612.6,159.3 L608.5,164.3Z M655.7,215 L650.9,209.4 L648.7,209.4 L646.1,211.1 L646,215.2 L653.4,216.8Z M474.6,140.4 L474.7,140.4 L483.1,139.8 L483.3,139.5 L480.5,137.6 L475.5,136.6 L471.6,138.7Z M581.5,217.4 L580.1,216.8 L573.5,216.8 L573.2,219.7 L581,222 L584.1,222Z M491.6,216.9 L491.8,217.1 L494.4,217.5 L499.7,215 L496.2,207.1 L488.8,207 L488.8,211.3Z M466.4,145 L466.2,142.1 L465.4,141.7 L465.4,145.4Z M642.6,120 L640.2,114.3 L635.2,111.8 L635.5,120.2 L636.1,120.3 L636.6,120.3Z M465.9,196.8 L466,196.8 L467.5,188.6 L467,188.5 L465.4,190.2 L465.4,196.7Z M510.6,196.2 L514,195.4 L514.4,190.2 L512.5,188.1 L511.2,188.1 L507.4,191.9Z M657,135 L656.4,137 L665.3,142.7 L663.7,133.7 L662.3,133Z M543.1,121.9 L536.5,113.9 L534.1,114.9 L539.4,122.7Z M470.4,140.1 L471.2,138.6 L469.8,137.2 L465.4,135.9 L465.4,141.7 L466.2,142.1 L467.8,141.9Z M637.1,155.3 L633.9,155.9 L633.2,160.5 L638.3,162.7 L639.3,161.7Z M479.8,116.4 L476.4,123.5 L478,126.4 L482.6,126 L484.7,120.6 L483.9,115.1 L480.8,115.6Z M558.4,212.4 L558.6,210.1 L554.5,207 L551.4,206.2 L551.3,212.5Z M584,147.1 L591.5,147 L591,146.3 L586.1,141.3 L584.3,142.7Z M561.2,106 L563.7,111.8 L573.1,110.4 L574.2,106.1 L573.8,105.3 L572.3,104.8 L561.2,105.9Z M534.2,134.6 L533.3,133.5 L529.3,132 L521.3,133.6 L522.2,134.9 L528.1,138.3Z M661,171.7 L654.8,170.7 L649.7,174.1 L650.2,176.6 L654.5,179.1 L658.9,180.8 L659.2,180.8 L663,175.6 L662.1,172.7Z" fill="none" stroke="#505050" stroke-width="0.6" opacity="0.2"/></g>
<path d="M465,112 L684,88 L684,223 L465,223 Z" fill="#888" filter="url(#omottle)" style="mix-blend-mode:overlay" opacity="0.2"/>
<g clip-path="url(#cpCreg)"><path d="M605.8,147.6 C604.6,148.4 600.7,151.8 598.6,152.6 C596.6,153.3 595.5,152.3 593.5,152.1 C591.4,151.8 587.5,151 586.3,150.8 M470.4,143 C471.7,143.5 475.7,145.8 477.9,146.3 C480.1,146.8 481.5,146.9 483.5,146.1 C485.5,145.3 488.2,142.8 490,141.6 C491.8,140.4 493.5,139.4 494.2,138.9 M502.6,123.1 C501.5,123.3 498.1,123.4 496.1,124.6 C494,125.8 492.1,128.9 490.4,130.3 C488.7,131.6 487.2,131.8 486,132.7 C484.7,133.6 484.3,134.4 482.7,135.7 C481,136.9 478.5,139.6 476.1,140.4 C473.7,141.3 469.5,140.7 468.2,140.8 M635.5,142.2 C634.3,142.3 631.1,143 628.8,142.6 C626.5,142.1 623.9,140.3 621.6,139.5 C619.3,138.7 616,137.9 614.9,137.6 M573,139.8 C573.8,140.2 577,141.4 578.2,142.4 C579.5,143.5 579.5,144.9 580.2,146.1 C580.8,147.4 580.9,148.1 582.1,149.8 C583.4,151.6 586.9,155.6 587.8,156.8 M490,213.6 C489,212.7 485.3,209.8 483.8,208.4 C482.3,206.9 481.8,205.8 480.9,204.6 C480.1,203.4 479,201.8 478.6,201.3 M552.5,150.3 C553.6,150 556.4,148.9 558.8,148.8 C561.1,148.7 564.6,150 566.5,149.8 C568.4,149.6 569.4,148.1 570,147.8 M485,207.4 C485.7,206.3 488.4,202.4 489.3,200.4 C490.2,198.4 489.6,196.9 490.3,195.4 C490.9,194 492.6,193 493.2,191.6 C493.8,190.3 493,189.1 493.9,187.4 C494.8,185.8 496.5,183.4 498.5,181.7 C500.6,180 505,178.1 506.3,177.4 M568,188.2 C567,188.4 563.9,188.9 562,189.1 C560.1,189.3 558.1,189.7 556.6,189.5 C555.1,189.3 553.5,188.1 552.9,187.8 M552.7,118.6 C553.9,118.9 558,119.9 559.8,120.7 C561.6,121.6 562.6,122.3 563.5,123.8 C564.4,125.3 564.7,128.6 565,129.5 M548.2,163.8 C547.4,163 544.2,160.5 543,158.8 C541.8,157.1 541.4,155.3 541.3,153.7 C541.2,152.1 541.9,151 542.3,149.4 C542.7,147.8 543.5,144.9 543.8,144 M503,143.1 C501.8,142.5 498,140.5 496.2,139.2 C494.3,137.9 493.5,136.9 491.7,135.2 C490,133.5 487.9,130.6 485.5,128.9 C483.1,127.2 479.6,126.9 477.5,125.1 C475.4,123.4 474.2,120.8 472.8,118.3 C471.5,115.9 470.2,111.7 469.7,110.3 M516.6,125.3 C515.7,126.3 513,129.6 511.2,131.3 C509.4,133.1 507.5,134.4 505.7,135.7 C503.8,137 501,138.6 500,139.2 M615.5,211.1 C615,211.7 613.4,213.8 612.1,214.5 C610.8,215.1 609.7,214.8 607.8,215 C605.9,215.2 602.6,216 600.7,215.7 C598.9,215.4 597.6,213.8 596.9,213.4 M589.4,122.9 C588.4,123.7 584.8,126.1 583.4,127.8 C582.1,129.6 582.7,131.8 581.1,133.4 C579.6,135 575.1,136.7 573.9,137.4 M483,115.5 C481.8,115.4 478.2,114.9 475.9,115.3 C473.5,115.6 471.4,116.2 469.2,117.4 C466.9,118.6 463.5,121.7 462.4,122.5 M499.7,204.2 C500.3,203.8 502.1,202.6 503.5,202.1 C505,201.7 506.4,201.6 508.5,201.4 C510.6,201.2 514.1,201.3 516.2,201 C518.3,200.7 519.3,200.1 521.1,199.5 C522.9,199 524.7,198.2 527,197.6 C529.2,197 533.2,196.2 534.5,195.9 M618.1,193.4 C619.1,193.4 622.1,193.1 623.8,193.8 C625.5,194.6 626.8,196.6 628.3,198 C629.8,199.3 631.4,200.5 632.6,201.8 C633.8,203.2 634.9,204 635.7,206.1 C636.5,208.2 637.3,213.2 637.6,214.6 M528.6,129.6 C527.9,130 526,131.9 524.2,132.3 C522.4,132.7 519.7,132.3 517.8,131.9 C515.9,131.6 514.2,130.4 512.7,130.2 C511.2,130.1 510.3,130.3 508.7,130.8 C507.1,131.3 504.1,132.9 503.1,133.4 M558.6,176.7 C557.4,176 553.6,174.1 551.5,172.9 C549.5,171.7 547.6,171.4 546.1,169.6 C544.6,167.7 543.1,163.2 542.5,161.9 M535.6,201.7 C534.8,201.2 532.8,199.5 531,198.8 C529.1,198 526.8,197.5 524.6,197 C522.5,196.5 519,196 517.9,195.8 M568,153.8 C569.1,154.6 572.9,157.6 574.7,158.7 C576.6,159.8 577,159.8 579,160.6 C581.1,161.4 584.7,163.1 587.1,163.4 C589.5,163.8 591.6,163.1 593.5,162.6 C595.5,162.1 597.9,160.6 598.8,160.2" stroke="#4a4a4a" stroke-width="0.8" fill="none" opacity="0.55"/></g>
<linearGradient id="tBC" x1="0" y1="0" x2="0" y2="1"><stop offset="0" stop-color="#8e8e8e" stop-opacity="1"/><stop offset="0.35" stop-color="#8e8e8e" stop-opacity="0.8"/><stop offset="1" stop-color="#8e8e8e" stop-opacity="0"/></linearGradient>
<path d="M465,110 L540,100 L620,92 L684,86 L684,108 L620,114 L540,122 L465,132 Z" fill="url(#tBC)" filter="url(#blur2)"/>
<g filter="url(#blur07)"><path d="M597.4,216.1 L600.9,214.8 L610.6,208.8 L613.5,203 L613.3,202.2 L591.1,208.1 L594.1,215Z" fill="#595959"/><path d="M566.2,221.9 L565.5,222 L566.2,222Z" fill="#5e5e5e"/><path d="M664,199.5 L658,192.7 L651.1,197.9 L651.8,202.5 L660.5,201.3 L663.8,200.3Z" fill="#5e5e5e"/><path d="M621.8,212.3 L628.1,209.4 L634.5,201.5 L634.6,201.4 L622.8,204.8 L619,208.8Z" fill="#5b5b5b"/><path d="M552.8,221 L551,219.1 L547.3,222 L552.2,222Z" fill="#646464"/><path d="M631.6,182.3 L635.7,182.4 L635.7,182.4 L638.5,173.8 L635.1,170.1 L633.8,170.1Z" fill="#666666"/><path d="M661.3,210.1 L664.6,201 L663.8,200.3 L660.5,201.3 L649.3,210.9 L649.7,211.2Z" fill="#686868"/><path d="M678.6,175.1 L680.4,183.3 L683.5,183.5 L683.5,174.6Z" fill="#626262"/><path d="M583.5,222 L597.3,222 L597.4,216.1 L594.1,215Z" fill="#525252"/><path d="M582.8,205.7 L582.2,203.4 L581.5,203.5 L577.5,205.1Z" fill="#656565"/><path d="M665.3,161 L681,157.6 L682.8,155.8 L683.5,153.4 L683.5,151.8 L671.8,150.3 L666.3,155.3 L664.8,160.2Z" fill="#6f6f6f"/><path d="M568,221.3 L566.2,221.9 L566.2,222 L570.9,222Z" fill="#5f5f5f"/><path d="M678.8,201.8 L677.2,207.6 L683.5,206.9 L683.5,201.4Z" fill="#646464"/><path d="M614.6,199.8 L614.6,197 L611.7,196.3 L601.3,200.2 L595.8,201.1 L590.6,207.7 L591.1,208.1 L613.3,202.2Z" fill="#5a5a5a"/><path d="M612.2,216 L617.1,218.9 L621.8,212.3 L619,208.8 L615.1,209.3Z" fill="#616161"/><path d="M651.7,219.7 L661.3,214.2 L661.3,210.1 L649.7,211.2Z" fill="#616161"/><path d="M622.8,204.8 L634.6,201.4 L638.8,195.9 L632.9,194.2 L625.3,198.1 L621.4,203.2Z" fill="#676767"/><path d="M672.2,168.6 L673.5,164.8 L664.9,167.4Z" fill="#696969"/><path d="M671.9,191 L664,199.5 L663.8,200.3 L664.6,201 L678.2,200.1 L683.5,195.3 L683.5,188.2Z" fill="#606060"/><path d="M671.9,191 L670.3,185.2 L669,184 L657.8,188.5 L658,192.7 L664,199.5Z" fill="#656565"/><path d="M626.6,221.2 L625.4,222 L626,222Z" fill="#585858"/><path d="M621.4,203.2 L625.3,198.1 L614.6,199.8 L613.3,202.2 L613.5,203Z" fill="#656565"/><path d="M651.9,169.9 L659.4,169.4 L660.5,168.4 L665.3,161 L664.8,160.2 L652.8,161.1 L649.5,162.9 L648.5,164.3Z" fill="#6d6d6d"/><path d="M575.5,215.5 L586.6,208.5 L584.5,207.5 L568,209.3Z" fill="#575757"/><path d="M552.8,221 L563.4,222 L565.5,222 L566.2,221.9 L568,221.3 L575.5,215.5 L568,209.3 L566.9,209.3 L565.1,210 L552,218.3 L551,219.1Z" fill="#595959"/><path d="M661.3,210.1 L661.3,214.2 L664.3,214.3 L676.8,208.1 L677.2,207.6 L678.8,201.8 L678.2,200.1 L664.6,201Z" fill="#606060"/><path d="M648.7,157.6 L656.7,150.9 L651.7,149.3 L644.7,152 L644.2,156Z" fill="#747474"/><path d="M612.2,216 L615.1,209.3 L610.6,208.8 L600.9,214.8Z" fill="#5f5f5f"/><path d="M673.5,164.8 L680.6,159.1 L681,157.6 L665.3,161 L660.5,168.4 L664.9,167.4Z" fill="#727272"/><path d="M640,212.2 L649.3,210.9 L660.5,201.3 L651.8,202.5 L647.9,204.2 L641.6,209.4Z" fill="#616161"/><path d="M657.9,154.5 L657.3,151 L656.7,150.9 L648.7,157.6 L648.6,161.9 L649.5,162.9 L652.8,161.1Z" fill="#6a6a6a"/><path d="M671.8,150.3 L671.7,149.5 L661.1,149 L657.3,151 L657.9,154.5 L666.3,155.3Z" fill="#737373"/><path d="M671.7,149.5 L671.8,150.3 L683.5,151.8 L683.5,144 L680.8,144.3 L674.7,144.7Z" fill="#646464"/><path d="M678.2,200.1 L678.8,201.8 L683.5,201.4 L683.5,195.3Z" fill="#5f5f5f"/><path d="M672.2,168.7 L675.7,174.4 L682.9,165.2 L680.6,159.1 L673.5,164.8 L672.2,168.6Z" fill="#6b6b6b"/><path d="M594.1,215 L591.1,208.1 L590.6,207.7 L586.6,208.5 L575.5,215.5 L568,221.3 L570.9,222 L583.5,222Z" fill="#5f5f5f"/><path d="M630.8,167.8 L621.3,166.6 L619.3,169 L616,178.8 L615.6,182.5 L616.9,182.2 L618.7,181.4 L631.5,170.1Z" fill="#606060"/><path d="M610.6,208.8 L615.1,209.3 L619,208.8 L622.8,204.8 L621.4,203.2 L613.5,203Z" fill="#585858"/><path d="M674.7,175.6 L669,184 L670.3,185.2 L680.4,183.3 L678.6,175.1 L675.4,175.2Z" fill="#6c6c6c"/><path d="M635.7,182.4 L639.6,181.5 L646.9,174.8 L648.4,172.4 L638.5,173.8Z" fill="#616161"/><path d="M635.1,170.1 L648.5,164.3 L649.5,162.9 L648.6,161.9 L640.6,160.3 L634.1,163.7 L630.8,167.8 L631.5,170.1 L633.8,170.1Z" fill="#6e6e6e"/><path d="M651.7,149.3 L656.7,150.9 L657.3,151 L661.1,149 L664,145.5 L657.1,146 L652.8,147.3Z" fill="#686868"/><path d="M683.2,215.2 L683.5,215.4 L683.5,214.9Z" fill="#606060"/><path d="M637.7,214.2 L636.5,214.7 L627.4,220.5 L628.1,222 L645.6,222Z" fill="#5a5a5a"/><path d="M660.5,168.4 L659.4,169.4 L659.8,171.7 L672.2,168.7 L672.2,168.6 L664.9,167.4Z" fill="#6d6d6d"/><path d="M628.1,209.4 L636.5,214.7 L637.7,214.2 L640,212.2 L641.6,209.4 L634.5,201.5Z" fill="#656565"/><path d="M617,219 L617.1,218.9 L612.2,216 L600.9,214.8 L597.4,216.1 L597.3,222 L612.7,222Z" fill="#5c5c5c"/><path d="M681.5,222 L683.5,222 L683.5,220Z" fill="#636363"/><path d="M635.7,182.4 L630.7,191.2 L632.9,194.2 L638.8,195.9 L639.2,195.8 L645,191.6 L646.7,182.9 L639.6,181.5 L635.7,182.4Z" fill="#5e5e5e"/><path d="M586.6,208.5 L590.6,207.7 L595.8,201.1 L582.2,203.4 L582.8,205.7 L584.5,207.5Z" fill="#595959"/><path d="M632.9,194.2 L630.7,191.2 L623.8,192 L621,192.8 L614.6,197 L614.6,199.8 L625.3,198.1Z" fill="#5f5f5f"/><path d="M630.8,167.8 L634.1,163.7 L634,155.1 L627.5,159.1 L621.3,166.6Z" fill="#6c6c6c"/><path d="M568,209.3 L584.5,207.5 L582.8,205.7 L577.5,205.1 L566.9,209.3Z" fill="#646464"/><path d="M552.8,221 L552.2,222 L563.4,222Z" fill="#595959"/><path d="M641.6,209.4 L647.9,204.2 L640.3,196.3 L639.2,195.8 L638.8,195.9 L634.6,201.4 L634.5,201.5Z" fill="#5f5f5f"/><path d="M631.5,170.1 L618.7,181.4 L625.8,182.6 L631.6,182.3 L633.8,170.1Z" fill="#6b6b6b"/><path d="M669,221.8 L664.3,214.3 L661.3,214.2 L651.7,219.7 L648.8,222 L668.9,222Z" fill="#5d5d5d"/><path d="M659.6,175.9 L658.5,176.8 L656.8,188.4 L657.8,188.5 L669,184 L674.7,175.6Z" fill="#626262"/><path d="M651.8,202.5 L651.1,197.9 L640.3,196.3 L647.9,204.2Z" fill="#5f5f5f"/><path d="M666.3,155.3 L657.9,154.5 L652.8,161.1 L664.8,160.2Z" fill="#767676"/><path d="M682.9,165.2 L675.7,174.4 L675.4,175.2 L678.6,175.1 L683.5,174.6 L683.5,165.1Z" fill="#666666"/><path d="M626.6,221.2 L626,222 L628.1,222 L627.4,220.5 L627.4,220.5Z" fill="#5f5f5f"/><path d="M648.4,172.4 L651.9,169.9 L648.5,164.3 L635.1,170.1 L638.5,173.8Z" fill="#666666"/><path d="M614.6,197 L621,192.8 L616.9,182.2 L615.6,182.5 L614.4,195.3 L611.7,196.3Z" fill="#656565"/><path d="M616.9,182.2 L621,192.8 L623.8,192 L625.8,182.6 L618.7,181.4Z" fill="#5e5e5e"/><path d="M682.9,165.2 L683.5,165.1 L683.5,155.8 L682.8,155.8 L681,157.6 L680.6,159.1Z" fill="#6c6c6c"/><path d="M680.4,183.3 L670.3,185.2 L671.9,191 L683.5,188.2 L683.5,183.5Z" fill="#686868"/><path d="M683.5,220 L683.5,215.4 L683.2,215.2 L679.5,215.7 L669,221.8 L668.9,222 L681.5,222Z" fill="#686868"/><path d="M612.7,222 L625.4,222 L626.6,221.2 L627.4,220.5 L617,219Z" fill="#595959"/><path d="M648.6,161.9 L648.7,157.6 L644.2,156 L640.6,160.3Z" fill="#757575"/><path d="M644.7,152 L651.7,149.3 L652.8,147.3 L640.7,150.9 L639.5,151.7Z" fill="#6b6b6b"/><path d="M621.8,212.3 L617.1,218.9 L617,219 L627.4,220.5 L627.4,220.5 L636.5,214.7 L628.1,209.4Z" fill="#626262"/><path d="M661.1,149 L671.7,149.5 L674.7,144.7 L664,145.5Z" fill="#717171"/><path d="M659.8,171.7 L659.6,175.9 L674.7,175.6 L675.4,175.2 L675.7,174.4 L672.2,168.7Z" fill="#737373"/><path d="M644.2,156 L644.7,152 L639.5,151.7 L634,155.1 L634.1,163.7 L640.6,160.3Z" fill="#666666"/><path d="M625.8,182.6 L623.8,192 L630.7,191.2 L635.7,182.4 L631.6,182.3Z" fill="#606060"/><path d="M682.8,155.8 L683.5,155.8 L683.5,153.4Z" fill="#6d6d6d"/><path d="M645.6,222 L648.8,222 L651.7,219.7 L649.7,211.2 L649.3,210.9 L640,212.2 L637.7,214.2Z" fill="#656565"/><path d="M683.5,214.9 L683.5,206.9 L677.2,207.6 L676.8,208.1 L679.5,215.7 L683.2,215.2Z" fill="#5f5f5f"/><path d="M639.6,181.5 L646.7,182.9 L652.2,179.6 L646.9,174.8Z" fill="#6b6b6b"/><path d="M648.4,172.4 L646.9,174.8 L652.2,179.6 L658.5,176.8 L659.6,175.9 L659.8,171.7 L659.4,169.4 L651.9,169.9Z" fill="#6b6b6b"/><path d="M679.5,215.7 L676.8,208.1 L664.3,214.3 L669,221.8Z" fill="#5c5c5c"/><path d="M640.3,196.3 L651.1,197.9 L658,192.7 L657.8,188.5 L656.8,188.4 L645,191.6 L639.2,195.8Z" fill="#5e5e5e"/><path d="M658.5,176.8 L652.2,179.6 L646.7,182.9 L645,191.6 L656.8,188.4Z" fill="#5f5f5f"/><path d="M597.4,216.1 L600.9,214.8 L610.6,208.8 L613.5,203 L613.3,202.2 L591.1,208.1 L594.1,215Z M566.2,221.9 L565.5,222 L566.2,222Z M664,199.5 L658,192.7 L651.1,197.9 L651.8,202.5 L660.5,201.3 L663.8,200.3Z M621.8,212.3 L628.1,209.4 L634.5,201.5 L634.6,201.4 L622.8,204.8 L619,208.8Z M552.8,221 L551,219.1 L547.3,222 L552.2,222Z M631.6,182.3 L635.7,182.4 L635.7,182.4 L638.5,173.8 L635.1,170.1 L633.8,170.1Z M661.3,210.1 L664.6,201 L663.8,200.3 L660.5,201.3 L649.3,210.9 L649.7,211.2Z M678.6,175.1 L680.4,183.3 L683.5,183.5 L683.5,174.6Z M583.5,222 L597.3,222 L597.4,216.1 L594.1,215Z M582.8,205.7 L582.2,203.4 L581.5,203.5 L577.5,205.1Z M665.3,161 L681,157.6 L682.8,155.8 L683.5,153.4 L683.5,151.8 L671.8,150.3 L666.3,155.3 L664.8,160.2Z M568,221.3 L566.2,221.9 L566.2,222 L570.9,222Z M678.8,201.8 L677.2,207.6 L683.5,206.9 L683.5,201.4Z M614.6,199.8 L614.6,197 L611.7,196.3 L601.3,200.2 L595.8,201.1 L590.6,207.7 L591.1,208.1 L613.3,202.2Z M612.2,216 L617.1,218.9 L621.8,212.3 L619,208.8 L615.1,209.3Z M651.7,219.7 L661.3,214.2 L661.3,210.1 L649.7,211.2Z M622.8,204.8 L634.6,201.4 L638.8,195.9 L632.9,194.2 L625.3,198.1 L621.4,203.2Z M672.2,168.6 L673.5,164.8 L664.9,167.4Z M671.9,191 L664,199.5 L663.8,200.3 L664.6,201 L678.2,200.1 L683.5,195.3 L683.5,188.2Z M671.9,191 L670.3,185.2 L669,184 L657.8,188.5 L658,192.7 L664,199.5Z M626.6,221.2 L625.4,222 L626,222Z M621.4,203.2 L625.3,198.1 L614.6,199.8 L613.3,202.2 L613.5,203Z M651.9,169.9 L659.4,169.4 L660.5,168.4 L665.3,161 L664.8,160.2 L652.8,161.1 L649.5,162.9 L648.5,164.3Z M575.5,215.5 L586.6,208.5 L584.5,207.5 L568,209.3Z M552.8,221 L563.4,222 L565.5,222 L566.2,221.9 L568,221.3 L575.5,215.5 L568,209.3 L566.9,209.3 L565.1,210 L552,218.3 L551,219.1Z M661.3,210.1 L661.3,214.2 L664.3,214.3 L676.8,208.1 L677.2,207.6 L678.8,201.8 L678.2,200.1 L664.6,201Z M648.7,157.6 L656.7,150.9 L651.7,149.3 L644.7,152 L644.2,156Z M612.2,216 L615.1,209.3 L610.6,208.8 L600.9,214.8Z M673.5,164.8 L680.6,159.1 L681,157.6 L665.3,161 L660.5,168.4 L664.9,167.4Z M640,212.2 L649.3,210.9 L660.5,201.3 L651.8,202.5 L647.9,204.2 L641.6,209.4Z M657.9,154.5 L657.3,151 L656.7,150.9 L648.7,157.6 L648.6,161.9 L649.5,162.9 L652.8,161.1Z M671.8,150.3 L671.7,149.5 L661.1,149 L657.3,151 L657.9,154.5 L666.3,155.3Z M671.7,149.5 L671.8,150.3 L683.5,151.8 L683.5,144 L680.8,144.3 L674.7,144.7Z M678.2,200.1 L678.8,201.8 L683.5,201.4 L683.5,195.3Z M672.2,168.7 L675.7,174.4 L682.9,165.2 L680.6,159.1 L673.5,164.8 L672.2,168.6Z M594.1,215 L591.1,208.1 L590.6,207.7 L586.6,208.5 L575.5,215.5 L568,221.3 L570.9,222 L583.5,222Z M630.8,167.8 L621.3,166.6 L619.3,169 L616,178.8 L615.6,182.5 L616.9,182.2 L618.7,181.4 L631.5,170.1Z M610.6,208.8 L615.1,209.3 L619,208.8 L622.8,204.8 L621.4,203.2 L613.5,203Z M674.7,175.6 L669,184 L670.3,185.2 L680.4,183.3 L678.6,175.1 L675.4,175.2Z M635.7,182.4 L639.6,181.5 L646.9,174.8 L648.4,172.4 L638.5,173.8Z M635.1,170.1 L648.5,164.3 L649.5,162.9 L648.6,161.9 L640.6,160.3 L634.1,163.7 L630.8,167.8 L631.5,170.1 L633.8,170.1Z M651.7,149.3 L656.7,150.9 L657.3,151 L661.1,149 L664,145.5 L657.1,146 L652.8,147.3Z M683.2,215.2 L683.5,215.4 L683.5,214.9Z M637.7,214.2 L636.5,214.7 L627.4,220.5 L628.1,222 L645.6,222Z M660.5,168.4 L659.4,169.4 L659.8,171.7 L672.2,168.7 L672.2,168.6 L664.9,167.4Z M628.1,209.4 L636.5,214.7 L637.7,214.2 L640,212.2 L641.6,209.4 L634.5,201.5Z M617,219 L617.1,218.9 L612.2,216 L600.9,214.8 L597.4,216.1 L597.3,222 L612.7,222Z M681.5,222 L683.5,222 L683.5,220Z M635.7,182.4 L630.7,191.2 L632.9,194.2 L638.8,195.9 L639.2,195.8 L645,191.6 L646.7,182.9 L639.6,181.5 L635.7,182.4Z M586.6,208.5 L590.6,207.7 L595.8,201.1 L582.2,203.4 L582.8,205.7 L584.5,207.5Z M632.9,194.2 L630.7,191.2 L623.8,192 L621,192.8 L614.6,197 L614.6,199.8 L625.3,198.1Z M630.8,167.8 L634.1,163.7 L634,155.1 L627.5,159.1 L621.3,166.6Z M568,209.3 L584.5,207.5 L582.8,205.7 L577.5,205.1 L566.9,209.3Z M552.8,221 L552.2,222 L563.4,222Z M641.6,209.4 L647.9,204.2 L640.3,196.3 L639.2,195.8 L638.8,195.9 L634.6,201.4 L634.5,201.5Z M631.5,170.1 L618.7,181.4 L625.8,182.6 L631.6,182.3 L633.8,170.1Z M669,221.8 L664.3,214.3 L661.3,214.2 L651.7,219.7 L648.8,222 L668.9,222Z M659.6,175.9 L658.5,176.8 L656.8,188.4 L657.8,188.5 L669,184 L674.7,175.6Z M651.8,202.5 L651.1,197.9 L640.3,196.3 L647.9,204.2Z M666.3,155.3 L657.9,154.5 L652.8,161.1 L664.8,160.2Z M682.9,165.2 L675.7,174.4 L675.4,175.2 L678.6,175.1 L683.5,174.6 L683.5,165.1Z M626.6,221.2 L626,222 L628.1,222 L627.4,220.5 L627.4,220.5Z M648.4,172.4 L651.9,169.9 L648.5,164.3 L635.1,170.1 L638.5,173.8Z M614.6,197 L621,192.8 L616.9,182.2 L615.6,182.5 L614.4,195.3 L611.7,196.3Z M616.9,182.2 L621,192.8 L623.8,192 L625.8,182.6 L618.7,181.4Z M682.9,165.2 L683.5,165.1 L683.5,155.8 L682.8,155.8 L681,157.6 L680.6,159.1Z M680.4,183.3 L670.3,185.2 L671.9,191 L683.5,188.2 L683.5,183.5Z M683.5,220 L683.5,215.4 L683.2,215.2 L679.5,215.7 L669,221.8 L668.9,222 L681.5,222Z M612.7,222 L625.4,222 L626.6,221.2 L627.4,220.5 L617,219Z M648.6,161.9 L648.7,157.6 L644.2,156 L640.6,160.3Z M644.7,152 L651.7,149.3 L652.8,147.3 L640.7,150.9 L639.5,151.7Z M621.8,212.3 L617.1,218.9 L617,219 L627.4,220.5 L627.4,220.5 L636.5,214.7 L628.1,209.4Z M661.1,149 L671.7,149.5 L674.7,144.7 L664,145.5Z M659.8,171.7 L659.6,175.9 L674.7,175.6 L675.4,175.2 L675.7,174.4 L672.2,168.7Z M644.2,156 L644.7,152 L639.5,151.7 L634,155.1 L634.1,163.7 L640.6,160.3Z M625.8,182.6 L623.8,192 L630.7,191.2 L635.7,182.4 L631.6,182.3Z M682.8,155.8 L683.5,155.8 L683.5,153.4Z M645.6,222 L648.8,222 L651.7,219.7 L649.7,211.2 L649.3,210.9 L640,212.2 L637.7,214.2Z M683.5,214.9 L683.5,206.9 L677.2,207.6 L676.8,208.1 L679.5,215.7 L683.2,215.2Z M639.6,181.5 L646.7,182.9 L652.2,179.6 L646.9,174.8Z M648.4,172.4 L646.9,174.8 L652.2,179.6 L658.5,176.8 L659.6,175.9 L659.8,171.7 L659.4,169.4 L651.9,169.9Z M679.5,215.7 L676.8,208.1 L664.3,214.3 L669,221.8Z M640.3,196.3 L651.1,197.9 L658,192.7 L657.8,188.5 L656.8,188.4 L645,191.6 L639.2,195.8Z M658.5,176.8 L652.2,179.6 L646.7,182.9 L645,191.6 L656.8,188.4Z" fill="none" stroke="#3a3a3a" stroke-width="0.6" opacity="0.2"/></g>
<path d="M684,144 C683.5,144.1 685.3,144 680.8,144.3 C676.3,144.6 663.8,144.9 657.1,146 C650.4,147.1 645.6,148.7 640.7,150.9 C635.8,153.1 631.1,156.1 627.5,159.1 C623.9,162.1 621.2,165.7 619.3,169 C617.4,172.3 616.8,174.4 616,178.8 C615.2,183.2 616.9,191.7 614.4,195.3 C611.9,198.9 606.8,198.8 601.3,200.2 C595.8,201.6 587.5,201.9 581.5,203.5 C575.5,205.1 570,207.5 565.1,210 C560.2,212.5 555.2,216.1 552,218.3 C548.8,220.5 547,222.2 546,223 L684,223 Z" fill="#888" filter="url(#omottle)" style="mix-blend-mode:overlay" opacity="0.14"/>
<path d="M616,176 C622,173 630,170 638,167 C642,166 645,164 648,162" stroke="#3c3c3c" stroke-width="1.8" fill="none" opacity="0.55" filter="url(#blur07)"/>
<path d="M620,168 C630,160 640,156 655,152 L660,158 C645,162 632,166 622,172 Z" fill="#7a7a7a" opacity="0.6" filter="url(#blur1)"/>
<ellipse cx="491" cy="79" rx="5" ry="5" fill="#c8c8c8" filter="url(#blur2)"/>
<ellipse cx="605" cy="74" rx="5" ry="4.5" fill="#e2e2e2" filter="url(#blur1)"/>
<path d="M465.4,96.5 C467.3,94.4 472.9,87.5 476.8,83.9 C480.7,80.3 484.6,76.8 488.5,74.7 C492.4,72.6 495.8,72 500.3,71.3 C504.8,70.6 510.1,70.3 515.4,70.5 C520.7,70.7 526.6,71.7 532.2,72.5 C537.8,73.3 544.2,74.7 549,75.5 C553.8,76.3 557.1,76.9 560.7,77.6 C564.3,78.3 566.4,79 570.8,79.7 C575.1,80.4 582.2,81.9 586.8,81.9 C591.4,81.9 594.9,81.3 598.5,79.7 C602.1,78.1 605,74.9 608.6,72.2 C612.2,69.5 615.6,66.1 620.4,63.8 C625.1,61.5 631.5,59.6 637.1,58.4 C642.7,57.2 648.9,56.7 653.9,56.7 C658.9,56.7 663.5,57.5 667.4,58.4 C671.3,59.3 674.6,61 677.4,62.4 C680.2,63.8 682.9,65.8 684,66.5" stroke="#f4f4f4" stroke-width="2" fill="none" stroke-dasharray="6.5 4"/>
<path d="M680.8,144.3 C676.8,144.6 663.8,144.9 657.1,146 C650.4,147.1 645.6,148.7 640.7,150.9 C635.8,153.1 631.1,156.1 627.5,159.1 C623.9,162.1 621.2,165.7 619.3,169 C617.4,172.3 616.8,174.4 616,178.8 C615.2,183.2 616.9,191.7 614.4,195.3 C611.9,198.9 606.8,198.8 601.3,200.2 C595.8,201.6 587.5,201.9 581.5,203.5 C575.5,205.1 570,207.5 565.1,210 C560.2,212.5 555.2,216.1 552,218.3 C548.8,220.5 547,222.2 546,223" stroke="#f4f4f4" stroke-width="2" fill="none" stroke-dasharray="6.5 4"/>
<circle cx="498.5" cy="50.1" r="9.3" fill="none" stroke="#f0f0f0" stroke-width="1.1"/>
<text transform="translate(493.19,55.33) scale(0.87,1)" text-anchor="start" font-family="Liberation Serif" font-weight="normal" font-size="16.08" fill="#f0f0f0">A</text>
<circle cx="507" cy="92.5" r="9.7" fill="none" stroke="#f0f0f0" stroke-width="1.1"/>
<text transform="translate(501.18,97.23) scale(1.17,1)" text-anchor="start" font-family="Liberation Serif" font-weight="normal" font-size="14.89" fill="#f0f0f0">B</text>
<circle cx="504.6" cy="140.3" r="10.4" fill="none" stroke="#f0f0f0" stroke-width="1.1"/>
<text transform="translate(498.45,146.27) scale(1.09,1)" text-anchor="start" font-family="Liberation Serif" font-weight="normal" font-size="16.59" fill="#f0f0f0">C</text>
<text transform="translate(536.08,137.23) scale(1.07,1)" text-anchor="start" font-family="Liberation Serif" font-weight="bold" font-size="15.46" fill="#ffffff" stroke="#ffffff" stroke-width="0.28" stroke-linejoin="round">Regenerated film</text>
<text transform="translate(466.18,26.55) scale(1.04,1)" text-anchor="start" font-family="Liberation Serif" font-weight="bold" font-size="30.28" fill="#ffffff" stroke="#ffffff" stroke-width="0.29" stroke-linejoin="round">(c)</text>
</g>
<radialGradient id="gD" gradientUnits="userSpaceOnUse" cx="112.2" cy="340.5" r="52" gradientTransform="translate(112.2,340.5) scale(1,0.9) translate(-112.2,-340.5)"><stop offset="0" stop-color="#5e5e5e"/><stop offset="0.1" stop-color="#525252"/><stop offset="0.2" stop-color="#686868"/><stop offset="0.3" stop-color="#7c7c7c"/><stop offset="0.4" stop-color="#767676"/><stop offset="0.5" stop-color="#555"/><stop offset="0.6" stop-color="#323232"/><stop offset="0.8" stop-color="#1a1a1a"/><stop offset="0.9" stop-color="#0c0c0c"/><stop offset="1" stop-color="#000"/></radialGradient>
<g clip-path="url(#cpD)">
<g filter="url(#speckle1)">
<rect x="2" y="231.5" width="218.2" height="218.3" fill="#000"/>
<ellipse cx="112.2" cy="340.5" rx="52" ry="48.4" fill="url(#gD)"/>
<g filter="url(#blur2)"><ellipse cx="105.7" cy="336" rx="6.5" ry="5" fill="#000" opacity="0.55"/><ellipse cx="118.7" cy="336" rx="6.5" ry="5" fill="#000" opacity="0.55"/><ellipse cx="105.7" cy="345" rx="6.5" ry="5" fill="#000" opacity="0.55"/><ellipse cx="118.7" cy="345" rx="6.5" ry="5" fill="#000" opacity="0.55"/></g><g filter="url(#blur07)"><rect x="101.2" y="339.6" width="22" height="1.8" fill="#999"/><rect x="111.3" y="331.5" width="1.8" height="18" fill="#999"/></g><circle cx="112.2" cy="340.5" r="1.3" fill="#ddd"/>
</g>
<rect x="2" y="231.5" width="218.2" height="218.3" fill="#fff" opacity="0.025"/>
<text transform="translate(16.2,430.14) scale(1.07,1)" text-anchor="start" font-family="Liberation Serif" font-weight="bold" font-size="11.97" fill="#ffffff" stroke="#ffffff" stroke-width="0.28" stroke-linejoin="round">5 1/nm</text>
<rect x="16" y="434.1" width="47.9" height="1.9" fill="#f4f4f4"/>
<text transform="translate(5.79,255.16) scale(1.01,1)" text-anchor="start" font-family="Liberation Serif" font-weight="bold" font-size="31.24" fill="#ffffff" stroke="#ffffff" stroke-width="0.3" stroke-linejoin="round">(d)</text>
<text transform="translate(141.99,256.11) scale(0.99,1)" text-anchor="start" font-family="Liberation Serif" font-weight="bold" font-size="24.8" fill="#ffffff" stroke="#ffffff" stroke-width="0.3" stroke-linejoin="round">area A</text>
</g>
<radialGradient id="gE" gradientUnits="userSpaceOnUse" cx="343.2" cy="341.1" r="58" gradientTransform="translate(343.2,341.1) scale(1,1) translate(-343.2,-341.1)"><stop offset="0" stop-color="#8a8a8a"/><stop offset="0.1" stop-color="#626262"/><stop offset="0.3" stop-color="#525252"/><stop offset="0.4" stop-color="#484848"/><stop offset="0.6" stop-color="#444"/><stop offset="0.7" stop-color="#383838"/><stop offset="0.7" stop-color="#222"/><stop offset="0.8" stop-color="#141414"/><stop offset="0.9" stop-color="#0a0a0a"/><stop offset="1" stop-color="#000"/></radialGradient>
<g clip-path="url(#cpE)">
<g filter="url(#speckle2)">
<rect x="233.6" y="231.8" width="218" height="218" fill="#000"/>
<ellipse cx="343.2" cy="341.1" rx="58" ry="58" fill="url(#gE)"/>
<g filter="url(#blur2)"><ellipse cx="341.2" cy="341.1" rx="17" ry="6" fill="#8a8a8a" opacity="0.6"/></g><g filter="url(#blur1)"><ellipse cx="344.2" cy="341.1" rx="3.5" ry="8" fill="#e8e8e8" opacity="0.85"/></g>
</g>
<rect x="233.6" y="231.8" width="218" height="218" fill="#fff" opacity="0.025"/>
<circle cx="343.2" cy="341.1" r="38.3" fill="none" stroke="#d8d8d8" stroke-width="1.1"/>
<circle cx="343.2" cy="341.1" r="53.5" fill="none" stroke="#d0d0d0" stroke-width="1.1"/>
<path d="M373.3,317 L406.6,295.6 L417.1,295.6" stroke="#d0d0d0" stroke-width="1" fill="none"/>
<text transform="translate(374.21,289) scale(1.06,1)" text-anchor="start" font-family="Liberation Serif" font-weight="bold" font-size="13.92" fill="#ffffff" stroke="#ffffff" stroke-width="0.28" stroke-linejoin="round">Cu<tspan font-size="8.63" dy="3.2">2</tspan><tspan dy="-3.2">O (0 0 3)</tspan></text>
<path d="M347.1,394.8 L378.4,418.5 L389.8,418.5" stroke="#d0d0d0" stroke-width="1" fill="none"/>
<text transform="translate(369.23,410.1) scale(1.07,1)" text-anchor="start" font-family="Liberation Serif" font-weight="bold" font-size="13.77" fill="#ffffff" stroke="#ffffff" stroke-width="0.28" stroke-linejoin="round">Cu<tspan font-size="8.54" dy="3.17">2</tspan><tspan dy="-3.17">O (0 1 4)</tspan></text>
<text transform="translate(247.46,429.39) scale(1.17,1)" text-anchor="start" font-family="Liberation Serif" font-weight="bold" font-size="12.78" fill="#ffffff" stroke="#ffffff" stroke-width="0.26" stroke-linejoin="round">5 1/nm</text>
<rect x="247.4" y="434.5" width="38.6" height="1.9" fill="#f4f4f4"/>
<text transform="translate(236.77,255.46) scale(1.04,1)" text-anchor="start" font-family="Liberation Serif" font-weight="bold" font-size="30.29" fill="#ffffff" stroke="#ffffff" stroke-width="0.29" stroke-linejoin="round">(e)</text>
<text transform="translate(372.96,256.88) scale(0.97,1)" text-anchor="start" font-family="Liberation Serif" font-weight="bold" font-size="25.66" fill="#ffffff" stroke="#ffffff" stroke-width="0.31" stroke-linejoin="round">area B</text>
</g>
<radialGradient id="gF" gradientUnits="userSpaceOnUse" cx="574.4" cy="337.8" r="56" gradientTransform="translate(574.4,337.8) scale(1,1) translate(-574.4,-337.8)"><stop offset="0" stop-color="#6a6a6a"/><stop offset="0.1" stop-color="#525252"/><stop offset="0.3" stop-color="#464646"/><stop offset="0.5" stop-color="#424242"/><stop offset="0.6" stop-color="#444"/><stop offset="0.6" stop-color="#404040"/><stop offset="0.7" stop-color="#262626"/><stop offset="0.8" stop-color="#161616"/><stop offset="0.9" stop-color="#0a0a0a"/><stop offset="1" stop-color="#000"/></radialGradient>
<g clip-path="url(#cpF)">
<g filter="url(#speckle3)">
<rect x="465.4" y="231.5" width="218" height="217.5" fill="#000"/>
<ellipse cx="574.4" cy="337.8" rx="56" ry="56" fill="url(#gF)"/>
<g filter="url(#blur2)"><ellipse cx="568.4" cy="332.3" rx="5.5" ry="5" fill="#000" opacity="0.45"/><ellipse cx="580.4" cy="332.3" rx="5.5" ry="5" fill="#000" opacity="0.45"/><ellipse cx="568.4" cy="343.3" rx="5.5" ry="5" fill="#000" opacity="0.45"/><ellipse cx="580.4" cy="343.3" rx="5.5" ry="5" fill="#000" opacity="0.45"/></g><g filter="url(#blur1)"><rect x="562.4" y="336.3" width="24" height="3" fill="#b0b0b0" opacity="0.6"/><rect x="572.9" y="325.8" width="3" height="24" fill="#b0b0b0" opacity="0.6"/><ellipse cx="574.4" cy="337.8" rx="3.5" ry="3.5" fill="#ddd"/></g><circle cx="574.4" cy="337.8" r="34" fill="none" stroke="#5a5a5a" stroke-width="3.5" filter="url(#blur1)"/>
</g>
<rect x="465.4" y="231.5" width="218" height="217.5" fill="#fff" opacity="0.025"/>
<circle cx="574.4" cy="337.8" r="30.5" fill="none" stroke="#d8d8d8" stroke-width="1.1"/>
<circle cx="574.4" cy="337.8" r="36.6" fill="none" stroke="#d8d8d8" stroke-width="1.1"/>
<circle cx="574.4" cy="337.8" r="53.2" fill="none" stroke="#d0d0d0" stroke-width="1.1"/>
<path d="M605.2,315.9 L638.5,294.7 L649,294.7" stroke="#d0d0d0" stroke-width="1" fill="none"/>
<text transform="translate(605.83,288.33) scale(1.01,1)" text-anchor="start" font-family="Liberation Serif" font-weight="bold" font-size="14.58" fill="#ffffff" stroke="#ffffff" stroke-width="0.3" stroke-linejoin="round">Cu<tspan font-size="9.04" dy="3.35">2</tspan><tspan dy="-3.35">O (0 0 3)</tspan></text>
<path d="M584.2,366.7 L609.9,403.3 L620,403.3" stroke="#d0d0d0" stroke-width="1" fill="none"/>
<text transform="translate(604.51,396.62) scale(1.02,1)" text-anchor="start" font-family="Liberation Serif" font-weight="bold" font-size="14.47" fill="#ffffff" stroke="#ffffff" stroke-width="0.3" stroke-linejoin="round">Cu<tspan font-size="8.97" dy="3.33">2</tspan><tspan dy="-3.33">O (1 1 2)</tspan></text>
<path d="M561.2,389.5 L589.7,438.2 L601.4,438.2" stroke="#d0d0d0" stroke-width="1" fill="none"/>
<text transform="translate(587.65,433.13) scale(1.08,1)" text-anchor="start" font-family="Liberation Serif" font-weight="bold" font-size="13.65" fill="#ffffff" stroke="#ffffff" stroke-width="0.28" stroke-linejoin="round">Cu<tspan font-size="8.46" dy="3.14">2</tspan><tspan dy="-3.14">O (1 1 4)</tspan></text>
<text transform="translate(478.44,429.32) scale(1.03,1)" text-anchor="start" font-family="Liberation Serif" font-weight="bold" font-size="13.42" fill="#ffffff" stroke="#ffffff" stroke-width="0.29" stroke-linejoin="round">5 1/nm</text>
<rect x="478.3" y="434.3" width="36.8" height="1.9" fill="#f4f4f4"/>
<text transform="translate(468.78,254.95) scale(0.99,1)" text-anchor="start" font-family="Liberation Serif" font-weight="bold" font-size="30.81" fill="#ffffff" stroke="#ffffff" stroke-width="0.3" stroke-linejoin="round">(f)</text>
<text transform="translate(604.93,256.78) scale(0.98,1)" text-anchor="start" font-family="Liberation Serif" font-weight="bold" font-size="25.73" fill="#ffffff" stroke="#ffffff" stroke-width="0.31" stroke-linejoin="round">area C</text>
</g>
<rect x="200" y="469.1" width="321.5" height="257.6" fill="none" stroke="#4a4a4a" stroke-width="1.3"/>
<line x1="200" y1="710.2" x2="205" y2="710.2" stroke="#4a4a4a" stroke-width="1.2"/>
<text transform="translate(194.32,715.08) scale(1.07,1)" text-anchor="end" font-family="Liberation Serif" font-weight="bold" font-size="16.45" fill="#111111" stroke="#111111" stroke-width="0.28" stroke-linejoin="round">0</text>
<line x1="200" y1="693" x2="203" y2="693" stroke="#4a4a4a" stroke-width="1.2"/>
<line x1="200" y1="675.7" x2="205" y2="675.7" stroke="#4a4a4a" stroke-width="1.2"/>
<text transform="translate(194.31,681.58) scale(1.07,1)" text-anchor="end" font-family="Liberation Serif" font-weight="bold" font-size="16.83" fill="#111111" stroke="#111111" stroke-width="0.28" stroke-linejoin="round">10</text>
<line x1="200" y1="658.5" x2="203" y2="658.5" stroke="#4a4a4a" stroke-width="1.2"/>
<line x1="200" y1="641.2" x2="205" y2="641.2" stroke="#4a4a4a" stroke-width="1.2"/>
<text transform="translate(194.31,647.08) scale(1.07,1)" text-anchor="end" font-family="Liberation Serif" font-weight="bold" font-size="16.83" fill="#111111" stroke="#111111" stroke-width="0.28" stroke-linejoin="round">20</text>
<line x1="200" y1="624" x2="203" y2="624" stroke="#4a4a4a" stroke-width="1.2"/>
<line x1="200" y1="606.7" x2="205" y2="606.7" stroke="#4a4a4a" stroke-width="1.2"/>
<text transform="translate(194.31,612.58) scale(1.07,1)" text-anchor="end" font-family="Liberation Serif" font-weight="bold" font-size="16.83" fill="#111111" stroke="#111111" stroke-width="0.28" stroke-linejoin="round">30</text>
<line x1="200" y1="589.5" x2="203" y2="589.5" stroke="#4a4a4a" stroke-width="1.2"/>
<line x1="200" y1="572.2" x2="205" y2="572.2" stroke="#4a4a4a" stroke-width="1.2"/>
<text transform="translate(194.31,578.08) scale(1.07,1)" text-anchor="end" font-family="Liberation Serif" font-weight="bold" font-size="16.83" fill="#111111" stroke="#111111" stroke-width="0.28" stroke-linejoin="round">40</text>
<line x1="200" y1="555" x2="203" y2="555" stroke="#4a4a4a" stroke-width="1.2"/>
<line x1="200" y1="537.7" x2="205" y2="537.7" stroke="#4a4a4a" stroke-width="1.2"/>
<text transform="translate(194.31,543.58) scale(1.07,1)" text-anchor="end" font-family="Liberation Serif" font-weight="bold" font-size="16.83" fill="#111111" stroke="#111111" stroke-width="0.28" stroke-linejoin="round">50</text>
<line x1="200" y1="520.5" x2="203" y2="520.5" stroke="#4a4a4a" stroke-width="1.2"/>
<line x1="200" y1="503.2" x2="205" y2="503.2" stroke="#4a4a4a" stroke-width="1.2"/>
<text transform="translate(194.31,509.08) scale(1.07,1)" text-anchor="end" font-family="Liberation Serif" font-weight="bold" font-size="16.83" fill="#111111" stroke="#111111" stroke-width="0.28" stroke-linejoin="round">60</text>
<line x1="200" y1="486" x2="203" y2="486" stroke="#4a4a4a" stroke-width="1.2"/>
<line x1="200" y1="468.7" x2="205" y2="468.7" stroke="#4a4a4a" stroke-width="1.2"/>
<text transform="translate(194.31,474.58) scale(1.07,1)" text-anchor="end" font-family="Liberation Serif" font-weight="bold" font-size="16.83" fill="#111111" stroke="#111111" stroke-width="0.28" stroke-linejoin="round">70</text>
<line x1="280.4" y1="726.7" x2="280.4" y2="723.7" stroke="#4a4a4a" stroke-width="1.2"/>
<line x1="360.8" y1="726.7" x2="360.8" y2="721.7" stroke="#4a4a4a" stroke-width="1.2"/>
<line x1="441.1" y1="726.7" x2="441.1" y2="723.7" stroke="#4a4a4a" stroke-width="1.2"/>
<text transform="translate(188.12,746.9) scale(1.02,1)" text-anchor="start" font-family="Liberation Serif" font-weight="bold" font-size="16.4" fill="#111111" stroke="#111111" stroke-width="0.29" stroke-linejoin="round">0.0</text>
<text transform="translate(346.39,746.88) scale(1,1)" text-anchor="start" font-family="Liberation Serif" font-weight="bold" font-size="16.23" fill="#111111" stroke="#111111" stroke-width="0.3" stroke-linejoin="round">0.5</text>
<text transform="translate(502.75,746.75) scale(1.01,1)" text-anchor="start" font-family="Liberation Serif" font-weight="bold" font-size="16.12" fill="#111111" stroke="#111111" stroke-width="0.3" stroke-linejoin="round">1.0</text>
<text transform="translate(297.66,764.59) scale(1.16,1)" text-anchor="start" font-family="Liberation Serif" font-weight="bold" font-size="18.62" fill="#111111" stroke="#111111" stroke-width="0.26" stroke-linejoin="round">Position (μm)</text>
<text transform="translate(161.15,692.28) rotate(-90) scale(1.08,1)" text-anchor="start" font-family="Liberation Serif" font-weight="bold" font-size="20.3" fill="#111111" stroke="#111111" stroke-width="0.28" stroke-linejoin="round">Atomic fraction (%)</text>
<text transform="translate(133.21,479.39) scale(1.06,1)" text-anchor="start" font-family="Liberation Serif" font-weight="bold" font-size="27.7" fill="#111111" stroke="#111111" stroke-width="0.28" stroke-linejoin="round">(g)</text>
<line x1="279.7" y1="519" x2="279.7" y2="726" stroke="#333" stroke-width="1.1" stroke-dasharray="5 3"/>
<line x1="403.5" y1="519" x2="403.5" y2="726" stroke="#333" stroke-width="1.1" stroke-dasharray="5 3"/>
<path d="M200.5,707.2 C201.4,707.4 204.2,708.4 206,708.5 C207.8,708.6 209.6,708.4 211.4,707.8 C213.2,707.2 215,705.3 216.8,705.1 C218.6,704.9 220.4,706 222.2,706.5 C224,707 225.7,708.1 227.5,707.8 C229.3,707.5 230.7,705.2 232.9,704.5 C235.2,703.8 238.3,704.1 241,703.8 C243.7,703.5 246.6,702.5 249,702.5 C251.4,702.5 253.4,703 255.7,703.8 C257.9,704.6 260.5,706.3 262.5,707.2 C264.5,708.1 266,709.3 267.8,709.2 C269.6,709.1 271.4,707.5 273.2,706.5 C275,705.5 277,704.5 278.6,703.1 C280.2,701.8 281.3,698.3 282.6,698.4 C283.9,698.5 285.5,702.7 286.6,703.8 C287.7,704.9 287.9,704.6 289,704.9 C290.1,705.2 291.5,705.9 293.1,705.6 C294.7,705.3 296.6,702.8 298.4,702.9 C300.2,703 302,705.2 303.8,706.3 C305.6,707.4 307.4,709.3 309.2,709.6 C311,709.9 312.7,708.8 314.5,708.3 C316.3,707.8 318.1,706.8 319.9,706.9 C321.7,707 323.5,708.8 325.3,708.9 C327.1,709 328.9,707.5 330.7,707.6 C332.5,707.7 334.2,709.8 336,709.6 C337.8,709.4 340,707.4 341.4,706.3 C342.8,705.2 342.8,703.2 344.1,702.9 C345.5,702.5 347.7,703.8 349.5,704.2 C351.3,704.7 353,705.7 354.8,705.6 C356.6,705.5 358.4,704.3 360.2,703.6 C362,702.9 364,701.8 365.6,701.6 C367.2,701.4 368.5,701.6 370,702.5 C371.5,703.4 373.1,706.7 374.7,706.9 C376.3,707.1 377.5,704.1 379.4,703.6 C381.3,703.1 383.9,703.4 386.1,703.6 C388.3,703.8 390.3,704.1 392.8,704.9 C395.3,705.7 398.4,707.5 400.9,708.3 C403.4,709.1 404.9,709.3 407.6,709.6 C410.3,709.9 413.9,710.1 417,710 C420.1,709.9 423.5,708.9 426.4,708.9 C429.3,708.9 431.8,710 434.5,710 C437.2,710 439.8,709.2 442.5,709.2 C445.2,709.2 448.4,710.1 450.6,710 C452.9,709.9 453.7,708.7 456,708.7 C458.3,708.7 461.8,710.1 464.6,710.2 C467.4,710.3 470.6,709.5 473,709.4 C475.4,709.3 477,709.8 479.3,709.9 C481.6,710 484.2,709.6 486.7,709.7 C489.1,709.8 491.6,710.5 494,710.5 C496.4,710.5 498.9,709.5 501.4,709.4 C503.9,709.3 506.5,709.8 508.8,709.9 C511.1,710 513.2,709.9 515.1,709.9 C517,709.9 519.5,710 520.4,710" stroke="#ff2a2a" stroke-width="1.8" fill="none" stroke-linejoin="round"/>
<path d="M200.5,705.8 C201.4,705.9 204.2,706.6 206,706.5 C207.8,706.4 209.6,705.6 211.4,705.1 C213.2,704.6 214.6,704.2 216.8,703.8 C219.1,703.4 222.2,702.3 224.9,702.5 C227.6,702.7 230,705 232.9,705.1 C235.8,705.2 239.6,703.2 242.3,703.1 C245,703 246.8,704.4 249,704.5 C251.2,704.6 253.7,703.7 255.7,703.8 C257.7,703.9 259.1,705.3 261.1,705.1 C263.1,704.9 265.6,703.4 267.8,702.5 C270.1,701.6 272.8,700.5 274.6,699.8 C276.4,699.1 277,698.4 278.6,698.4 C280.2,698.4 282.3,699.8 284,699.8 C285.7,699.8 287.5,698.6 289,698.5 C290.5,698.4 291.5,698.4 293.1,698.9 C294.7,699.4 296.6,700.8 298.4,701.6 C300.2,702.4 302,702.8 303.8,703.6 C305.6,704.4 307.6,706 309.2,706.3 C310.8,706.6 312,705.8 313.2,705.6 C314.4,705.4 315.5,705.1 316.6,705.2 C317.7,705.3 318.7,706.1 319.9,706.3 C321.1,706.5 322.3,707.1 323.9,706.5 C325.5,705.9 327.3,703.8 329.3,702.9 C331.3,702 334.1,701.7 336,700.9 C337.9,700.1 339.1,698.2 340.7,698.2 C342.3,698.2 343.9,700.1 345.4,700.9 C346.9,701.7 348.1,702.1 349.5,702.9 C350.9,703.7 352.4,705 353.5,705.6 C354.6,706.2 355.2,707 356.2,706.3 C357.2,705.6 358.2,704.1 359.5,701.6 C360.8,699.1 363,693 364.2,691.5 C365.4,690 366,691 366.9,692.8 C367.8,694.6 368.3,699.6 369.6,702.2 C370.9,704.8 373.1,707.8 374.7,708.3 C376.3,708.8 377.7,706.2 379.4,705.2 C381.1,704.2 382.8,703 384.8,702.2 C386.8,701.4 389.5,700 391.5,700.2 C393.5,700.4 395.1,702.8 396.9,703.6 C398.7,704.4 400.2,705.8 402.2,705.2 C404.2,704.6 407,700.6 409,700.2 C411,699.8 412.3,702 414.3,702.9 C416.3,703.8 419,705.3 421,705.6 C423,705.9 424.4,704.6 426.4,704.9 C428.4,705.2 430.9,707.5 433.1,707.6 C435.3,707.7 437.8,705.8 439.8,705.6 C441.8,705.4 443.4,706.6 445.2,706.5 C447,706.4 448.8,705.2 450.6,705.2 C452.4,705.2 454.4,705.9 456.2,706.3 C458,706.6 459.9,707.5 461.5,707.3 C463.1,707.1 464.1,705.4 465.7,705.2 C467.3,705 469.3,705.9 470.9,706.3 C472.5,706.6 473.4,707.8 475.1,707.3 C476.9,706.8 479.6,703.8 481.4,703.6 C483.1,703.4 484,705.3 485.6,706.3 C487.2,707.3 489.1,708.9 490.9,709.4 C492.6,709.9 494.4,709.6 496.1,709.4 C497.9,709.2 499.6,708.9 501.4,708.4 C503.2,707.9 505.1,706.3 506.7,706.3 C508.3,706.3 509.5,708 510.9,708.4 C512.3,708.8 513.5,709 515.1,708.9 C516.7,708.8 519.5,708 520.4,707.8" stroke="#2a2aff" stroke-width="1.8" fill="none" stroke-linejoin="round"/>
<path d="M200.5,705.1 C201.4,705.5 204.2,707 206,707.2 C207.8,707.4 209.6,707.2 211.4,706.5 C213.2,705.8 215,703.9 216.8,703.1 C218.6,702.3 220.4,701.9 222.2,701.8 C224,701.7 225.7,702.6 227.5,702.5 C229.3,702.4 231.1,701.2 232.9,701.1 C234.7,701 236.5,702 238.3,701.8 C240.1,701.6 241.5,700.4 243.7,699.8 C245.9,699.2 249.5,698.7 251.7,698.4 C253.9,698.1 255.3,698.1 257.1,697.8 C258.9,697.5 260.9,696.7 262.5,696.8 C264.1,696.9 265.2,697.6 266.5,698.4 C267.8,699.2 268.9,701.1 270.5,701.8 C272.1,702.5 274.3,702.6 275.9,702.5 C277.5,702.4 278.8,702.2 279.9,701.1 C281,700 281.7,697.7 282.6,695.7 C283.5,693.7 284.4,691.3 285.3,689 C286.2,686.7 287.1,684.5 288,682 C288.9,679.5 289.7,677.3 290.5,674 C291.3,670.7 292.1,666.8 293,662 C293.9,657.2 294.9,649 296,645 C297.1,641 298.2,638.5 299.4,637.8 C300.6,637.1 301.7,639.4 303,641 C304.3,642.6 305.4,649.6 307.2,647.6 C309,645.6 312.2,633.7 314,629.1 C315.8,624.5 316.5,622.9 318,620 C319.5,617.1 321.2,611.7 322.8,611.6 C324.4,611.5 325.7,620.5 327.6,619.4 C329.5,618.3 332.4,606.3 334.4,604.8 C336.4,603.3 337.7,609.7 339.5,610.5 C341.3,611.3 343.5,609.1 345,609.7 C346.5,610.3 347.4,610.6 348.5,614 C349.6,617.4 350.4,624.6 351.5,630 C352.6,635.4 353.3,645.8 354.8,646.6 C356.3,647.4 358.8,635.7 360.6,634.9 C362.4,634.1 363.9,642.2 365.5,641.7 C367.1,641.2 368.7,635.2 370.5,632 C372.3,628.8 374.4,623.1 376.2,622.3 C377.9,621.5 379.2,628.7 381,627.2 C382.8,625.7 384.8,613.2 386.9,613.5 C389,613.8 391.6,622.9 393.7,629 C395.8,635.1 398.1,644.4 399.5,650.4 C400.9,656.4 400.8,659 401.8,665 C402.8,671 404.5,680.1 405.6,686.1 C406.7,692.1 407.3,697.3 408.3,700.9 C409.3,704.5 410.4,706.6 411.6,707.6 C412.8,708.6 414.1,707.5 415.7,706.9 C417.3,706.3 419.2,704.5 421,704.2 C422.8,703.9 424.6,704.9 426.4,705.2 C428.2,705.5 429.8,706.5 431.8,706 C433.8,705.5 436.5,702.2 438.5,702.2 C440.5,702.2 442.1,705.3 443.9,706.3 C445.7,707.3 447.4,708.4 449.2,708.3 C451,708.2 453.2,706.4 454.6,705.6 C456,704.8 456.1,704.2 457.3,703.6 C458.5,703 460.4,702 462,702.1 C463.6,702.2 464.9,703.5 466.7,704.2 C468.5,704.9 470.9,706.1 473,706.3 C475.1,706.5 477.2,705.3 479.3,705.2 C481.4,705.1 483.5,705.8 485.6,705.7 C487.7,705.6 490.1,705 491.9,704.7 C493.6,704.5 494.5,704.3 496.1,704.2 C497.7,704.1 499.8,704 501.4,704.2 C503,704.5 504,705.2 505.6,705.7 C507.2,706.2 509.3,707.2 510.9,707.3 C512.5,707.4 513.5,706.8 515.1,706.3 C516.7,705.8 519.5,704.6 520.4,704.2" stroke="#ff3cff" stroke-width="1.8" fill="none" stroke-linejoin="round"/>
<path d="M200.5,699.5 C201.4,699.6 204.2,700.2 206,700.4 C207.8,700.6 209.4,701 211.4,700.8 C213.4,700.6 215.8,698.7 218.1,699.1 C220.3,699.5 222.9,702.3 224.9,703.1 C226.9,703.9 228,704.3 230.2,703.8 C232.4,703.2 236.1,700.8 238.3,699.8 C240.6,698.8 241.9,698 243.7,697.8 C245.5,697.6 247.2,697.8 249,698.4 C250.8,699 252.4,701 254.4,701.1 C256.4,701.2 259.1,698.9 261.1,699.1 C263.1,699.3 264.7,702.5 266.5,702.5 C268.3,702.5 270.3,699.9 271.9,699.1 C273.5,698.3 274.8,699 275.9,697.8 C277,696.6 277.8,694 278.6,691.7 C279.5,689.4 279.9,686.2 281,684 C282.1,681.8 283.8,679.6 285,678.7 C286.2,677.8 287,677.2 288.4,678.7 C289.8,680.2 291.4,684.9 293.1,687.5 C294.8,690.1 296.4,693.5 298.4,694.2 C300.4,694.9 302.9,693.3 305.1,691.5 C307.4,689.7 309.8,685.6 311.9,683.4 C314,681.2 316.3,678.6 317.9,678.3 C319.5,678 320.2,680 321.3,681.4 C322.4,682.8 323.3,686.3 324.6,686.8 C325.9,687.3 327.6,684.7 329.3,684.5 C331,684.3 332.9,685.7 334.7,685.4 C336.5,685.1 338.5,682.9 340.1,682.8 C341.7,682.7 342.5,683.6 344.1,684.8 C345.7,686 347.9,688.9 349.5,690.1 C351.1,691.3 352.2,691 353.5,692.2 C354.8,693.4 356.1,697.1 357.5,697.5 C358.9,697.9 360.2,695.7 361.6,694.8 C363,693.9 364.4,694.1 365.6,692.2 C366.8,690.3 367.8,686.1 368.9,683.4 C370,680.7 371,675.5 372.3,676 C373.6,676.5 374.6,682.3 376.7,686.1 C378.8,689.9 382.1,697.9 384.8,698.9 C387.5,699.9 390.1,694.4 392.8,692.2 C395.5,690 399,686.7 400.9,685.8 C402.8,684.9 402.9,686 404.2,686.8 C405.5,687.6 407,691.5 408.9,690.8 C410.8,690.1 413.2,682.6 415.7,682.8 C418.2,683 421.3,691.4 423.7,692.2 C426.1,693 427.9,689.5 429.8,687.5 C431.7,685.5 433,679.8 435.1,680.5 C437.2,681.2 440.1,690.1 442.5,691.5 C444.9,692.9 447.2,689.5 449.2,688.8 C451.2,688.1 453.1,686.9 454.6,687.3 C456.1,687.7 456.8,689.2 458.3,691 C459.8,692.8 461.7,698.2 463.6,697.9 C465.5,697.5 467.7,691.4 469.9,688.9 C472.1,686.4 474.9,683.6 476.7,683.1 C478.4,682.6 479,684.4 480.4,685.8 C481.8,687.2 483.2,691.8 485.1,691.5 C487,691.2 489.9,684.8 491.9,684.2 C493.9,683.6 495.4,686.4 497.2,687.9 C499,689.4 500.8,691.8 502.5,693.1 C504.2,694.4 505.8,696.1 507.2,695.8 C508.6,695.5 509.6,693 510.9,691.5 C512.2,690 513.9,687 515.1,686.6 C516.3,686.2 517.3,688.2 518.2,689.4 C519.1,690.6 520,693.2 520.4,694" stroke="#f07a28" stroke-width="1.8" fill="none" stroke-linejoin="round"/>
<path d="M200.5,633.8 C201.2,635.1 202.8,641.7 204.7,641.5 C206.6,641.3 210,632.9 212,632.5 C214,632.1 215.4,639 216.9,639.4 C218.4,639.8 219.3,632.4 220.9,635 C222.5,637.6 224.7,653.6 226.6,654.8 C228.5,655.9 230,642.8 232.3,641.9 C234.6,641 238,648.3 240.4,649.1 C242.8,649.9 244.5,644.9 246.9,646.7 C249.3,648.5 251.8,658.6 255,659.7 C258.2,660.8 263.1,654.8 266.3,653.2 C269.5,651.6 272.2,649.9 274.4,650 C276.6,650.1 277.8,651 279.3,654 C280.8,657 282.3,662.8 283.3,667.8 C284.3,672.8 284.9,680 285.5,684 C286.1,688 286.2,690.1 287,692 C287.8,693.9 289.4,695 290.4,695.5 C291.4,696 291.8,694.3 293.1,694.8 C294.4,695.2 296.6,697.1 298.4,698.2 C300.2,699.3 302.2,700.7 303.8,701.6 C305.4,702.5 306.5,703.6 307.8,703.6 C309.1,703.6 310.5,702.5 311.9,701.6 C313.2,700.7 314.5,699.7 315.9,698.2 C317.3,696.7 318.9,693.4 320.2,692.8 C321.5,692.2 322.6,694 323.9,694.8 C325.2,695.6 326.8,696 328,697.5 C329.2,699 330.2,702.4 331.3,703.6 C332.4,704.8 333.5,705.2 334.7,704.9 C335.9,704.6 337.1,702.4 338.7,701.6 C340.3,700.8 342.3,699.9 344.1,700.2 C345.9,700.5 347.7,702.7 349.5,703.6 C351.3,704.5 353,705.2 354.8,705.6 C356.6,706 358.4,706.9 360.2,706.3 C362,705.7 363.8,703.7 365.6,702.2 C367.4,700.7 369.4,698 371,697.5 C372.6,697 373.8,698.6 375,699.5 C376.2,700.4 376.5,702.4 378.1,702.9 C379.7,703.4 382.7,702.9 384.8,702.2 C386.9,701.5 388.8,698.7 390.8,698.5 C392.8,698.3 394.8,700.6 396.9,700.9 C399,701.2 401.5,700.5 403.6,700.2 C405.7,699.9 407.6,698.7 409.6,698.9 C411.6,699.1 413.4,701 415.7,701.6 C418,702.2 421.5,702.5 423.7,702.2 C425.9,701.9 427.2,700.6 429.1,699.8 C431,699 433.1,697.5 435.1,697.5 C437.1,697.5 439.3,699.6 441.2,699.8 C443.1,700 444.8,698.4 446.6,698.5 C448.4,698.6 450.1,700.5 451.9,700.6 C453.7,700.8 455.5,699.3 457.3,699.4 C459.1,699.5 460.9,701.1 462.5,701.3 C464.1,701.5 465.4,700.2 467.2,700.5 C468.9,700.8 471.3,702.6 473,703.1 C474.7,703.6 475.8,703.8 477.2,703.6 C478.6,703.4 479.8,702.4 481.4,702.1 C483,701.9 484.8,702.3 486.7,702.1 C488.6,701.9 490.8,700.5 492.5,700.7 C494.2,700.9 495.4,703 497.2,703.4 C499,703.8 501.6,703.2 503.5,703.4 C505.4,703.6 506.9,704.5 508.8,704.5 C510.7,704.5 513.2,703.8 515.1,703.6 C517,703.5 519.5,703.6 520.4,703.6" stroke="#1e1e1e" stroke-width="1.8" fill="none" stroke-linejoin="round"/>
<path d="M200.5,645.9 C201.2,644.8 203.2,641.2 205,639 C206.8,636.8 209.1,632.4 211.2,632.9 C213.3,633.4 215.9,641.2 217.7,641.9 C219.5,642.6 220.5,638.9 222,637 C223.5,635.1 224.6,629.1 226.6,630.5 C228.6,631.9 231.1,642.4 233.9,645.1 C236.7,647.8 240.4,646.8 243.6,646.7 C246.8,646.6 250.6,643.3 253.3,644.3 C256,645.2 257.4,651.3 259.8,652.4 C262.2,653.5 265.5,650.9 267.9,650.8 C270.3,650.7 272.5,650.5 274.4,651.6 C276.3,652.7 277.9,659.4 279.3,657.2 C280.7,655 281.6,647.1 282.5,638.6 C283.4,630.1 283.9,615.3 284.9,606.2 C285.8,597.1 287.2,589.2 288.2,584 C289.2,578.8 289.8,575.6 291,575 C292.2,574.4 293.8,576.7 295.7,580.5 C297.6,584.3 300.1,598.3 302.2,597.9 C304.3,597.5 306.7,579.4 308.2,578 C309.7,576.6 309.8,582.9 311.3,589.6 C312.8,596.3 314.8,619.2 317,618.1 C319.2,617 322.7,586.8 324.8,583.1 C326.9,579.4 327.8,591.1 329.4,596.1 C330.9,601.1 332.6,611.2 334.1,612.9 C335.6,614.6 336.9,607.9 338.5,606.4 C340.1,604.9 341.8,607.6 343.7,603.9 C345.6,600.2 348.2,590.8 350.1,584.4 C352,578 353.6,565.1 355.3,565.8 C357,566.4 358.7,581.3 360.5,588.3 C362.3,595.3 364.2,606.8 366.2,607.7 C368.1,608.6 370.3,600 372.2,593.5 C374.1,587 375.7,570.2 377.4,568.9 C379.1,567.6 380.6,579.9 382.5,585.7 C384.4,591.5 386.4,600 388.5,603.9 C390.6,607.8 393,608.5 395,609 C397,609.5 399.1,606.2 400.7,607 C402.3,607.8 402.9,613.1 404.5,613.8 C406.1,614.5 408.1,609.2 410.2,611 C412.2,612.8 414.4,624.3 416.8,624.3 C419.2,624.3 421.9,612.3 424.4,611 C426.9,609.7 429.5,616.1 432,616.6 C434.5,617.1 437.2,612.7 439.6,613.8 C442,614.9 443.9,623 446.3,623.3 C448.7,623.6 451.1,615.4 453.8,615.7 C456.5,616 459.7,624.2 462.4,625.2 C465.1,626.2 467.3,623.1 470,621.4 C472.7,619.7 475.5,614.8 478.5,614.8 C481.5,614.8 485.3,621.7 488,621.4 C490.7,621.1 492.4,613.7 494.6,612.9 C496.8,612.1 498.9,618 501.3,616.6 C503.7,615.2 506.4,605 508.9,604.2 C511.4,603.4 514.6,610.2 516.5,611.8 C518.4,613.4 519.8,613.4 520.4,613.7" stroke="#40e820" stroke-width="1.8" fill="none" stroke-linejoin="round"/>
<path d="M200.5,615.1 C201.3,614.4 203.6,610.4 205.5,611.1 C207.4,611.8 209.7,618.9 212,619.2 C214.3,619.5 217,615.6 219.3,612.7 C221.6,609.8 223.6,601.4 225.8,601.7 C228,602 229.9,611 232.3,614.3 C234.7,617.6 237.4,618.1 240.4,621.6 C243.4,625.1 247,635.8 250.1,635.4 C253.2,635 256.7,620.7 259,619.2 C261.3,617.7 262.3,625.5 263.9,626.5 C265.5,627.5 266.9,625 268.7,625.3 C270.4,625.6 272.6,631 274.4,628.1 C276.2,625.2 278.1,613.5 279.3,607.8 C280.5,602.1 280.6,592.1 281.7,594 C282.8,595.9 283.9,612 285.7,619.2 C287.4,626.4 290.4,633.3 292.2,637 C294,640.7 294.4,642.4 296.3,641.4 C298.2,640.4 301.4,631.5 303.5,631.1 C305.6,630.7 306.8,636.2 308.7,638.8 C310.6,641.4 313.1,642.9 315.2,646.6 C317.3,650.3 319.2,660.5 321.1,660.9 C323,661.3 324.6,652.2 326.8,649.2 C329,646.2 331.7,642.5 334.1,642.7 C336.5,642.9 338.9,648.5 341.1,650.5 C343.4,652.5 345.5,655.5 347.6,654.4 C349.8,653.3 351.9,646.8 354,644 C356.1,641.2 358.6,640.5 360.5,637.5 C362.4,634.5 364.2,624.8 365.7,625.9 C367.2,627 368.1,637.3 369.6,644 C371.1,650.7 373.1,665.1 374.8,666 C376.5,666.9 378.1,653.3 380,649.2 C381.9,645.1 384.7,642.7 386.4,641.4 C388.1,640.1 388.8,646.1 390.3,641.4 C391.8,636.6 393.8,624.1 395.5,612.9 C397.2,601.7 399.3,582.9 400.7,574 C402.1,565.1 403,564.2 404,559.6 C405,555 405.4,548.9 406.9,546.2 C408.4,543.5 410.3,546.2 412.9,543.2 C415.5,540.2 418.9,528.5 422.4,528.3 C425.9,528 430,543.4 433.8,541.7 C437.6,540 441.6,519.9 445.1,517.9 C448.6,515.9 451.6,530.7 454.6,529.8 C457.6,528.9 460.6,512.8 463,512.5 C465.4,512.2 466.9,526.9 468.9,528.3 C470.9,529.7 473,521.3 474.9,520.9 C476.8,520.5 478,527.8 480,526 C482,524.2 484.4,509.6 486.7,509.9 C489,510.2 491.5,526.4 493.6,528 C495.7,529.6 497.7,521.4 499.4,519.6 C501.1,517.8 501.6,515.8 504,517 C506.4,518.2 511,526.4 513.7,526.7 C516.4,527 519.3,520.3 520.4,519" stroke="#6ef0ff" stroke-width="1.8" fill="none" stroke-linejoin="round"/>
<line x1="215.3" y1="484" x2="246.3" y2="484" stroke="#ff2a2a" stroke-width="1.8"/>
<text transform="translate(248.19,488.9) scale(0.98,1)" text-anchor="start" font-family="Liberation Serif" font-weight="normal" font-size="14.15" fill="#222">C</text>
<line x1="265.4" y1="484" x2="296.4" y2="484" stroke="#2a2aff" stroke-width="1.8"/>
<text transform="translate(298.31,488.9) scale(1.09,1)" text-anchor="start" font-family="Liberation Serif" font-weight="normal" font-size="14.15" fill="#222">N</text>
<line x1="215.3" y1="500.8" x2="246.3" y2="500.8" stroke="#ff3cff" stroke-width="1.8"/>
<text transform="translate(248.03,504.93) scale(0.96,1)" text-anchor="start" font-family="Liberation Serif" font-weight="normal" font-size="15.09" fill="#222">O</text>
<line x1="265.4" y1="500.8" x2="296.4" y2="500.8" stroke="#f07a28" stroke-width="1.8"/>
<text transform="translate(299.07,505) scale(1.01,1)" text-anchor="start" font-family="Liberation Serif" font-weight="normal" font-size="13.25" fill="#222">Cl</text>
<line x1="215.3" y1="517.1" x2="246.3" y2="517.1" stroke="#40e820" stroke-width="1.8"/>
<text transform="translate(248.08,521.5) scale(1.03,1)" text-anchor="start" font-family="Liberation Serif" font-weight="normal" font-size="14.15" fill="#222">Ni</text>
<line x1="265.4" y1="517.1" x2="296.4" y2="517.1" stroke="#6ef0ff" stroke-width="1.8"/>
<text transform="translate(299.03,521.88) scale(0.94,1)" text-anchor="start" font-family="Liberation Serif" font-weight="normal" font-size="14.62" fill="#222">Cu</text>
<line x1="215.3" y1="533.9" x2="246.3" y2="533.9" stroke="#1e1e1e" stroke-width="1.8"/>
<text transform="translate(248.14,538) scale(1.03,1)" text-anchor="start" font-family="Liberation Serif" font-weight="normal" font-size="14.15" fill="#222">Pt</text>
<line x1="201" y1="589.3" x2="278.7" y2="589.3" stroke="#222" stroke-width="1.3"/>
<path d="M201,589.3 l6,-2.1 l0,4.2 Z" fill="#111"/>
<path d="M278.7,589.3 l-6,-2.1 l0,4.2 Z" fill="#111"/>
<line x1="280.7" y1="562.8" x2="402.5" y2="562.8" stroke="#222" stroke-width="1.3"/>
<path d="M280.7,562.8 l6,-2.1 l0,4.2 Z" fill="#111"/>
<path d="M402.5,562.8 l-6,-2.1 l0,4.2 Z" fill="#111"/>
<line x1="404.5" y1="593" x2="520.5" y2="593" stroke="#222" stroke-width="1.3"/>
<path d="M404.5,593 l6,-2.1 l0,4.2 Z" fill="#111"/>
<path d="M520.5,593 l-6,-2.1 l0,4.2 Z" fill="#111"/>
<text transform="translate(229.95,583.82) scale(1.01,1)" text-anchor="start" font-family="Liberation Serif" font-weight="bold" font-size="16.3" fill="#111111" stroke="#111111" stroke-width="0.3" stroke-linejoin="round">Pt</text>
<text transform="translate(281.35,557.56) scale(1.04,1)" text-anchor="start" font-family="Liberation Serif" font-weight="bold" font-size="16.02" fill="#111111" stroke="#111111" stroke-width="0.29" stroke-linejoin="round">Regenerated film</text>
<text transform="translate(430.33,584.53) scale(1.2,1)" text-anchor="start" font-family="Liberation Serif" font-weight="bold" font-size="14.29" fill="#111111" stroke="#111111" stroke-width="0.25" stroke-linejoin="round">Substrate</text>
</svg>
</body></html>
